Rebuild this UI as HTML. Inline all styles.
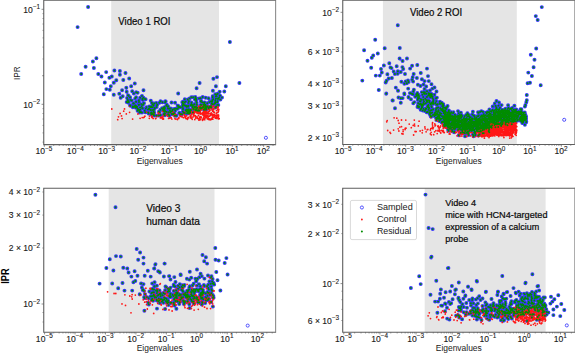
<!DOCTYPE html>
<html lang="en">
<head>
<meta charset="utf-8">
<title>IPR vs Eigenvalues</title>
<style>
html,body{margin:0;padding:0;background:#fff;}
body{width:575px;height:353px;overflow:hidden;font-family:"Liberation Sans", sans-serif;}
svg{display:block;font-family:"Liberation Sans", sans-serif;}
</style>
</head>
<body>
<svg width="575" height="353" viewBox="0 0 575 353">
<defs><filter id="sb" x="-2%" y="-2%" width="104%" height="104%"><feGaussianBlur stdDeviation="0.32"/></filter></defs>
<rect width="575" height="353" fill="#fff"/>
<clipPath id="c1"><rect x="43.75" y="0.25" width="231.9" height="144.4"/></clipPath>
<rect x="111.2" y="0.25" width="107.8" height="144.4" fill="#e5e5e5"/>
<g clip-path="url(#c1)"><g filter="url(#sb)">
<path d="M81.2 74h0M88.1 7h0M77.6 27.1h0M96.4 58.3h0M92.9 61.5h0M85.6 66.7h0M93.9 67.9h0M106.2 72.1h0M98.3 74h0M101.5 76.4h0M114.4 70.5h0M119.9 70.9h0M125.5 72.9h0M119.9 74.8h0M111.8 76.4h0M109.4 77.8h0M116.3 80.2h0M123.3 80h0M129.2 78.4h0M104.8 82.4h0M113.8 82.8h0M110.8 86.2h0M134.8 83.4h0M131.2 86.3h0M126.3 87.7h0M106.4 89.1h0M109.8 89.7h0M122.1 90.3h0M126.7 91.7h0M132.2 91.3h0M137.6 92.7h0M143.5 90.3h0M103.8 94.3h0M113.8 94.7h0M119.3 93.7h0M122.7 96.3h0M120.7 97.7h0M128.6 95.7h0M178.2 93.5h0M199.6 83h0M196.6 88.3h0M213.4 78.7h0M217 77.1h0M215.9 86.2h0M225.8 86.2h0M219.7 91.8h0M224.3 91.4h0M212.9 90.7h0M222 97.5h0M219.7 95.7h0M220.4 99.6h0M229.9 42h0M239.4 83h0M160.6 115.1h0M133.5 106.8h0M188.4 102.9h0M206.1 106.3h0M188.8 113.2h0M191.9 105.6h0M200.9 101.5h0M217.3 104.9h0M133.9 103.4h0M193.1 105.1h0M175.1 102.8h0M166.8 104.6h0M136.2 106.2h0M182 114.3h0M164.5 109.2h0M184.8 99.3h0M215.1 102.2h0M210.2 107.1h0M136 101.6h0M126.7 102h0M186.7 106.9h0M205.8 108.6h0M162.5 102.3h0M180.8 107.3h0M154.9 108h0M202.5 107.4h0M151.8 102.8h0M215.3 103h0M188.1 113.3h0M211.2 107.6h0M162 108.3h0M142 95.9h0M163.4 108.3h0M154 109.8h0M143 104.8h0M171.5 102.5h0M195.3 109.8h0M153.7 109.7h0M186.9 109.4h0M175.6 108.6h0M182.9 111.5h0M137.6 110.8h0M190.2 112.4h0M219.1 97.6h0M148.6 113.6h0M187.8 99.5h0M140.1 97.7h0M170.4 112.3h0M192.5 107h0M137.1 107h0M179.5 112.7h0M159.7 112.1h0M153.6 114.2h0M212.9 104.3h0M192.9 106.3h0M135.2 98.4h0M138.7 104.9h0M145 99h0M153.8 115.3h0M175 115.7h0M138.9 100.3h0M194.9 99.5h0M195.3 97.3h0M196.2 99.5h0M184.9 113.1h0M142.7 99.9h0M201.2 104.9h0M196 98.8h0M196.8 104.7h0M188.9 101.3h0M182.9 101.8h0M178.8 106.4h0M217.7 93.7h0M172.4 110.7h0M143.6 103.3h0M127.9 102.5h0M160.5 101.2h0M212.7 96.3h0M164.3 107.1h0M178.1 105.6h0M188.6 109.5h0M157 105.3h0M190 111.7h0M150.3 109.6h0M148.1 109.4h0M183.7 112.7h0M165.7 101.5h0M177.7 108.8h0M215.3 94.3h0M184.5 105.3h0M216.6 94.5h0M189.7 113.1h0M152.7 114h0M188.9 109.5h0M185.6 101.6h0M208.5 98.2h0M159 111.5h0M191.3 104.2h0M201.1 100.6h0M202.7 102.4h0M151.4 113.5h0M150.8 100.6h0M196.2 100.9h0M190.7 110.2h0M156.7 107h0M134.9 106.1h0M209.4 102.1h0M132.9 106.5h0M215.5 101.9h0M128.1 95.2h0M166.5 105.6h0M201.6 108.3h0M160.4 109.7h0M133.2 103.5h0M139.5 110.6h0M187.6 110.5h0M204.5 104.8h0M153.5 105.2h0M168 108.5h0M218.7 98.9h0M133.8 93.4h0M212.7 97.2h0M185.7 110.3h0M154.5 115.5h0M191.5 102.5h0M136.1 101.9h0M145.8 108.6h0M164 114.4h0M195.3 96.9h0M130.4 105.7h0M165.3 111.3h0M202 102.1h0M212.4 100.3h0M150.9 113h0M195.6 97.8h0M204.1 105.7h0M169.9 110.6h0M131.8 100.5h0M173.2 114.3h0M139.1 104.8h0M196.1 106.9h0M214.5 103.9h0M200.6 98.3h0M209.5 106.7h0M177.7 105.7h0M141.2 104.1h0M184.6 102.5h0M200.8 104.8h0M196.3 109.4h0M132.8 107.2h0M189.6 98.4h0M151.6 112.4h0M139.6 112.4h0M182.7 106.9h0M154.2 103.5h0M136.2 92.3h0M149.2 106.5h0M159.4 102.7h0M128.8 102h0M151.4 106.4h0M182 114.1h0M215.9 98.6h0M196.7 102.7h0M150.4 107.1h0M140.8 112h0M192.9 112.4h0M164.8 115.2h0M211.7 103.7h0M205.5 105.8h0M139.5 112h0M157.2 104.8h0M205.7 97.8h0M206.2 109.5h0M176.8 108.8h0M193.3 108.2h0M193.4 109.3h0M208.8 98.6h0M166.4 105.8h0M163.1 110h0M199.1 98.4h0M148.2 112.6h0M153.6 111.9h0M217.3 102.3h0M218.3 105h0M140.2 109.6h0M168.6 112.1h0M195.4 107.2h0M189.1 111.5h0M199.9 107.7h0M187.5 112.7h0M199.3 110.6h0M145.6 99.2h0M169.3 108.5h0M156.2 102.9h0M151.7 107.1h0M142.7 108.4h0M174.2 108.9h0M205.3 104.6h0M127.8 99.9h0M170.7 108.5h0M136.1 97.2h0M130 105.3h0M152.6 104.5h0M146.4 107.1h0M149.1 108.8h0M152.2 110.1h0M176.5 115.7h0M174.4 113.3h0M215.4 107.5h0M192.4 105.2h0M209.4 106.9h0M179.8 107.3h0M203.3 106.8h0M158.7 115.5h0M208.7 108.4h0M212.1 101.8h0M187.3 109.9h0M190.9 110h0M203.3 107.5h0M160.4 115.3h0M133.5 103.1h0M130.1 97.2h0M168.8 114.5h0M128.3 101.3h0M142.1 108h0M135.3 105.4h0M188.3 106.5h0M130.4 99.9h0M165 113.4h0M164.7 107.2h0M183 103.6h0M217.6 101.1h0M127.1 98h0M134.4 106.9h0M205.8 107.5h0M182.3 102.2h0M186.6 106.1h0M139 102.1h0M175.2 110.8h0M164.6 113.1h0M220.1 95.6h0M185.6 105.9h0M183 108.6h0M203.1 107.6h0M182.7 105.3h0M185.7 105.8h0M189.4 110.4h0M216.6 96.4h0M204 109.8h0M197.9 110.7h0M154.3 112.6h0M191.3 97.3h0M143.4 97.7h0M172.8 114.1h0M194.5 104.3h0M144.7 110.6h0M190.8 109.9h0M165.1 102.4h0M195.2 99h0M183.3 104.1h0M137.7 108.7h0M187.1 113.4h0M195.8 110.2h0M211 101.5h0M165.4 101.3h0M141.9 112.6h0M215.1 103h0M216.1 106.7h0M193.1 97.3h0M207.4 106.5h0M168.2 114.3h0M196.7 110.2h0M204.6 102.5h0M152.9 107.1h0M202.7 97h0M153.8 111.6h0M171.1 111.4h0M188.9 109.6h0M179.1 113h0M215.3 100.2h0M141.7 106.1h0M138.8 109.8h0M173.7 113.4h0M151.3 114.4h0M206.3 108h0M207.3 103.3h0M215.8 96.4h0M196.5 107.7h0M211.1 106.1h0M200.2 107.3h0M194.9 106.7h0M200.4 108.6h0M144 103.3h0M205.2 109.6h0M183 109.2h0M164.1 113.6h0M168.1 106.3h0M171.8 114h0M217.7 98.8h0M203.3 104.6h0M188.3 105.6h0M169.3 115.7h0M204.9 108.1h0M180.5 114.3h0M197.6 107.9h0M198.7 110.2h0M140.1 107.6h0M135.9 107.7h0M213.2 99.2h0M186.5 111.3h0M194.5 107.5h0M163.9 111h0M167.9 106.7h0M148.2 112.5h0M139 101.7h0M163.8 109.2h0M172.6 109.8h0M164.8 108.4h0M178.5 107.3h0M166.7 111.9h0M164.4 110h0M142.4 98.9h0M208.7 107.7h0M190.6 105.3h0M205.1 109.5h0M145.3 112.2h0M188.6 111.6h0M204.3 102.9h0M150.5 110h0M156.6 115.6h0" stroke="#3838fc" stroke-width="3.95" stroke-linecap="round" fill="none"/>
<circle cx="265.9" cy="137.8" r="1.55" fill="none" stroke="#3838fc" stroke-width="0.85"/>
<path d="M111.8 109h0M129.6 106.2h0M123.7 111.2h0M120.1 113.5h0M126.3 113.9h0M117.7 119.7h0M132.6 119.1h0M122.1 118.6h0M129.6 112.3h0M118.5 116.8h0M124.5 108.9h0M121.5 115.9h0M180.5 113.9h0M191 117.9h0M162.4 118.5h0M175.2 119.1h0M163.3 114.9h0M167.5 116.1h0M144.9 116.2h0M166.9 115.2h0M177.6 119.1h0M186.5 111.1h0M153.2 118.4h0M185.8 116.1h0M156.9 116.4h0M152.1 116.6h0M146.6 112.2h0M184.1 114.2h0M162.4 118.2h0M173.4 115.4h0M193 116.9h0M160.4 117.9h0M140.1 118.3h0M164.1 115h0M148.8 112.6h0M169.9 118h0M174.4 115.9h0M173.1 113.6h0M192.2 119.3h0M155.6 118.7h0M162.8 119h0M182.2 116.1h0M149.3 118.3h0M186.6 115.8h0M160.1 113.8h0M191.3 114.7h0M184.4 112.2h0M169 115h0M174.4 113.8h0M164.8 111.3h0M142.2 117.6h0M158.5 115.7h0M188.4 117.5h0M184.9 112.5h0M176.9 119.1h0M162 117.9h0M162.6 111.4h0M173.6 112.8h0M191 111.7h0M163.5 119h0M189.2 114.1h0M175.7 114.7h0M175 118.5h0M154.3 113.6h0M178.9 117.7h0M162.2 116.9h0M190.6 117.7h0M151.8 115.5h0M175.2 115.6h0M183.5 117.7h0M171.9 119.1h0M172.9 111.9h0M152.2 117.6h0M148.7 112.8h0M144.2 117.1h0M158.4 112.5h0M160.8 117.4h0M187.8 118.4h0M170 112.9h0M174.6 115.1h0M187.5 119.3h0M137.9 114h0M181.1 114h0M166.7 112.4h0M149.5 116.1h0M151.7 116.9h0M190.2 115.9h0M158.3 112.7h0M163.2 116.8h0M180 115.9h0M164.7 114.6h0M158.2 113.7h0M177.5 119.5h0M187.3 118.2h0M182 116.9h0M178.8 118.4h0M159 115.7h0M155.9 118.3h0M168.6 118.4h0M185.3 117.6h0M184.9 116.4h0M179.8 114.1h0M171.2 117.7h0M143.6 117.6h0M186 118.5h0M184.5 115.5h0M180.5 116.3h0M216.9 112.8h0M212.8 119.2h0M205.7 113.4h0M207.3 116.2h0M211.1 119.1h0M194.8 119.6h0M211.8 106.8h0M219.2 118.7h0M200.6 110.5h0M193.2 114.3h0M208.6 106.4h0M208.1 112.6h0M214.1 112.5h0M193.6 112.5h0M201.1 117.5h0M200.6 114.1h0M201.1 113.3h0M216.6 116.9h0M203.8 116.1h0M212.2 119.1h0M212.8 111.1h0M194.7 109.7h0M203.1 114.3h0M198.2 113.2h0M209 109.5h0M196.6 109.6h0M198.1 111h0M196 108.9h0M198.5 109.7h0M191.5 112.7h0M199.7 117.7h0M207 112.7h0M211.5 108.2h0M214.2 114.7h0M210.8 115h0M202.7 109.2h0M212.9 115.2h0M202.6 112.9h0M208.8 118.9h0M199.3 112.7h0M211.4 107.9h0M217.8 109.2h0M202.7 120.3h0M191 116.3h0M203.2 119.2h0M211.5 118.6h0M193.1 112.8h0M209.7 116.1h0M205.8 116.2h0M215.6 117.3h0M205.7 109.6h0M207.4 118.5h0M211.2 114.3h0M218.1 107h0M204.2 114.3h0M218.6 116.8h0M211.9 108.9h0M213.7 109.6h0M218.5 109.9h0M195.5 115.9h0M205.7 116.8h0M212.9 114.9h0M207.3 116.3h0M200.3 106.4h0M204.8 106.9h0M210.1 115.3h0M207.5 118.9h0M194 111.5h0M204.3 107.4h0M197.3 113.3h0M210.6 106.6h0M200.5 117h0M199 120.2h0M196.6 107.1h0M193 108.3h0M202.4 113.2h0M214.2 112.6h0M204.4 113.6h0M207.1 109.5h0M205.7 117.3h0M204.1 108.8h0M198.7 108.7h0M218.5 118.9h0M212.2 114.4h0M218.6 115.2h0M206.4 111.8h0M198.7 106.1h0M218.5 110.7h0M196.2 107.3h0M205.4 106.5h0M206.4 115.4h0M196.1 111.1h0M204.9 110.4h0M199.9 119h0M208.7 113h0M214 117h0M199.3 113.6h0M195.9 106.4h0M206.9 113.6h0M203.7 117.7h0M210.1 113.8h0M212.6 109.6h0M212.8 114.7h0M204.5 111.7h0M217.1 115.2h0M198.4 115.7h0M202.7 106.2h0M212.7 111.3h0M213.7 108.6h0M203.3 112.9h0M204.7 119.4h0M201.5 105.9h0M197.9 112.2h0M199.8 107.7h0M218.2 112h0M201.3 117.2h0M218.4 111.6h0M211.2 112.8h0M210.3 119.8h0M196.9 116.8h0M200 116.6h0M201 110.2h0M210.1 115.6h0M205.9 116.3h0M195.7 118.1h0M212.7 118.8h0M215.4 107h0M198.9 109.6h0M191.8 118.2h0M209.4 111.1h0M216.2 115.6h0M209.1 119.7h0M199.6 113.3h0M209.4 111.2h0M202.8 107.7h0M190.1 110.8h0M196.5 108.1h0M215.8 108.1h0M204.7 119.7h0M195.2 111.6h0M215.5 118.2h0M210.6 119.5h0M208.2 118.1h0M207.4 106.5h0M211.1 105.5h0M210 110.2h0M216.3 113.3h0M196.2 110.6h0M194.6 112.4h0M205.9 116.7h0M213.4 111.6h0M198.7 107.3h0M208.6 106.8h0M190.1 116.2h0M218 112.3h0M206 117.3h0M212.1 110h0M211.7 119.3h0M198.5 115.3h0M196.5 112.5h0M200.3 119.7h0M199.1 113.4h0M198.6 118.7h0M213.6 117h0M193.6 114h0M196.1 110.8h0M213.1 106.7h0M210.6 108.1h0M203.4 115.1h0M200.5 107.4h0M194.4 113.1h0M193.2 113.3h0M204.7 110.2h0M216.6 110.6h0M206 115.1h0M202.4 114.6h0M202.4 120h0M209.6 118.9h0M203.4 115.3h0M204.6 107.1h0M212.4 114.1h0M214.4 115.2h0M193.5 115.8h0M213.9 109.1h0M214.4 112.4h0M208.2 113.8h0M204.9 116.6h0M218.1 115.9h0M205.2 111.8h0M213.6 106h0M204.9 118.5h0M202.5 108.9h0M197.3 117.7h0M198.5 113h0M207.9 115.5h0M200.2 112.5h0M190.3 117.9h0M206.9 117.8h0M212.3 117.5h0M216.8 118.4h0M210.5 114.1h0M197.4 118.4h0M194.6 115.4h0M205.6 113.1h0M208.6 116.5h0M204.7 118.9h0M208.1 111.8h0M208.2 119.1h0M215.5 115.3h0M207.8 106.2h0M203.5 111.3h0M203.9 113.1h0M207.5 115.8h0M191.4 111.1h0M193.5 115.6h0M195.4 109.7h0M203.5 111.4h0M195.6 108.1h0M203.5 115.5h0M218.8 109.4h0M193.7 111.9h0M216.1 115.5h0M203.9 112.4h0M204.7 115h0M218.2 114.9h0M216.8 117.3h0M200.5 108.6h0M216.7 107.1h0M208.7 107.7h0M195.3 116.5h0M218 107.6h0M205.9 112h0M212.5 117h0M192.4 108.9h0M212.2 115.1h0M202.2 119.1h0M214.3 116.5h0M207.9 115.6h0M208.2 118.4h0M218.1 117.3h0" stroke="#ff1414" stroke-width="1.76" stroke-linecap="round" fill="none"/>
</g>
<path d="M81.2 74h0M88.1 7h0M77.6 27.1h0M96.4 58.3h0M92.9 61.5h0M85.6 66.7h0M93.9 67.9h0M106.2 72.1h0M98.3 74h0M101.5 76.4h0M114.4 70.5h0M119.9 70.9h0M125.5 72.9h0M119.9 74.8h0M111.8 76.4h0M109.4 77.8h0M116.3 80.2h0M123.3 80h0M129.2 78.4h0M104.8 82.4h0M113.8 82.8h0M110.8 86.2h0M134.8 83.4h0M131.2 86.3h0M126.3 87.7h0M106.4 89.1h0M109.8 89.7h0M122.1 90.3h0M126.7 91.7h0M132.2 91.3h0M137.6 92.7h0M143.5 90.3h0M103.8 94.3h0M113.8 94.7h0M119.3 93.7h0M122.7 96.3h0M120.7 97.7h0M128.6 95.7h0M178.2 93.5h0M199.6 83h0M196.6 88.3h0M213.4 78.7h0M217 77.1h0M215.9 86.2h0M225.8 86.2h0M219.7 91.8h0M224.3 91.4h0M212.9 90.7h0M222 97.5h0M219.7 95.7h0M220.4 99.6h0M229.9 42h0M239.4 83h0M160.6 115.1h0M133.5 106.8h0M188.4 102.9h0M206.1 106.3h0M188.8 113.2h0M191.9 105.6h0M200.9 101.5h0M217.3 104.9h0M133.9 103.4h0M193.1 105.1h0M175.1 102.8h0M166.8 104.6h0M136.2 106.2h0M182 114.3h0M164.5 109.2h0M184.8 99.3h0M215.1 102.2h0M210.2 107.1h0M136 101.6h0M126.7 102h0M186.7 106.9h0M205.8 108.6h0M162.5 102.3h0M180.8 107.3h0M154.9 108h0M202.5 107.4h0M151.8 102.8h0M215.3 103h0M188.1 113.3h0M211.2 107.6h0M162 108.3h0M142 95.9h0M163.4 108.3h0M154 109.8h0M143 104.8h0M171.5 102.5h0M195.3 109.8h0M153.7 109.7h0M186.9 109.4h0M175.6 108.6h0M182.9 111.5h0M137.6 110.8h0M190.2 112.4h0M219.1 97.6h0M148.6 113.6h0M187.8 99.5h0M140.1 97.7h0M170.4 112.3h0M192.5 107h0M137.1 107h0M179.5 112.7h0M159.7 112.1h0M153.6 114.2h0M212.9 104.3h0M192.9 106.3h0M135.2 98.4h0M138.7 104.9h0M145 99h0M153.8 115.3h0M175 115.7h0M138.9 100.3h0M194.9 99.5h0M195.3 97.3h0M196.2 99.5h0M184.9 113.1h0M142.7 99.9h0M201.2 104.9h0M196 98.8h0M196.8 104.7h0M188.9 101.3h0M182.9 101.8h0M178.8 106.4h0M217.7 93.7h0M172.4 110.7h0M143.6 103.3h0M127.9 102.5h0M160.5 101.2h0M212.7 96.3h0M164.3 107.1h0M178.1 105.6h0M188.6 109.5h0M157 105.3h0M190 111.7h0M150.3 109.6h0M148.1 109.4h0M183.7 112.7h0M165.7 101.5h0M177.7 108.8h0M215.3 94.3h0M184.5 105.3h0M216.6 94.5h0M189.7 113.1h0M152.7 114h0M188.9 109.5h0M185.6 101.6h0M208.5 98.2h0M159 111.5h0M191.3 104.2h0M201.1 100.6h0M202.7 102.4h0M151.4 113.5h0M150.8 100.6h0M196.2 100.9h0M190.7 110.2h0M156.7 107h0M134.9 106.1h0M209.4 102.1h0M132.9 106.5h0M215.5 101.9h0M128.1 95.2h0M166.5 105.6h0M201.6 108.3h0M160.4 109.7h0M133.2 103.5h0M139.5 110.6h0M187.6 110.5h0M204.5 104.8h0M153.5 105.2h0M168 108.5h0M218.7 98.9h0M133.8 93.4h0M212.7 97.2h0M185.7 110.3h0M154.5 115.5h0M191.5 102.5h0M136.1 101.9h0M145.8 108.6h0M164 114.4h0M195.3 96.9h0M130.4 105.7h0M165.3 111.3h0M202 102.1h0M212.4 100.3h0M150.9 113h0M195.6 97.8h0M204.1 105.7h0M169.9 110.6h0M131.8 100.5h0M173.2 114.3h0M139.1 104.8h0M196.1 106.9h0M214.5 103.9h0M200.6 98.3h0M209.5 106.7h0M177.7 105.7h0M141.2 104.1h0M184.6 102.5h0M200.8 104.8h0M196.3 109.4h0M132.8 107.2h0M189.6 98.4h0M151.6 112.4h0M139.6 112.4h0M182.7 106.9h0M154.2 103.5h0M136.2 92.3h0M149.2 106.5h0M159.4 102.7h0M128.8 102h0M151.4 106.4h0M182 114.1h0M215.9 98.6h0M196.7 102.7h0M150.4 107.1h0M140.8 112h0M192.9 112.4h0M164.8 115.2h0M211.7 103.7h0M205.5 105.8h0M139.5 112h0M157.2 104.8h0M205.7 97.8h0M206.2 109.5h0M176.8 108.8h0M193.3 108.2h0M193.4 109.3h0M208.8 98.6h0M166.4 105.8h0M163.1 110h0M199.1 98.4h0M148.2 112.6h0M153.6 111.9h0M217.3 102.3h0M218.3 105h0M140.2 109.6h0M168.6 112.1h0M195.4 107.2h0M189.1 111.5h0M199.9 107.7h0M187.5 112.7h0M199.3 110.6h0M145.6 99.2h0M169.3 108.5h0M156.2 102.9h0M151.7 107.1h0M142.7 108.4h0M174.2 108.9h0M205.3 104.6h0M127.8 99.9h0M170.7 108.5h0M136.1 97.2h0M130 105.3h0M152.6 104.5h0M146.4 107.1h0M149.1 108.8h0M152.2 110.1h0M176.5 115.7h0M174.4 113.3h0M215.4 107.5h0M192.4 105.2h0M209.4 106.9h0M179.8 107.3h0M203.3 106.8h0M158.7 115.5h0M208.7 108.4h0M212.1 101.8h0M187.3 109.9h0M190.9 110h0M203.3 107.5h0M160.4 115.3h0M133.5 103.1h0M130.1 97.2h0M168.8 114.5h0M128.3 101.3h0M142.1 108h0M135.3 105.4h0M188.3 106.5h0M130.4 99.9h0M165 113.4h0M164.7 107.2h0M183 103.6h0M217.6 101.1h0M127.1 98h0M134.4 106.9h0M205.8 107.5h0M182.3 102.2h0M186.6 106.1h0M139 102.1h0M175.2 110.8h0M164.6 113.1h0M220.1 95.6h0M185.6 105.9h0M183 108.6h0M203.1 107.6h0M182.7 105.3h0M185.7 105.8h0M189.4 110.4h0M216.6 96.4h0M204 109.8h0M197.9 110.7h0M154.3 112.6h0M191.3 97.3h0M143.4 97.7h0M172.8 114.1h0M194.5 104.3h0M144.7 110.6h0M190.8 109.9h0M165.1 102.4h0M195.2 99h0M183.3 104.1h0M137.7 108.7h0M187.1 113.4h0M195.8 110.2h0M211 101.5h0M165.4 101.3h0M141.9 112.6h0M215.1 103h0M216.1 106.7h0M193.1 97.3h0M207.4 106.5h0M168.2 114.3h0M196.7 110.2h0M204.6 102.5h0M152.9 107.1h0M202.7 97h0M153.8 111.6h0M171.1 111.4h0M188.9 109.6h0M179.1 113h0M215.3 100.2h0M141.7 106.1h0M138.8 109.8h0M173.7 113.4h0M151.3 114.4h0M206.3 108h0M207.3 103.3h0M215.8 96.4h0M196.5 107.7h0M211.1 106.1h0M200.2 107.3h0M194.9 106.7h0M200.4 108.6h0M144 103.3h0M205.2 109.6h0M183 109.2h0M164.1 113.6h0M168.1 106.3h0M171.8 114h0M217.7 98.8h0M203.3 104.6h0M188.3 105.6h0M169.3 115.7h0M204.9 108.1h0M180.5 114.3h0M197.6 107.9h0M198.7 110.2h0M140.1 107.6h0M135.9 107.7h0M213.2 99.2h0M186.5 111.3h0M194.5 107.5h0M163.9 111h0M167.9 106.7h0M148.2 112.5h0M139 101.7h0M163.8 109.2h0M172.6 109.8h0M164.8 108.4h0M178.5 107.3h0M166.7 111.9h0M164.4 110h0M142.4 98.9h0M208.7 107.7h0M190.6 105.3h0M205.1 109.5h0M145.3 112.2h0M188.6 111.6h0M204.3 102.9h0M150.5 110h0M156.6 115.6h0" stroke="#008c00" stroke-width="1.9" stroke-linecap="round" fill="none"/>
</g>
<path d="M44.3 144.65v2.2M53.73 144.65v1.2M59.25 144.65v1.2M63.16 144.65v1.2M66.2 144.65v1.2M68.68 144.65v1.2M70.78 144.65v1.2M72.59 144.65v1.2M74.2 144.65v1.2M75.63 144.65v2.2M85.06 144.65v1.2M90.58 144.65v1.2M94.49 144.65v1.2M97.53 144.65v1.2M100.01 144.65v1.2M102.11 144.65v1.2M103.92 144.65v1.2M105.53 144.65v1.2M106.96 144.65v2.2M116.39 144.65v1.2M121.91 144.65v1.2M125.82 144.65v1.2M128.86 144.65v1.2M131.34 144.65v1.2M133.44 144.65v1.2M135.25 144.65v1.2M136.86 144.65v1.2M138.29 144.65v2.2M147.72 144.65v1.2M153.24 144.65v1.2M157.15 144.65v1.2M160.19 144.65v1.2M162.67 144.65v1.2M164.77 144.65v1.2M166.58 144.65v1.2M168.19 144.65v1.2M169.62 144.65v2.2M179.05 144.65v1.2M184.57 144.65v1.2M188.48 144.65v1.2M191.52 144.65v1.2M194 144.65v1.2M196.1 144.65v1.2M197.91 144.65v1.2M199.52 144.65v1.2M200.95 144.65v2.2M210.38 144.65v1.2M215.9 144.65v1.2M219.81 144.65v1.2M222.85 144.65v1.2M225.33 144.65v1.2M227.43 144.65v1.2M229.24 144.65v1.2M230.85 144.65v1.2M232.28 144.65v2.2M241.71 144.65v1.2M247.23 144.65v1.2M251.14 144.65v1.2M254.18 144.65v1.2M256.66 144.65v1.2M258.76 144.65v1.2M260.57 144.65v1.2M262.18 144.65v1.2M263.61 144.65v2.2M273.04 144.65v1.2M43.75 9.3h-2.2M43.75 104.3h-2.2M43.75 75.7h-1.2M43.75 58.97h-1.2M43.75 47.1h-1.2M43.75 37.9h-1.2M43.75 30.38h-1.2M43.75 24.02h-1.2M43.75 18.51h-1.2M43.75 13.65h-1.2M43.75 75.7h-1.2M43.75 142.1h-1.2M43.75 132.9h-1.2M43.75 125.38h-1.2M43.75 119.02h-1.2M43.75 113.51h-1.2M43.75 108.65h-1.2" stroke="#5e5e5e" stroke-width="0.7" fill="none"/>
<path d="M43.75 -0.25V145.15M43.75 0.25H275.65M43.75 144.65H275.65" fill="none" stroke="#5e5e5e" stroke-width="1.1"/>
<path d="M275.65 -0.25V145.15" fill="none" stroke="#5e5e5e" stroke-width="0.78"/>
<text x="44" y="154.4" text-anchor="middle" font-size="8.6" fill="#1a1a1a" stroke="#1a1a1a" stroke-width="0.12">10<tspan dy="-3.4" font-size="6.4">−5</tspan></text>
<text x="75.3" y="154.4" text-anchor="middle" font-size="8.6" fill="#1a1a1a" stroke="#1a1a1a" stroke-width="0.12">10<tspan dy="-3.4" font-size="6.4">−4</tspan></text>
<text x="106.7" y="154.4" text-anchor="middle" font-size="8.6" fill="#1a1a1a" stroke="#1a1a1a" stroke-width="0.12">10<tspan dy="-3.4" font-size="6.4">−3</tspan></text>
<text x="138" y="154.4" text-anchor="middle" font-size="8.6" fill="#1a1a1a" stroke="#1a1a1a" stroke-width="0.12">10<tspan dy="-3.4" font-size="6.4">−2</tspan></text>
<text x="169.3" y="154.4" text-anchor="middle" font-size="8.6" fill="#1a1a1a" stroke="#1a1a1a" stroke-width="0.12">10<tspan dy="-3.4" font-size="6.4">−1</tspan></text>
<text x="200.6" y="154.4" text-anchor="middle" font-size="8.6" fill="#1a1a1a" stroke="#1a1a1a" stroke-width="0.12">10<tspan dy="-3.4" font-size="6.4">0</tspan></text>
<text x="232" y="154.4" text-anchor="middle" font-size="8.6" fill="#1a1a1a" stroke="#1a1a1a" stroke-width="0.12">10<tspan dy="-3.4" font-size="6.4">1</tspan></text>
<text x="263.3" y="154.4" text-anchor="middle" font-size="8.6" fill="#1a1a1a" stroke="#1a1a1a" stroke-width="0.12">10<tspan dy="-3.4" font-size="6.4">2</tspan></text>
<text x="40.2" y="12.6" text-anchor="end" font-size="8.6" fill="#1a1a1a" stroke="#1a1a1a" stroke-width="0.12">10<tspan dy="-3.4" font-size="6.4">−1</tspan></text>
<text x="40.2" y="107.6" text-anchor="end" font-size="8.6" fill="#1a1a1a" stroke="#1a1a1a" stroke-width="0.12">10<tspan dy="-3.4" font-size="6.4">−2</tspan></text>
<text x="159.7" y="163.6" text-anchor="middle" font-size="8.4" textLength="46" lengthAdjust="spacingAndGlyphs" fill="#1a1a1a">Eigenvalues</text>
<clipPath id="c2"><rect x="342.75" y="0.25" width="232.1" height="144.25"/></clipPath>
<rect x="382.9" y="0.25" width="133.9" height="144.25" fill="#e5e5e5"/>
<g clip-path="url(#c2)"><g filter="url(#sb)">
<path d="M397.8 25.2h0M375.2 39.7h0M364.1 50.2h0M384.7 48.3h0M399.8 47.9h0M377.8 53.4h0M373.2 55.4h0M371.8 57.8h0M367.5 60.8h0M399.6 58.4h0M407 58.4h0M371.2 67.7h0M375.8 75.6h0M379.8 75.6h0M362.3 80.6h0M378.8 89.9h0M402.6 61h0M389.3 63.3h0M383.9 65.4h0M396.7 66.2h0M390.5 67.4h0M391.5 68.1h0M402.4 67.1h0M403.2 68.9h0M412.1 65.7h0M417.3 65h0M410.1 68.6h0M427 68.6h0M381 68.9h0M381.8 72.5h0M393.7 71.5h0M397.9 71.3h0M400.8 71.9h0M387.4 74.3h0M394.9 74h0M397.6 73.7h0M405 74h0M413.7 74h0M420.8 72.9h0M428 76.1h0M412.7 77.3h0M416.9 77.9h0M388.7 78.5h0M391.9 77.9h0M421.9 79.3h0M424.6 81.1h0M428.8 81.1h0M386.5 80.8h0M385.7 82.4h0M401.4 81.7h0M405.6 81.4h0M408 80.5h0M408.6 82h0M406.8 83.2h0M404.4 83.8h0M412.1 79.6h0M413.1 81.4h0M417.9 84.8h0M420.5 86h0M395.8 87.6h0M398.1 90.7h0M408.2 88.6h0M413.9 89.8h0M413.3 91.5h0M410.7 93.1h0M412.1 93.9h0M386.2 93.7h0M404.4 94.2h0M398.5 97.5h0M402.6 98.1h0M392.5 100.5h0M408.6 97.5h0M411 99.3h0M432.4 88.6h0M430 90.4h0M427 91.2h0M436.5 91.5h0M386.3 93.5h0M392.8 100.4h0M395 108.3h0M400.8 98.3h0M400.8 102.8h0M398 90.7h0M404.3 93.5h0M408.5 96.9h0M409.9 93.1h0M413.3 103.2h0M418.9 107.4h0M422.8 110.6h0M423.5 84.5h0M426.2 86.5h0M431.5 84.2h0M434.5 87.5h0M424.5 88.9h0M541.8 7.1h0M535.8 16.1h0M537.7 20h0M536.2 48.5h0M530.8 54.7h0M534.5 59.8h0M533.6 67.2h0M528.3 72.6h0M531.9 76h0M527.6 83.3h0M530 82.8h0M540.7 85.3h0M526.8 95h0M526.8 100.3h0M526.3 102.3h0M525.4 104.9h0M524.9 106.6h0M508.1 105.2h0M514.4 105.7h0M496.5 101h0M499 102.5h0M494.8 103.5h0M437.4 104.7h0M445.2 118.2h0M424 101.6h0M444.3 124.7h0M448.7 117.6h0M424.8 93.9h0M417.7 95.8h0M448.7 118.5h0M428.3 107.4h0M436.2 101.1h0M430 113.1h0M428.9 108.1h0M447.3 119.6h0M430.2 110.5h0M425.9 108.5h0M433.1 114.7h0M421.3 105.3h0M438.5 110.3h0M438.7 110.6h0M439.3 121h0M442.6 109.8h0M427.8 105.8h0M430.4 103.4h0M439.9 112.5h0M449.7 117h0M428.6 109.8h0M433.1 109.3h0M442.1 121.4h0M433.3 99.1h0M432.6 103.6h0M428.2 95.5h0M437.7 104.2h0M442.9 106.7h0M432.5 98.1h0M444.9 118.8h0M430.2 115.1h0M430.8 116.4h0M428.4 104.9h0M436.9 97.6h0M422 104.4h0M436.4 104.6h0M428.5 100.4h0M423.6 92.2h0M424.8 111h0M423 104.6h0M442.6 111.1h0M416.4 94.5h0M439.7 114.2h0M422.4 94.8h0M424.8 92.6h0M427.2 101.9h0M438.6 115.3h0M431.8 116.1h0M448.7 122.9h0M420.7 99.3h0M436.5 108.4h0M432.5 96.4h0M437.1 112.1h0M435.5 103h0M436.4 120h0M431.2 116.7h0M414.4 102.1h0M444.8 123.3h0M425.3 109.7h0M448.2 127.5h0M441.4 113.6h0M438.2 110.7h0M421.8 106.7h0M437.5 113.9h0M436.9 113.7h0M430.9 96.4h0M422.9 105.3h0M421.3 99.7h0M442.1 116.3h0M428.5 93.1h0M417.3 93h0M425.8 103.3h0M439.8 101.7h0M429.1 94.1h0M431 96.3h0M431.7 103.6h0M448.8 126.8h0M440.2 103.9h0M438.5 118.8h0M429.3 102.2h0M448.7 117h0M429.5 113.4h0M445.2 119.8h0M433.6 103.7h0M431.4 106.3h0M433.3 100.4h0M416.6 95.8h0M432.6 103.6h0M424.9 92.2h0M417.8 99.7h0M445.9 112h0M450 128.9h0M420.5 101.4h0M437.9 117.3h0M448.9 125.7h0M443.2 107.9h0M426.9 101.4h0M427.2 100.4h0M423.5 108.9h0M443.4 121.7h0M424.4 93.6h0M437.4 118.5h0M440.2 115.3h0M441.4 103.5h0M418.1 98.4h0M437.2 117.1h0M430.3 97.3h0M423.2 97h0M426.8 97h0M444.2 111.9h0M434.3 116.1h0M443 104h0M441.2 103.6h0M423.8 93.1h0M427 97.1h0M437.1 107.7h0M423 104.2h0M448.5 122.6h0M420.7 109.7h0M433.1 101.7h0M447 123h0M439.7 103.7h0M443.9 125.1h0M443.5 117.3h0M449.3 126.9h0M439.4 117h0M419.1 106.8h0M441.7 102.8h0M443.2 117.7h0M429.8 95.8h0M440.3 119.7h0M425.3 98.8h0M447.5 122.2h0M433.3 101.9h0M446 108.8h0M438.2 111.8h0M447.1 124.9h0M422.5 105.8h0M440.3 108.3h0M448.1 125.8h0M435.8 113.6h0M436.1 111.5h0M431.5 110.1h0M445.8 121.1h0M443.4 105.4h0M430.9 95.6h0M443.2 116.2h0M449.2 127h0M423.3 99.7h0M435.7 115.2h0M434.9 112.9h0M441.8 109.3h0M434.3 114.4h0M440.7 115.4h0M419.1 98h0M447.6 121.8h0M448.5 111.6h0M430.9 94.4h0M420.6 103.8h0M442.2 106.1h0M432 96.8h0M447.6 112.7h0M444 121h0M430.8 113.2h0M417.6 95.4h0M418.2 103.3h0M427.8 112h0M442.3 109.7h0M426.6 112.2h0M429.2 108h0M449.4 122.2h0M424.4 93.9h0M430.3 95.2h0M417.5 106.9h0M432.7 103.8h0M431.7 107h0M449.4 112.9h0M429.8 112.1h0M422 107.4h0M444 107.6h0M438.2 107.5h0M433 109.6h0M430.7 104.2h0M448.6 111.6h0M436 118h0M426.4 93.8h0M431.9 94.8h0M417.8 105.6h0M415.2 96.7h0M435.9 110.1h0M435.3 114.3h0M427.3 106.7h0M437.5 114.7h0M446.4 118h0M419.6 104.2h0M432.1 112.5h0M424.2 103.9h0M419.1 96.1h0M421.8 92.2h0M439.9 118.2h0M443.7 111.5h0M445.8 107.8h0M437.9 116.8h0M413 94.2h0M423.5 102.6h0M445.1 111h0M435 113.8h0M429.5 113.7h0M429.3 101h0M442.6 105.2h0M441.8 122.5h0M417.1 93.4h0M440.1 119.3h0M441.8 118.6h0M431.9 102.7h0M445.6 119.2h0M429.9 93.6h0M443.3 104.1h0M419.8 101.1h0M442.5 111h0M428.5 106h0M434.4 94.8h0M444.3 122.5h0M426.4 100.2h0M426.2 108.7h0M418.3 94.5h0M436.1 108.9h0M431.6 94h0M445.3 122.5h0M417.9 97.9h0M421.1 108.7h0M441.1 109.9h0M423.6 100h0M448.3 127.2h0M447.7 121.9h0M437.8 114.3h0M449.2 120.8h0M440.8 118.9h0M436 98.3h0M457.5 123h0M472.6 118.4h0M478 112.3h0M460.3 116.2h0M496.9 117.6h0M523.6 120.7h0M469 127.5h0M497.5 120.9h0M504.7 120.5h0M480.2 127.3h0M452.5 119.1h0M454.3 118h0M501.9 109.6h0M491.2 120.4h0M458.8 113.1h0M525.3 116.6h0M469.8 119.7h0M463.8 118.2h0M526.3 121.4h0M494.6 115.7h0M460 125.3h0M468.2 124.7h0M501 122.3h0M443.7 113h0M446.9 124.3h0M492.7 119.5h0M510.1 119h0M492.1 117.6h0M465 128.1h0M469.7 125.1h0M483.1 120.2h0M505.7 121h0M503.4 111.6h0M479.2 122.8h0M516.4 115.2h0M454.9 114.7h0M508 113.3h0M465.5 121.3h0M485.4 118.9h0M449.8 123.7h0M514.7 119.2h0M453 121.8h0M506.3 116.2h0M444.7 114.2h0M509.2 112.7h0M509.9 115.2h0M469.4 130h0M503.1 115.6h0M489.7 121.5h0M520.5 109.3h0M501.1 114.4h0M523.7 120h0M478.2 129.4h0M497.7 116.5h0M502.4 110h0M498.1 120.7h0M468.8 124.4h0M476.5 117.8h0M449.8 118.8h0M448.1 121.2h0M499.9 118.4h0M507.5 121.7h0M462.1 120.8h0M456.1 124.9h0M493.2 120.1h0M483.8 125.4h0M468 114.2h0M489.1 121.2h0M489.8 119.6h0M523.2 117.4h0M453.8 123.2h0M454 129h0M482.6 122.1h0M459.9 128.3h0M464.4 122h0M472.4 129.3h0M445.8 117h0M443.8 110.2h0M514.2 117.2h0M513.1 122h0M483.6 125.2h0M492 121.7h0M492.7 117.1h0M445.5 118.6h0M511.2 121.3h0M457.6 126.7h0M460.2 127.5h0M474.6 116.2h0M464.6 122.6h0M474 121.5h0M504.7 118h0M493.6 121.1h0M485.5 121.4h0M485.7 117.9h0M462.9 128.2h0M513 116.9h0M450.7 115.2h0M445.8 113.9h0M488.3 127.9h0M463.1 128.2h0M485.5 126h0M477.6 122.3h0M509 116.1h0M498.9 110.7h0M520.7 116.9h0M488.3 116.8h0M462.6 125.4h0M482.6 129.9h0M498.2 115.4h0M505 113.5h0M518.2 112.6h0M472 119.1h0M468.1 125.9h0M481.9 125.1h0M471.6 129.6h0M485.6 122h0M488.1 121.1h0M466.1 121.1h0M483.2 129.5h0M444 117.8h0M475.6 128.7h0M521.1 109.4h0M493.6 112.3h0M507.5 125.3h0M486 123.9h0M449.5 114.6h0M466.8 129.6h0M473.1 127.4h0M465.4 122.3h0M522.7 118.5h0M449.9 128.5h0M504 116.5h0M513.1 113.5h0M506.4 119.2h0M464.1 120.7h0M482.8 127.4h0M489.1 128.7h0M456 120.2h0M465.2 124.9h0M499.3 109.3h0M519.8 112.3h0M448.4 120.9h0M454.9 125.3h0M489.4 117.2h0M498.9 117h0M468.7 135.1h0M523.2 114.8h0M474.8 124.1h0M514.4 121.4h0M484.3 125.9h0M452.3 117.8h0M485 123.1h0M523.1 119.6h0M491.1 119.2h0M516.4 112h0M511.8 116.9h0M450 120.5h0M521.7 116.8h0M484.6 120.4h0M451.8 116.8h0M508 116.8h0M453.3 125.4h0M493.6 119.4h0M521.8 120.9h0M502.2 121.6h0M525.5 119.9h0M454.4 124.4h0M492.6 119.2h0M521.8 117h0M465.2 131.1h0M513.9 119.5h0M490.8 113.9h0M502.9 112.4h0M452.8 120.4h0M452.3 119.6h0M505 109.3h0M489.1 130.1h0M488.5 116.7h0M489.4 123.8h0M493.1 114.5h0M481.6 120.6h0M445.6 114.5h0M507 120.6h0M492.5 118.3h0M485.6 127.2h0M502.4 114.1h0M508.7 117.9h0M517.8 120.5h0M446.3 120.9h0M496 110.1h0M456.6 125.3h0M504.3 114.2h0M461 122.5h0M446.6 107.4h0M487.7 115.5h0M481.1 121.9h0M517.8 119.9h0M443.9 118.8h0M484.1 128.3h0M517.1 116.6h0M497.7 117.3h0M494.3 123.1h0M508.4 116.6h0M447.3 123.7h0M457.3 119.3h0M516.9 111.9h0M450.9 113.3h0M506 120.7h0M497.5 124.3h0M449.1 126.1h0M511.6 113.9h0M488.7 118.8h0M480.3 125.6h0M494.7 124.6h0M450.3 115.3h0M486.9 118.8h0M497.6 116.7h0M523.4 120.3h0M470 121.8h0M498.3 115.8h0M498.4 121.5h0M456.6 121.6h0M465.9 123h0M465.4 123.7h0M482.7 124.3h0M503 114.3h0M482.2 116h0M484.8 120.7h0M468.8 122.5h0M488.4 118.9h0M474.5 119h0M445.6 121.6h0M515 119.4h0M466.6 132.7h0M494.3 117.6h0M508.2 112.5h0M502.1 116h0M472.4 129.8h0M512 110.6h0M511.9 115.7h0M472.6 119.4h0M464.3 123h0M495.4 127.2h0M521.5 114.3h0M484.2 120.6h0M483.9 123.4h0M502.1 114.5h0M448.5 130.7h0M509.8 120.8h0M474.8 122.3h0M491.2 126.2h0M469.5 117.4h0M503.6 115.1h0M450.4 118.5h0M472.9 127.9h0M492.7 117.9h0M488.1 125.1h0M521.7 121.4h0M504.8 114.8h0M507.6 110.8h0M492.8 120.4h0M470.1 129.1h0M503.5 117.5h0M448.8 119.1h0M450.5 117.1h0M510 118.5h0M492.7 106.4h0M466 127.6h0M481.5 126.3h0M505.1 119.7h0M449.1 126.2h0M447.8 126.7h0M455.4 115.1h0M478.4 127.5h0M476 121.9h0M458.8 135.2h0M486.9 120.6h0M495.9 115.8h0M516.7 113h0M485.7 123h0M495.4 116.3h0M480.2 119.4h0M499 114.7h0M452.6 122.3h0M458.4 120.7h0M514.7 112.4h0M463.2 128.8h0M488.9 126h0M506.3 110.8h0M494.5 120.6h0M451.2 125.1h0M493 116.8h0M503.4 113.1h0M484.2 125.2h0M460.4 121.2h0M520.4 113h0M512.1 115.8h0M454.7 121.2h0M511.8 112.4h0M477.4 120.4h0M486.8 128.1h0M489.1 127h0M467.3 123.2h0M460.7 132.9h0M487.3 125.7h0M485.4 124.1h0M459.9 120.4h0M462.5 132.5h0M446.2 116.1h0M452.9 116.1h0M518.2 112.8h0M483.5 120.3h0M512.6 113.6h0M459.2 126.6h0M508.7 111.6h0M459.5 119.5h0M499.9 115.6h0M445.5 116.8h0M494.5 125h0M484.7 121.2h0M520.2 117.2h0M508.2 114.7h0M461.1 129.6h0M461.5 126.8h0M458 117.2h0M519.2 112.8h0M496.3 124.2h0M502.4 111.1h0M465 136.2h0M471.1 122.9h0M496.4 118.7h0M475.6 119.2h0M494.5 118.6h0M445 116h0M452 129.7h0M461.6 129.3h0M501.7 111.2h0M487.7 124.2h0M484 117h0M496.6 118h0M497.4 117.1h0M471.7 119h0M451.4 127.9h0M458.8 116.4h0M505.8 117.4h0M470.6 122.8h0M499.5 113.4h0M475.1 133.5h0M461.7 122.6h0M495 113h0M445.2 115.5h0M520.1 120.6h0M448.9 124.9h0M484.3 129.6h0M465.5 126.4h0M514.6 118.1h0M462.6 128.6h0M493.6 122h0M486.8 120.6h0M515.2 110.3h0M458.3 120.5h0M448.9 110.4h0M466.4 128.9h0M501 112.1h0M466.1 120.6h0M485.8 125.2h0M457.7 125.2h0M509.9 118.3h0M473.5 136.3h0M459.6 126.2h0M501.9 116.2h0M453.7 121.4h0M450.7 115.7h0M483.3 128.7h0M508.7 122.8h0M488.2 115.1h0M457.4 123.4h0M491.5 122.2h0M502.7 116.9h0M509.3 114.1h0M492.7 116.8h0M499.2 112h0M455 122.3h0M492.9 117.5h0M498.5 111.2h0M500.8 117h0M484 118.7h0M460.2 121.4h0M513.6 119.8h0M465.3 118.9h0M444.9 115.2h0M484.8 119.8h0M495.4 123.2h0M450 116.2h0M512.6 113.5h0M512.1 108h0M508.2 117.5h0M481.2 115.9h0M505.9 120.8h0M500.2 114.8h0M475.8 120.9h0M464.9 124.2h0M509.4 113.8h0M488.9 114.6h0M444.4 120.1h0M480.7 122.5h0M464.4 133h0M505.4 117.3h0M464.7 120.6h0M519.4 119.1h0M496 121h0M452.7 121.5h0M464.1 122.8h0M498.2 113.8h0M485.1 125.8h0M489.4 112.3h0M470.7 121.6h0M487.7 127.8h0M463 125.6h0M479.3 123.7h0M512.8 115.3h0M469 116.3h0M524.8 112.4h0M464.9 133.1h0M468.5 122h0M512.7 120.4h0M458.9 122.2h0M509.2 111h0M490.7 120.6h0M449 111.9h0M465.4 120.1h0M486.3 124.4h0M513.1 114.9h0M453.2 124.8h0M515.8 110.6h0M511.2 121.8h0M524.6 120h0M483.2 123.7h0M464.1 123h0M453.7 119.4h0M450.9 127.5h0M511.9 119.5h0M505.9 113.8h0M506.6 113h0M448.1 120.9h0M501.2 126h0M451.6 125.3h0M495.5 123.1h0M481.4 127.5h0M497.1 111.7h0M449.2 120.6h0M489.9 113.8h0M501.7 115.3h0M460.6 129.5h0M485.3 120.8h0M484.1 118.5h0M489.1 112.4h0M512.4 115h0M504.1 118.3h0M468.7 127.5h0M482.6 130.3h0M473.6 124.5h0M516.3 109.5h0M474.1 115.7h0M505.4 120.3h0M476.9 130.9h0M480.9 131.5h0M502.2 110.1h0M472.9 126.1h0M458.1 127.3h0M454.6 119h0M496.5 118.9h0M446.2 117.9h0M467.1 114.6h0M497.1 123.7h0M486.6 119.4h0M466.4 127.3h0M489.7 119.4h0M522 119h0M458.1 115.4h0M447.2 121.2h0M458.2 124.6h0M504.2 118.3h0M455.1 121.7h0M505.4 117h0M505 110.9h0M447.1 117.2h0M502.1 111h0M465.9 129h0M456.5 116.4h0M447.1 117.8h0M499.1 124.4h0M459.3 118.4h0M444.9 110.6h0M513.8 109.8h0M516.8 115.2h0M484.8 120.3h0M486.8 121h0M470.5 125.9h0M501.3 120h0M480.4 127.3h0M501 120.1h0M474.5 130.9h0M494.2 116.2h0M453 113.2h0M495.2 123.3h0M488.7 131.3h0M489.3 132.3h0M458.8 120.9h0M495.1 109.9h0M482.7 115.6h0M451.3 112.3h0M445.1 115h0M477.4 123.5h0M510.8 108.6h0M453.6 121.4h0M517.9 116.6h0M461.4 126.5h0M498.4 105.6h0M478 119.5h0M443.9 119.2h0M505.7 116.1h0M467.7 123.6h0M452.9 121.4h0M475.8 119.6h0M526.1 119.1h0M458 111.1h0M503.1 112.6h0M486.2 128.8h0M490.7 118.2h0M478.6 119.2h0M451.1 124.9h0M523.7 112.7h0M506.5 115.5h0M474.4 126.6h0M445 123.9h0M457.8 122.8h0M511.6 114.6h0M519.7 111.7h0M518.3 111.8h0M509.7 116.6h0M503 110h0M450.6 114.3h0M458.3 118.4h0M521.3 120.3h0M495.7 105.9h0M477.2 125.3h0M465.9 125.9h0M514 118.7h0M514.3 111.8h0M498.3 116.8h0M468.9 131.2h0M447.6 115.6h0M486.9 125.2h0M524.9 124.8h0M485.4 118.1h0M459.9 115h0M516.4 116.3h0M497.3 120.3h0M448.7 123.3h0M522.8 119.4h0M448.9 123.3h0M461.9 116.4h0M445.2 108h0M489.3 119.2h0M471.9 125.3h0M471 120.2h0M506.4 122.2h0M482.8 123.7h0M461.4 121.7h0M482.8 133.2h0M476.2 121.1h0M452.5 118.4h0M511.6 115.1h0M459.3 126h0M465.3 124.4h0M471 128.7h0M468.8 125.3h0M452.2 131.2h0M505.4 108.7h0M481.9 125.2h0M500.2 118.7h0M454.2 132.2h0M501.5 120.3h0M521 117.4h0M459.3 126.9h0M490.3 120.4h0M469.1 119.1h0M518.8 114.4h0M501 116.5h0M508.7 120.6h0M490.7 117.7h0M505.4 123h0M449.4 126.5h0M517.6 120.5h0M501 114.3h0M461.3 123.5h0M454 116.7h0M464.8 129.2h0M501.4 111.9h0M478.6 119.6h0M503.8 117.6h0M467.8 124.9h0M496.8 117.4h0M470.5 124.3h0M502.3 112.4h0M455.5 118.8h0M474 126.1h0M485.3 127.9h0M499 118.9h0M475.8 126.7h0M445.5 117.5h0M484.9 121.1h0M447.3 118.2h0M512.5 112.8h0M486.5 116.1h0M493.9 113.4h0M453.5 112.1h0M469.7 128.3h0M501.6 105.1h0M485.4 127.1h0M488.5 122.4h0M471.2 124.7h0M496.6 112h0M473.4 115.6h0M465.2 125.3h0M475.3 131.9h0M483.8 133.1h0M476.4 119.4h0M451.6 125h0M489.7 123.4h0M470.9 125.8h0M457.8 122.1h0M496.8 123.1h0M501.4 121.9h0M482.4 126h0M517.8 117.5h0M493.7 115.2h0M507.3 111.2h0M473.4 126.3h0M497.1 120.3h0M517.1 116.8h0M467.3 116.4h0M522.9 122.6h0M461.6 120h0M496.1 118.4h0M449.3 122.8h0M454.6 124.9h0M473 122h0M477.5 128.4h0M512.9 119.2h0M454.9 128.4h0M501.9 112.2h0M491.5 118.2h0M469.1 116.4h0M500.4 113.2h0M470.3 122h0M521.4 118.8h0M477.9 120.9h0M523.2 121.9h0M509.9 109.3h0M521.9 119.7h0M498.2 126.9h0M485.7 115.3h0M444.5 116.5h0M524.7 118.2h0M517 111.9h0M495.9 123.8h0M482.2 126.6h0M481.8 115.5h0M505.6 111.2h0M500.4 117.1h0M470.8 120.1h0M474.3 129.6h0M518.4 113.9h0M478.5 126.7h0M446.8 119.7h0M513.4 114.7h0M526.1 118h0M477.1 116.1h0M510.3 115h0M483.4 118.7h0M472.9 111.8h0M492.9 122.1h0M514.7 115.8h0M490.5 114.6h0M500.3 114.4h0M503.8 112.3h0M494.1 117.8h0M513.8 115.6h0M494.1 121.7h0M523.8 115.8h0M499.8 113.3h0M473 128.6h0M477 129.4h0M504.5 113.7h0M502.7 113.2h0M474.3 125.2h0M509.9 118.4h0M479.5 123.7h0M472.4 125.3h0M458.7 121.4h0M500.4 119.5h0M500.9 115.5h0M509 116.3h0M489.4 109.5h0M445 113.5h0M491.7 127.7h0M490 113.8h0M492.2 110.3h0M454.8 118.1h0M468.4 127.1h0M465.2 124.9h0M517.9 115.3h0M493.3 122.9h0M495.2 123.7h0M499 118.2h0M448 129.4h0M496.7 121.3h0M476.2 128h0M512.4 117.2h0M501.6 111.6h0M494.5 114.7h0M475.8 122.7h0M496.5 121.6h0M471.3 122.4h0M472.4 126.8h0M458.9 121.8h0M502.7 121.6h0M482.2 118.1h0M461.3 117.8h0M467.9 132.5h0M504.4 110.6h0M480 111.9h0M451.2 123.6h0M459.8 121.6h0M448.3 124.5h0M484.7 120.2h0M464.6 116.3h0M490.1 126.9h0M482.8 119.3h0M450.2 120.4h0M452 118.6h0M481.4 111.1h0M511.5 121.1h0M486.2 112.4h0M498.2 119.3h0M464 117.9h0M445.5 115.4h0M479.2 127.3h0M500.7 111.7h0M492.5 122.7h0M457.1 124.3h0M461 125.7h0M486.3 123.4h0M480.4 119.6h0M450.9 119.8h0M455.9 125.2h0M457.2 127.5h0M511.8 124.3h0M450.8 126h0M501.7 118.1h0M499.4 114.8h0M514.2 111.1h0M509.4 117.3h0M463.8 125h0M516.9 117.7h0M472.4 123h0M452.3 116.3h0M467.4 113.2h0M465 130.7h0M513.8 116.5h0M466.7 118.2h0M478.4 112.9h0M517.1 112.9h0M497.2 116.1h0M497 115.8h0M459.1 128.9h0M452.7 124h0M477.4 123.4h0M458.5 117.9h0M491.4 122.4h0M446 114.6h0M496.8 119.7h0M492.7 109.9h0M454.3 121h0M457.5 121h0M468.6 123.9h0M484.1 127.4h0M468.4 123.8h0M519.2 112.1h0M501.2 119.3h0M493.9 118.9h0M493.5 111.1h0M509 120.3h0M479.4 134.4h0M490.8 118.2h0M514 119.3h0M459.8 128.3h0M496.4 107.4h0M495 119.3h0M507.7 111.4h0M497 111.4h0M472.8 130.2h0M479.8 121.2h0M499.3 116.8h0M517.4 112.5h0M459.9 118.2h0M487.1 123h0M508.4 119.7h0M463.2 125.3h0M481.8 121.6h0M477.7 131.1h0M479.9 129.1h0M479.4 131.4h0M501.7 120.2h0M468.8 122.5h0M501.5 121.1h0M509.8 114.5h0M454.8 121.6h0M454.7 123.7h0M525.4 118.7h0M487.5 123.9h0M473.5 127.6h0M503.9 117.9h0M515.4 119.2h0M471.8 126.1h0M496.9 116.7h0M485.8 126.7h0M469.3 128.7h0M498.5 121.2h0M497.7 123.3h0M501.3 116.5h0M505.6 121.9h0M514.3 120h0M522.3 116h0M503.6 110.6h0M505.6 117.1h0M513.8 113.2h0M457.4 122.5h0M447.9 114.9h0M505.1 113h0M496.1 116.6h0M457 123.6h0M454.9 117h0M511.8 119.4h0M521.4 109.2h0M502 123.9h0M470 126.3h0M513.5 113.9h0M490.1 115.9h0M498.7 119.8h0M498.9 117.3h0M518.1 116.5h0M506.4 115.8h0M478.1 124.5h0M448 116.3h0M501 125.3h0M476 123.2h0M472.2 121.1h0M462.7 124h0M448.4 112.9h0M488.3 115.5h0M472.7 128.8h0M511.5 116.8h0M487.4 119.4h0M476.6 127.2h0M448.6 116.1h0M512.2 115.5h0M469.8 120.3h0M488.7 122.6h0M497.3 120.5h0M481.2 128.3h0M470.3 129.5h0M467.3 123.8h0M498.8 124h0M476.5 125.4h0M498.9 113.1h0M478.8 124.8h0M480.7 131h0M505.9 116h0M475.9 124.2h0M448.6 123.1h0M465.4 129.7h0M480.7 126.5h0M492.1 125.2h0M521.7 117.4h0M472.9 128.6h0M514.1 110.6h0M464.3 121.1h0M479.6 124.4h0M449.4 113.9h0M506.6 111.3h0M447.4 123h0M496.3 108.6h0M464.8 129.2h0M471.5 121.7h0M516.7 117.9h0M526.1 116.4h0M511 116.2h0M495.9 113.4h0M515.4 114.7h0M519.7 114.2h0M517.4 119.7h0M507.4 114.1h0M508.1 114.1h0M493.9 118.5h0M469.8 119.2h0M503.1 119.6h0M474.9 118.1h0M514.9 111.4h0M448 121.1h0M508 108.7h0M445.6 119.3h0M463.9 120.1h0M513.9 119.3h0M452.7 124.3h0M478.6 119h0M451.8 122.1h0M469.5 124.1h0M488.5 115.9h0M523.2 113.9h0M467.1 123.8h0M446.7 121.4h0M466 127.9h0M446.1 109h0M509.8 112.3h0M507.2 113.1h0M471.9 121.9h0M496 117.7h0M494 111h0M454.4 126.8h0M496.5 116.5h0M497.6 117.4h0M490.7 118.9h0M522.3 115.6h0M511.4 114.7h0M497.8 112h0M476.8 119h0M498.4 118.6h0M513.6 116.9h0M453.9 120.2h0M463 126.5h0M500.4 123.3h0M454.3 120.3h0M498.8 115.5h0M517.6 112.3h0M483.8 114.3h0M449.1 115.8h0M484.3 115.8h0M515.9 121.3h0M502.4 124.3h0M523.6 119.5h0M482.6 127.1h0M503.9 118.8h0M466.7 124h0M462.7 123.3h0M481 127.9h0M507.6 117.7h0M446 116.2h0M500.5 113h0M496.2 115.5h0M475.5 125.3h0M468.8 114.9h0M493.5 115.6h0M478 125.7h0M479.5 118.9h0M467.5 128.9h0M486.5 120.5h0M470.7 117.2h0M487.7 125h0M488.9 117.9h0M472.7 126.6h0M445.3 111.2h0M497.6 115.8h0M454.2 131.5h0M484.4 124.2h0M510.3 113.2h0M502.7 119.9h0M499.4 116.4h0M500.6 110.9h0M489.2 114.1h0M488.4 125.4h0M516.9 118.6h0M503 115.3h0M490.5 115.5h0M446.9 114.2h0M468.4 124.3h0M500.3 119.3h0M493 119.9h0M502.4 112.2h0M455.7 127.2h0M493.7 116.7h0M521.9 115.5h0M516.5 117h0M491.5 126.8h0M497.3 115.2h0M521.4 114.9h0M478.8 128.1h0M459 123h0M482.4 123.1h0M445.5 125.8h0M476.5 123.8h0M460.5 129.3h0M510.8 112.9h0M473.4 135.5h0M455.1 128.7h0M507.1 110.5h0M461.9 128.9h0M486.7 126.2h0M498.2 112.7h0M455.3 119.1h0M458.9 123.6h0M479.7 118.3h0M455.3 118h0M473 129.3h0M457.2 120.2h0M511.4 116.3h0M461.9 115.8h0M446.8 114.8h0M498 112.1h0M451.3 123.1h0M511.3 121.3h0M515.9 111.6h0M477.8 122.5h0M445.6 121h0M486.9 120.5h0M458 129.9h0M511.5 118.8h0M467.1 129.3h0M498.3 116.1h0M499.6 119.9h0M472 126h0M489.1 125.5h0M491 121.6h0M476.6 124.7h0M486.9 113.5h0M491.4 111.7h0M453.5 127.7h0M507.6 113.4h0M478.2 116.2h0M505.1 116.6h0M485.1 120.8h0M477.8 124.5h0M502.8 122.9h0M459.5 124.6h0M487.9 112h0M462.1 122.8h0M448.3 112.5h0M491.1 115h0M459.6 118.9h0M475.4 123.3h0M512.3 113.6h0M466.8 118.7h0M464.1 127h0M497 123.8h0M453.4 118.7h0M494.1 123.2h0M447.9 120.2h0M461.6 122.3h0M507.9 117.3h0M514.3 114.8h0M491.1 117.2h0M472.3 114.4h0M514.3 116.4h0M460.9 112.6h0M502.9 120h0M479.2 121h0M466 123.8h0M505.5 124.3h0M467.5 131.5h0M520.6 120.8h0M466.5 120.2h0M515.3 116.7h0M495.9 119.6h0M464.6 126.3h0M488.4 122.5h0M472.9 134.4h0M444.7 123.4h0M446 118.8h0M492 120.8h0M522.2 122.9h0M517.7 113.1h0M477.1 128.4h0M457.2 116.9h0M524.3 119h0M444.1 118.1h0M484.9 120h0M508.5 108h0M522 112.2h0M471 124.3h0M495.8 109.8h0M498.6 116.8h0M487.1 123.1h0M466.2 121h0M522.2 119.4h0M486.9 112.1h0M485.1 118.8h0M471.6 125.5h0M466.1 126.6h0M477 130.1h0M479.9 128.7h0M478.4 122.7h0M486.8 118.6h0M500.9 116.5h0M523.4 118.2h0M464.2 129.1h0M478.5 125.3h0M504.2 115.2h0M460.7 125.5h0M465.4 126.2h0M465.5 123h0M489.6 121.3h0M461.3 124.5h0M448.7 119.3h0M466.7 124.3h0M491.5 116.7h0M470.9 120.6h0M480.7 116.7h0M495.2 116.2h0M483 111.9h0M468.2 133.7h0M487.2 119.3h0M458.1 118.3h0M464.2 126.6h0M488.4 116h0M459.3 116.7h0M447.1 115.8h0M489.9 115.1h0M447.2 106.6h0M498 116.1h0M464.3 119.1h0M474.9 117.9h0M466.1 125.2h0M512.9 111.5h0M445.6 123.7h0M450.7 115.4h0M475.3 135h0M485.5 123.1h0M446.6 125.5h0M510.7 112.9h0M494.8 115.2h0M476.8 129.9h0M449.7 117.6h0M481.5 119.2h0M455.6 123.5h0M505.6 124.4h0M474.4 122.6h0M520.1 119.3h0M525.4 114.6h0M514.9 115.7h0M516.2 115h0M496.7 121.4h0M464 132.7h0M526.2 122.3h0M483.9 119.9h0M484.6 116.8h0M463 119.5h0M462.9 129.8h0M512 121.4h0M459.5 119.8h0M508.4 116.2h0M489.5 125.5h0M463.5 121.4h0M488.6 115.5h0M471.1 124.7h0M478.7 115.4h0M507.7 119.3h0M447.6 106h0M480.1 123.1h0M489.3 117.6h0M499.7 113.8h0M506.2 118h0M467.8 128.2h0M491.1 127.3h0M492.2 116.8h0M490 114.4h0M466.4 127.3h0M521.2 111.2h0M483.7 120h0M518.7 111.5h0M474.3 132.6h0M477.8 126.2h0M448.3 122.2h0M500.9 114.1h0M494.9 117.6h0M489.9 127.1h0M484.4 127.4h0M471.2 121.4h0M455.9 126.5h0M505.2 112.8h0M481 125.1h0M475.1 118.2h0M460.5 122h0M452.2 117.2h0M480.3 119.5h0M522 119.1h0M480.2 123.7h0M481.5 125.6h0M452.4 124.4h0M471.5 130.9h0M503.7 114.7h0M460.9 125h0M505.5 124.6h0M473.1 123.2h0M495.6 112h0M482.2 128.3h0M487.7 116.5h0M457.3 123.6h0M497.8 109.4h0M477.8 123.9h0M460.6 116.6h0M474.3 121.4h0M471 127.7h0M466.1 115h0M480.1 122.7h0M524.8 114.7h0M514.3 120.5h0M452.7 127.1h0M458.1 125h0M511.2 116h0M480.1 124h0M497.9 113.2h0M480.6 123.7h0M465.3 128.6h0M511.6 108.9h0M495.8 113.8h0M520 118.1h0M508 112.6h0M446.4 115.7h0M519.3 112.4h0M508.7 110.9h0M444.3 126.2h0M451 118.7h0M493.4 118.9h0M461.5 124.6h0M445.3 110.7h0M518.4 115.3h0M513.1 119.3h0M474.7 126.2h0M473.6 125h0M454.8 124.1h0M448.1 116.2h0M450.1 113.5h0M466.6 121.2h0M470.4 130.4h0M444.3 121.3h0M460.7 125.6h0M465 129.3h0M503.8 120.5h0M486.9 119.9h0M466.8 126.3h0M500.9 116h0M490.3 118.4h0M468.5 119.3h0M443.9 118.2h0M475.7 123.2h0M447.3 121.9h0M478.5 135.6h0M490.6 111.1h0M504.6 115.6h0M495.9 112.2h0M447.5 121.8h0M452.2 120.8h0M519.7 118.5h0M500 107.8h0M449 115.3h0M461.4 114.9h0M462.3 130.9h0M516 112.5h0M499.8 118.3h0M498.9 117.1h0M515.8 114.3h0M445.7 125.7h0M467.3 120.1h0M489 118.1h0M455.6 117.7h0M498.6 110.1h0M473.3 127.9h0M485.7 124.4h0M482.6 124.5h0M524.4 117h0M460.1 121.4h0M483.8 126.5h0M514.2 114.5h0M450.2 118h0M454.8 116.4h0M458.5 122.6h0M502 121.5h0M514.3 114.7h0M500.3 119.4h0M480.9 120.1h0M464.1 128.3h0M482.3 116.7h0M502.2 116.5h0M455.2 127.1h0M505.4 114.7h0M477.9 121.3h0M443.9 118.3h0M465.9 126.9h0" stroke="#3838fc" stroke-width="3.95" stroke-linecap="round" fill="none"/>
<circle cx="564.2" cy="119.8" r="1.55" fill="none" stroke="#3838fc" stroke-width="0.85"/>
<path d="M390 132.3h0M405.8 120.1h0M414.7 125.9h0M393.6 130.1h0M437.9 130.4h0M405.1 129.5h0M413.6 135h0M439.4 127.3h0M442.2 124h0M430.4 130h0M401.5 126.7h0M438.2 125.8h0M387.7 130.5h0M411.3 127.7h0M394.1 117.8h0M398.9 131h0M427.1 129.8h0M419.1 121.2h0M403.1 129.8h0M422.2 132.8h0M399.8 127.1h0M442.9 126.4h0M442 122.2h0M438 131h0M401.5 120h0M420.1 131h0M390.6 133.3h0M430.7 117.5h0M398.2 120.5h0M387.2 120.6h0M431.1 132.3h0M405.2 128.4h0M401.9 133.7h0M398.2 128.8h0M406 128.2h0M424.9 127h0M425.1 128.8h0M399 123.2h0M433.7 134.7h0M396.8 118.2h0M435.8 120h0M426.1 131.8h0M438.5 127.7h0M414.3 120.1h0M418.3 125.9h0M437.8 126.2h0M443.5 131.2h0M437.8 121h0M413.2 125.4h0M430.3 133.8h0M430.8 128.7h0M431.3 134.8h0M386.7 121.8h0M440.2 127.1h0M442.5 130.9h0M416.2 131.6h0M415.1 131.5h0M427.8 129.4h0M439.4 129h0M409.2 124.1h0M403.1 131.6h0M422.4 130.3h0M434.6 131.8h0M403 134h0M414.5 124.1h0M435.9 130.7h0M469.6 133.1h0M467.5 130.9h0M450.5 130.3h0M432.5 127.8h0M440.8 133h0M478.2 131.1h0M443.2 128.3h0M445.3 128.1h0M434.8 124h0M476.4 132.9h0M435 125.9h0M462.3 132.5h0M470.7 135.8h0M442.6 131.6h0M445.2 126.2h0M466.8 136.5h0M446.7 128.2h0M472.2 132.8h0M462.7 129.2h0M454.8 132.6h0M476.3 132.6h0M445.3 127.1h0M449.9 131.8h0M450.1 134.1h0M465.5 133.6h0M467.9 134.6h0M447.3 132h0M463.3 130.5h0M463.1 129.9h0M464.4 132h0M475.6 136.5h0M479 133.4h0M435.5 125.2h0M455.1 132.5h0M455.5 132.2h0M437.2 133.6h0M471.1 132.3h0M441.7 130.4h0M459.3 129.8h0M461.9 136h0M450 134.2h0M457 135.8h0M443.1 130.5h0M466.9 130.6h0M440.7 126h0M478.7 134.8h0M432 128.2h0M453 128.3h0M458.8 130.9h0M476.2 133.5h0M455.4 132.7h0M438.2 126.2h0M476.7 131h0M477.8 135.9h0M432.5 127.5h0M461.5 134.1h0M432.9 128.8h0M463 132.9h0M481.9 135.7h0M463.7 131.5h0M439.7 131.6h0M449 128.6h0M440 130.8h0M439.2 130.3h0M468.7 130.7h0M444 127.4h0M481.5 134.4h0M457.5 130.8h0M443.9 132.6h0M454.8 128.5h0M449.2 133.9h0M462.5 134h0M459.6 131.6h0M444.8 127.4h0M481.7 135.9h0M453.4 127h0M440.6 126.2h0M463.1 134h0M462.2 134.1h0M462.1 130.8h0M480.2 132.7h0M462.3 131.2h0M449.1 128.5h0M472.9 137h0M433.4 127.6h0M442.7 124.9h0M458 129.4h0M432.6 125.8h0M456.4 132.3h0M432.4 124h0M444.3 132.6h0M461.2 133.2h0M432.6 122.6h0M438.8 130.5h0M453.9 127h0M460.6 132.7h0M451.6 131.9h0M450.6 131.2h0M463.4 130.3h0M464.8 129h0M478.4 134.8h0M459.6 134.5h0M458.4 132.8h0M481 135.8h0M459.9 136.3h0M490.9 128.1h0M507.3 132.6h0M484.9 136.3h0M499.7 128.3h0M507.9 124.9h0M488.6 134.9h0M494 135.1h0M503.7 123.2h0M479.7 129.4h0M492.1 135.5h0M485.9 128h0M504.5 129.6h0M512.1 134h0M508.9 128.3h0M507.4 125.2h0M493.3 134h0M516.1 131.4h0M492 133.8h0M482.8 136h0M482.3 127.4h0M498.3 132.4h0M515.8 132.5h0M505.8 127.2h0M515 125.2h0M498.7 122.8h0M498.6 129.5h0M503.3 125.1h0M491.4 134.6h0M502.1 123.1h0M506.2 128.5h0M511.3 129.1h0M500.4 129.2h0M492.8 135.9h0M512.3 126.2h0M479.8 129.4h0M489.8 132.4h0M515.2 127.7h0M510.5 130h0M501.2 134.4h0M512.3 123.7h0M495.4 124.6h0M508.2 124.5h0M504.4 126.4h0M486.1 130.9h0M502.5 129.4h0M501 135.2h0M506.6 127.9h0M483.4 131.2h0M497.6 125.3h0M503.2 123.1h0M483.5 136.4h0M493.4 129.2h0M489.4 125.7h0M501 130.2h0M510.2 132.5h0M502.8 123.7h0M486.8 127.6h0M492.4 125.4h0M502.6 130.4h0M488.4 131h0M498.8 125.6h0M487.8 134.2h0M509.4 134.2h0M509.4 123.9h0M504.8 131.1h0M502.1 131h0M510.9 127.9h0M509.9 124h0M499.2 126.5h0M511.3 124.5h0M488.5 135.4h0M499.4 125.9h0M508.7 129.1h0M495.5 129h0M515.1 129.7h0M489.1 131.6h0M492.5 131.8h0M515.5 125.2h0M509.8 127.7h0M499.8 123.1h0M513.1 127.6h0M481.7 129.7h0M509.4 135.1h0M498.2 134.1h0M506.9 128.9h0M491.3 133.7h0M496.8 134.7h0M494.9 132.2h0M505.7 124.8h0M487.5 125.7h0M508.4 125.4h0M490.2 124.5h0M481.7 136.7h0M486.2 125h0M498.4 128.2h0M490.7 136h0M509.4 135.2h0M506.7 123.7h0M512.3 123.3h0M515.2 127.3h0M485.7 125.7h0M507.4 125.6h0M506 130.8h0M492.6 127h0M513.4 130.8h0M495.2 125.7h0M479.8 135.3h0M512.1 124.6h0M493.1 123.3h0M489.4 125.5h0M485.5 126.1h0M505.9 126.1h0M489.8 132.7h0M489.5 129.8h0M500.5 130.9h0M487 135.6h0M516.4 126.6h0M510.5 127.1h0M486.6 135.4h0M485.6 126.1h0M489.9 128h0M492.6 129.8h0M508.6 133.1h0M493.3 126.7h0M489.2 127.5h0M497.8 123.9h0M502.9 134h0M490.1 131.7h0M481.3 126.6h0M486.9 134.9h0M514.9 124.7h0M491.2 124h0M514.7 125.9h0M502.8 129.6h0M497.1 127.7h0M505.6 131.3h0M511.5 126.8h0M495 123.8h0M489.8 127.4h0M516.8 130.7h0M495 123.7h0M493.3 128.4h0M516 127.2h0M503.8 126.6h0M507.6 134.8h0M506.5 123.9h0M483.8 127.7h0M502.6 126.6h0M501 126.4h0M496.3 133.1h0M494.4 122.8h0M496.7 127h0M480.8 132.2h0M496.6 133.9h0M497 126.1h0M516.8 126.6h0M486.3 125.9h0M509.5 129.4h0M498.3 123.6h0M490.1 135.2h0M512.5 132.4h0M484.2 130.4h0M515.3 131.5h0M507.9 124.2h0M489.4 130.3h0M486.3 125.7h0M514.1 128.6h0M515.7 127.3h0M499.5 123.3h0M498.8 132.4h0M511.9 124.7h0M484.9 135.7h0M491.7 124.4h0M499.9 133.6h0M477.9 128.8h0M490.9 136.1h0M506.6 129.8h0M480.4 127.2h0M512.3 125.7h0M514.3 129h0M505.1 123.8h0M498.3 131.9h0M483.8 134.2h0M484.2 130.1h0M506.1 133.1h0M491.3 132.7h0M515.2 134.2h0M515.1 124.7h0M489.9 125.6h0M512.5 130.3h0M501.3 122.9h0M490.1 130.3h0M508.7 130.4h0M488.5 131.3h0M493.8 133.3h0M508.7 133.7h0M483.7 131.1h0M513.6 132.8h0M497.3 132.5h0M485.1 128.4h0M499.1 130.6h0M506.2 129h0M487.1 128.5h0M492.1 133.1h0M481.9 134.4h0M515.2 125.2h0M496.7 123.6h0M506.1 127.5h0M514.7 126.3h0M515.9 125.7h0M486 131.8h0M506.1 132.4h0M488.3 132.2h0M485 125.1h0M493.6 133.7h0M489.8 126.7h0M496.8 128h0M499 134.6h0M512.6 127.9h0M498.5 122.6h0M514.8 127.1h0M486.3 130.2h0M509.6 128.5h0M506.9 127.4h0M508.3 132h0M488.4 129.1h0M510 130.5h0M511.1 129h0M498.3 124.5h0M502.8 126.5h0M500.8 126.3h0M494.1 134.5h0M508.5 135.3h0M481.4 134.5h0M486.5 132.2h0M496.8 126.5h0M516.4 126.1h0M499.8 130.1h0M501.2 124.7h0M491.4 135.2h0M492.3 126.3h0M506.1 125.1h0M511.7 135.1h0M501 134h0M491.9 129.6h0M497.5 134.2h0M503.7 133.5h0M495.5 134h0M516.6 129.7h0M499 134.9h0M491.2 128.9h0M494.8 131.8h0M492.2 123.6h0M515.5 123.6h0M483 133.1h0M488.1 130.4h0M494.5 129.2h0M489.4 135.6h0M479.8 135.8h0M485.7 133h0M484.3 130.1h0M514.2 128.2h0M485.4 132.3h0M502.2 131.4h0M509.7 124h0M499.1 127.8h0M486.6 124.9h0M498.8 123.5h0M483.5 132.2h0M488.2 126.7h0M491.2 134.2h0M493.2 133.7h0M516.6 123.5h0M501.8 128.3h0M512.9 128.3h0M489.1 132.6h0M509.9 125.8h0M497.6 125.5h0M507.8 128.3h0M488.4 133.9h0M488 128.2h0M503.7 134h0M502.2 135.6h0M507.9 134.4h0M495.4 131.3h0M490 135.6h0M509.7 129.9h0M500.2 125.5h0M497.2 124.6h0M493 131.6h0M511 133.2h0M482.9 127.5h0M482.3 136.7h0M502.9 125.9h0M498.1 134.2h0M491.8 126.5h0M494.7 125.7h0M494.3 129.7h0M501.9 127.8h0M505.9 132.2h0M479.5 129.4h0M503.3 135.6h0M506.8 129.8h0M497.6 131.5h0M484.9 126.5h0M511.4 128.3h0M512 127.1h0M515.7 122.8h0M498.1 123.7h0M494.7 133.8h0M488.6 124.6h0M513.5 132.1h0M510.9 123.4h0M503.4 122.5h0M512 127.5h0M514.3 127.6h0M481.6 129.5h0M499.4 126.9h0M513.4 132.4h0M500.7 125.2h0M507.1 131.2h0M493.1 127.9h0M515.8 130.5h0M493.1 129h0M516.4 130.7h0M490.9 124.5h0M493.5 128.4h0M501.6 131.3h0M506.9 123.8h0M488 127h0M508.5 128.4h0M504.1 128.7h0M505.9 133.4h0M510.8 131.8h0M482.1 132.2h0M489.6 133.9h0M505.8 125.7h0M491 133.1h0M510 122.7h0M489.4 131.6h0M509.7 126.8h0M490.3 134.7h0M504.3 126.3h0M496.6 127.3h0M484.5 130.4h0M506.8 135.5h0M479.4 135h0M491.7 133.4h0M497.6 126.2h0M496.5 132.7h0M488.5 124.5h0M504 131.5h0M505 122.5h0M489.1 125.1h0M504.9 131.6h0M508.9 130.7h0M500.2 132h0M503.9 135.2h0M490.2 135.7h0M494.2 126.8h0M485.8 133.5h0M501.1 132.7h0M503.7 124.8h0M498.6 134h0M485.7 131.9h0M490.6 131.4h0M502.7 123.6h0M489.1 135.6h0M513.8 132.6h0M507.8 129.9h0M500.1 127.4h0M494.9 133.7h0M495.7 130.6h0M498.6 127.6h0M501.7 126.1h0M500.5 128.9h0M498 129.1h0M510.5 124.1h0M495.9 134h0M492.6 133.6h0M488.5 131.4h0M512 135.1h0M514.5 125.2h0M513.8 125.1h0M499.1 133.3h0M497.2 130.2h0M496.8 133.3h0M486.8 135.7h0M508.6 124.6h0M487 133.6h0M512.8 124.1h0M510.7 127.2h0M510.1 123.8h0M480.2 132h0M508.8 133h0M490.2 133.1h0M497.8 128.1h0M502.7 129.5h0M499.1 127.6h0M508.3 129.4h0M493.1 126.4h0M497.6 131.2h0M481.8 128.7h0M494.1 126.7h0M510.4 131h0M498.4 128.1h0M488.1 123.7h0M492.8 125.4h0M509.7 133.3h0M512 131.2h0M514.5 128.4h0M497.2 126h0M514.3 130.1h0M509.8 133h0M484.9 125.3h0M487.7 129.6h0M504.8 130.9h0M511.2 124.5h0M497.1 124.8h0M506.4 127.6h0M489.2 130.8h0M485.9 129.1h0M510.5 123.6h0M497 127.7h0M482.9 127.6h0M478.1 132.5h0M490 135.1h0M494.7 135.7h0M516 127h0M507.3 133.7h0M504.2 123.5h0M494.7 130.9h0M500.1 134.3h0M493.3 124.1h0M488 131.4h0M496.7 128.9h0M487.2 136h0M515.7 125.7h0M484.7 127.8h0M504 131.2h0M491.6 134.7h0M503.5 132.6h0M489 132.7h0M506.3 125.7h0M509.7 130.3h0M504.4 133.6h0M498.1 126.8h0M493.9 124h0M494.1 133.7h0M497.5 130h0M514.2 123.5h0M496.4 128.9h0M494.9 135.8h0M486.4 133.2h0M491.8 132.2h0M497 133.5h0M478.3 136.6h0M483.9 131.7h0M491.5 123.4h0M506.1 128.6h0M500 134.7h0M488.7 124.6h0M499.2 131.7h0M493.7 129.4h0M502.5 127.1h0M499.2 133h0M492.4 127.4h0M499 133.1h0M508 122.8h0M503.3 123.5h0M479.6 131.6h0M489.3 133.4h0M479.2 127.5h0M484.2 134.8h0M496.7 135.1h0M486.7 126.7h0M507.6 123.1h0M489.2 124.7h0M480.6 128.1h0M512.6 132.2h0M516.4 132.4h0M500.2 129.6h0M505.4 124.6h0M492 134.1h0M483.5 129.2h0M493.5 124.2h0M514 129.6h0M486.3 131h0M488 129.5h0M512.3 123.5h0M498.5 135.5h0M511.4 124.3h0M514.1 129.6h0M487.4 136.3h0M505.4 129.5h0M492.1 129.4h0M487.4 129.9h0M512.6 132.9h0M506 134.1h0M498.3 127.4h0M493.7 133h0M509.2 129.2h0M494.5 128.3h0M493.5 124.4h0M510 134.1h0M495.4 125.8h0M481.3 136.1h0M489.2 135.6h0M505.8 133.3h0M490.2 133.9h0M500.1 128h0M496.5 132.5h0M483.3 134.1h0M494.6 126.6h0M506.6 125.6h0M504.6 125.2h0M501 133.8h0M503.4 133.2h0M500.3 128.7h0M515.6 125.2h0M485.9 130.7h0M509 126.1h0M507.6 126.6h0M501.2 130.8h0M491.5 128.8h0M482.5 126.5h0M497.2 127.5h0M503.7 126.9h0M505.6 127.6h0M504.3 134.1h0M514.6 124.2h0M493.1 126.8h0M505.9 127.5h0M511.8 133.5h0M494.9 125h0M494.6 134.9h0M480.5 132.7h0M499 135.6h0M497.9 125.5h0M497.4 123.4h0M513 125.8h0M503 126.9h0M510.6 133.9h0M499.7 134.3h0M515.5 133.5h0M498.1 130h0M497.4 129.8h0M498.8 128.9h0M489.3 129.6h0M491 134.4h0M513.4 130.2h0M482.2 130.4h0M493.1 129.5h0M512.3 130.3h0M482.4 129.9h0M510.4 135h0M509.8 132.4h0M499.5 135.1h0M497.6 128.8h0M509.6 125.1h0M487.9 133.3h0M514 126h0M487.9 128.6h0M509.6 124h0M496.1 130.9h0M485.5 129.4h0M506.1 127.8h0M479.4 128.5h0M498.1 126.6h0M512.6 123.8h0M492 128h0M505.3 134.4h0M509.3 127.2h0M501.2 131.3h0M509.5 129h0M498.5 129h0M489.9 127.7h0M507.6 128.3h0M503.9 126.4h0M493.4 129.5h0M505.7 125.1h0M492.4 126.2h0M502.2 132.4h0M501 132.9h0M485.3 128.7h0M511.9 128.4h0M494.7 125.5h0M490.1 126.2h0M489.9 130.6h0M486.7 124.5h0M491.7 133.1h0M487.7 132h0M496.7 124.6h0M515.5 126.4h0M498 129.9h0M492.7 128.4h0M483 134.5h0M495.7 125.1h0M514 123.4h0M501.5 131.8h0M499.4 134.6h0M488.1 126.5h0M491.5 130.7h0M480.6 132.2h0M512.2 134.3h0M508.8 130.1h0M488.6 132.7h0M511 122.7h0M507 130.3h0M485.5 133.7h0M503.9 131.8h0M511.5 126h0M489.4 125.3h0M494.2 130.9h0M479.5 129.8h0M488.1 135.5h0M506.1 134.8h0M501 132.6h0M488.9 132.4h0M480.4 132.7h0M513.7 126.4h0M511.6 128.8h0M489.9 134.7h0M493.5 132.5h0M514.6 124.2h0M490.6 133h0M513.1 131.1h0M508.4 133.4h0M515.5 131.9h0M515.7 131.9h0M507.7 128.3h0M506.5 128.9h0M513.4 130h0M491.2 133.4h0M499.7 128.6h0M495.2 132.7h0M497.7 122.5h0M516.1 133.3h0M501.8 131.2h0M477.9 128.8h0M487.1 134.8h0M503.1 122.9h0M490.4 126.5h0M485.3 132.3h0M515.3 122.9h0M481.6 131.5h0M515.1 134.2h0M515.6 130.6h0M500.8 128.7h0M487.6 124.2h0M512.6 123.3h0M510.4 130.5h0M508.6 133.2h0M499.1 125.1h0M484.4 129.6h0M511 126h0M503.7 124.8h0M511.5 129.3h0M491.8 131.7h0M503.6 127.3h0M482.7 135.5h0M499.5 123.8h0M501.1 135.6h0M478.2 131.3h0M487.1 128.5h0M495.3 129.2h0M516.2 135.3h0M506.6 130.7h0M509.1 123.4h0M514 128.2h0M478.3 134.1h0M509.7 128.3h0M496.8 131.9h0M507.7 124.3h0M479.7 132.6h0M493.1 128.2h0M512.1 129.1h0M508.6 129.9h0M492.4 135.5h0M505.7 123.4h0M497.8 135.3h0M505.4 133.1h0M506.8 125.8h0M484.1 134.4h0M480.2 129.6h0M506 134.1h0M489.9 125.9h0M493.1 127.1h0M487.8 125.4h0M483.4 131.1h0M502.3 125.6h0M495.5 131.8h0M504.1 132.2h0M507.2 130.6h0M502.1 129.5h0M483.5 131.4h0M506.2 130h0M510.4 132.4h0M495 125.4h0M514.9 127.1h0M502.5 131.8h0M496.6 131.2h0M499.3 126.7h0M501.6 128.7h0M503.8 126.5h0M484.2 133.4h0M485.8 135.5h0M486.9 125h0M515.4 129h0M503.4 133.4h0M503.4 126.8h0M488.5 132.3h0M493.9 129.3h0M496.6 130.8h0M490.6 123.5h0M487.1 126.6h0M502.4 123.1h0M513.2 130.4h0M495.7 128.7h0M514.3 130.4h0M492.2 133.3h0M514.6 126.4h0M512.1 131.3h0M485.3 124.9h0M506.6 133.8h0M501.1 131h0M508 127h0M488.4 127.7h0M504.7 127.2h0M492.2 125.3h0M514.1 126.5h0M492.6 130.4h0M493.9 130.4h0M500.4 129.3h0M485.2 135.6h0M510.7 126.2h0M483.7 132.9h0M506.1 129.5h0M506.6 128.5h0M492.9 127.4h0M501.1 126.5h0M508.8 125.4h0M498.1 127.8h0M487 131.8h0M495.2 129.2h0M493 123.9h0M508.6 127.3h0M514.6 129.7h0M500 131.5h0M479.7 129.9h0M484.2 127.4h0M511.9 128.6h0M505.1 135.5h0M506.4 135h0M508.4 126.3h0M486.8 132.2h0M491.2 131.8h0M494.4 135h0M486 130.6h0M505.9 126.5h0M483.8 133h0M504.8 127.8h0M499.2 126.6h0M487.9 124.9h0M494.9 133h0M509.7 128h0M505.3 123.3h0M505.4 134.6h0M510.8 129.6h0M479.2 134.2h0M507.9 123.3h0M491.8 123.1h0M493.7 131.7h0M507.8 126.6h0M503.1 135.4h0M491.7 130.4h0M514.4 123.6h0M487.5 126.7h0M503.3 125.4h0M510.5 127h0M499.5 126.2h0M503.4 125h0M490.9 132.6h0M512.2 135.4h0M491.4 126.5h0M508.1 135h0M515.4 127.4h0M505.9 133.6h0M505.6 132.6h0M480.4 132.7h0M486.1 131.7h0M489.5 136h0M486.6 133.1h0M492.7 135.4h0M509 122.9h0M515.7 128.6h0M495 127.7h0M512.3 124.9h0M507.2 130.4h0M489.2 134.6h0M515.7 131.4h0M508.5 131.3h0M502.5 135.1h0M493.5 124.6h0M496.3 127.1h0M503.9 133.2h0M495.8 129.9h0M498 134.4h0M505.5 131.5h0M498.9 127.9h0M504.4 132.7h0M515.6 134.5h0M508.6 129.1h0M504.4 123.8h0M489.6 126.2h0M497.6 128.6h0M506.3 131h0M497.3 130.9h0M506.2 130.3h0M515.8 131.3h0M509.9 136h0M509.7 138.1h0M500 135.3h0M489 137.5h0M511.3 137.8h0M511.9 136.7h0M483.9 135.1h0M489.1 136.5h0M513 136.3h0M498.8 136.4h0M503.9 137.5h0M484.4 138.2h0" stroke="#ff1414" stroke-width="1.76" stroke-linecap="round" fill="none"/>
</g>
<path d="M397.8 25.2h0M375.2 39.7h0M364.1 50.2h0M384.7 48.3h0M399.8 47.9h0M377.8 53.4h0M373.2 55.4h0M371.8 57.8h0M367.5 60.8h0M399.6 58.4h0M407 58.4h0M371.2 67.7h0M375.8 75.6h0M379.8 75.6h0M362.3 80.6h0M378.8 89.9h0M402.6 61h0M389.3 63.3h0M383.9 65.4h0M396.7 66.2h0M390.5 67.4h0M391.5 68.1h0M402.4 67.1h0M403.2 68.9h0M412.1 65.7h0M417.3 65h0M410.1 68.6h0M427 68.6h0M381 68.9h0M381.8 72.5h0M393.7 71.5h0M397.9 71.3h0M400.8 71.9h0M387.4 74.3h0M394.9 74h0M397.6 73.7h0M405 74h0M413.7 74h0M420.8 72.9h0M428 76.1h0M412.7 77.3h0M416.9 77.9h0M388.7 78.5h0M391.9 77.9h0M421.9 79.3h0M424.6 81.1h0M428.8 81.1h0M386.5 80.8h0M385.7 82.4h0M401.4 81.7h0M405.6 81.4h0M408 80.5h0M408.6 82h0M406.8 83.2h0M404.4 83.8h0M412.1 79.6h0M413.1 81.4h0M417.9 84.8h0M420.5 86h0M395.8 87.6h0M398.1 90.7h0M408.2 88.6h0M413.9 89.8h0M413.3 91.5h0M410.7 93.1h0M412.1 93.9h0M386.2 93.7h0M404.4 94.2h0M398.5 97.5h0M402.6 98.1h0M392.5 100.5h0M408.6 97.5h0M411 99.3h0M432.4 88.6h0M430 90.4h0M427 91.2h0M436.5 91.5h0M386.3 93.5h0M392.8 100.4h0M395 108.3h0M400.8 98.3h0M400.8 102.8h0M398 90.7h0M404.3 93.5h0M408.5 96.9h0M409.9 93.1h0M413.3 103.2h0M418.9 107.4h0M422.8 110.6h0M423.5 84.5h0M426.2 86.5h0M431.5 84.2h0M434.5 87.5h0M424.5 88.9h0M541.8 7.1h0M535.8 16.1h0M537.7 20h0M536.2 48.5h0M530.8 54.7h0M534.5 59.8h0M533.6 67.2h0M528.3 72.6h0M531.9 76h0M527.6 83.3h0M530 82.8h0M540.7 85.3h0M526.8 95h0M526.8 100.3h0M526.3 102.3h0M525.4 104.9h0M524.9 106.6h0M508.1 105.2h0M514.4 105.7h0M496.5 101h0M499 102.5h0M494.8 103.5h0M437.4 104.7h0M445.2 118.2h0M424 101.6h0M444.3 124.7h0M448.7 117.6h0M424.8 93.9h0M417.7 95.8h0M448.7 118.5h0M428.3 107.4h0M436.2 101.1h0M430 113.1h0M428.9 108.1h0M447.3 119.6h0M430.2 110.5h0M425.9 108.5h0M433.1 114.7h0M421.3 105.3h0M438.5 110.3h0M438.7 110.6h0M439.3 121h0M442.6 109.8h0M427.8 105.8h0M430.4 103.4h0M439.9 112.5h0M449.7 117h0M428.6 109.8h0M433.1 109.3h0M442.1 121.4h0M433.3 99.1h0M432.6 103.6h0M428.2 95.5h0M437.7 104.2h0M442.9 106.7h0M432.5 98.1h0M444.9 118.8h0M430.2 115.1h0M430.8 116.4h0M428.4 104.9h0M436.9 97.6h0M422 104.4h0M436.4 104.6h0M428.5 100.4h0M423.6 92.2h0M424.8 111h0M423 104.6h0M442.6 111.1h0M416.4 94.5h0M439.7 114.2h0M422.4 94.8h0M424.8 92.6h0M427.2 101.9h0M438.6 115.3h0M431.8 116.1h0M448.7 122.9h0M420.7 99.3h0M436.5 108.4h0M432.5 96.4h0M437.1 112.1h0M435.5 103h0M436.4 120h0M431.2 116.7h0M414.4 102.1h0M444.8 123.3h0M425.3 109.7h0M448.2 127.5h0M441.4 113.6h0M438.2 110.7h0M421.8 106.7h0M437.5 113.9h0M436.9 113.7h0M430.9 96.4h0M422.9 105.3h0M421.3 99.7h0M442.1 116.3h0M428.5 93.1h0M417.3 93h0M425.8 103.3h0M439.8 101.7h0M429.1 94.1h0M431 96.3h0M431.7 103.6h0M448.8 126.8h0M440.2 103.9h0M438.5 118.8h0M429.3 102.2h0M448.7 117h0M429.5 113.4h0M445.2 119.8h0M433.6 103.7h0M431.4 106.3h0M433.3 100.4h0M416.6 95.8h0M432.6 103.6h0M424.9 92.2h0M417.8 99.7h0M445.9 112h0M450 128.9h0M420.5 101.4h0M437.9 117.3h0M448.9 125.7h0M443.2 107.9h0M426.9 101.4h0M427.2 100.4h0M423.5 108.9h0M443.4 121.7h0M424.4 93.6h0M437.4 118.5h0M440.2 115.3h0M441.4 103.5h0M418.1 98.4h0M437.2 117.1h0M430.3 97.3h0M423.2 97h0M426.8 97h0M444.2 111.9h0M434.3 116.1h0M443 104h0M441.2 103.6h0M423.8 93.1h0M427 97.1h0M437.1 107.7h0M423 104.2h0M448.5 122.6h0M420.7 109.7h0M433.1 101.7h0M447 123h0M439.7 103.7h0M443.9 125.1h0M443.5 117.3h0M449.3 126.9h0M439.4 117h0M419.1 106.8h0M441.7 102.8h0M443.2 117.7h0M429.8 95.8h0M440.3 119.7h0M425.3 98.8h0M447.5 122.2h0M433.3 101.9h0M446 108.8h0M438.2 111.8h0M447.1 124.9h0M422.5 105.8h0M440.3 108.3h0M448.1 125.8h0M435.8 113.6h0M436.1 111.5h0M431.5 110.1h0M445.8 121.1h0M443.4 105.4h0M430.9 95.6h0M443.2 116.2h0M449.2 127h0M423.3 99.7h0M435.7 115.2h0M434.9 112.9h0M441.8 109.3h0M434.3 114.4h0M440.7 115.4h0M419.1 98h0M447.6 121.8h0M448.5 111.6h0M430.9 94.4h0M420.6 103.8h0M442.2 106.1h0M432 96.8h0M447.6 112.7h0M444 121h0M430.8 113.2h0M417.6 95.4h0M418.2 103.3h0M427.8 112h0M442.3 109.7h0M426.6 112.2h0M429.2 108h0M449.4 122.2h0M424.4 93.9h0M430.3 95.2h0M417.5 106.9h0M432.7 103.8h0M431.7 107h0M449.4 112.9h0M429.8 112.1h0M422 107.4h0M444 107.6h0M438.2 107.5h0M433 109.6h0M430.7 104.2h0M448.6 111.6h0M436 118h0M426.4 93.8h0M431.9 94.8h0M417.8 105.6h0M415.2 96.7h0M435.9 110.1h0M435.3 114.3h0M427.3 106.7h0M437.5 114.7h0M446.4 118h0M419.6 104.2h0M432.1 112.5h0M424.2 103.9h0M419.1 96.1h0M421.8 92.2h0M439.9 118.2h0M443.7 111.5h0M445.8 107.8h0M437.9 116.8h0M413 94.2h0M423.5 102.6h0M445.1 111h0M435 113.8h0M429.5 113.7h0M429.3 101h0M442.6 105.2h0M441.8 122.5h0M417.1 93.4h0M440.1 119.3h0M441.8 118.6h0M431.9 102.7h0M445.6 119.2h0M429.9 93.6h0M443.3 104.1h0M419.8 101.1h0M442.5 111h0M428.5 106h0M434.4 94.8h0M444.3 122.5h0M426.4 100.2h0M426.2 108.7h0M418.3 94.5h0M436.1 108.9h0M431.6 94h0M445.3 122.5h0M417.9 97.9h0M421.1 108.7h0M441.1 109.9h0M423.6 100h0M448.3 127.2h0M447.7 121.9h0M437.8 114.3h0M449.2 120.8h0M440.8 118.9h0M436 98.3h0M457.5 123h0M472.6 118.4h0M478 112.3h0M460.3 116.2h0M496.9 117.6h0M523.6 120.7h0M469 127.5h0M497.5 120.9h0M504.7 120.5h0M480.2 127.3h0M452.5 119.1h0M454.3 118h0M501.9 109.6h0M491.2 120.4h0M458.8 113.1h0M525.3 116.6h0M469.8 119.7h0M463.8 118.2h0M526.3 121.4h0M494.6 115.7h0M460 125.3h0M468.2 124.7h0M501 122.3h0M443.7 113h0M446.9 124.3h0M492.7 119.5h0M510.1 119h0M492.1 117.6h0M465 128.1h0M469.7 125.1h0M483.1 120.2h0M505.7 121h0M503.4 111.6h0M479.2 122.8h0M516.4 115.2h0M454.9 114.7h0M508 113.3h0M465.5 121.3h0M485.4 118.9h0M449.8 123.7h0M514.7 119.2h0M453 121.8h0M506.3 116.2h0M444.7 114.2h0M509.2 112.7h0M509.9 115.2h0M469.4 130h0M503.1 115.6h0M489.7 121.5h0M520.5 109.3h0M501.1 114.4h0M523.7 120h0M478.2 129.4h0M497.7 116.5h0M502.4 110h0M498.1 120.7h0M468.8 124.4h0M476.5 117.8h0M449.8 118.8h0M448.1 121.2h0M499.9 118.4h0M507.5 121.7h0M462.1 120.8h0M456.1 124.9h0M493.2 120.1h0M483.8 125.4h0M468 114.2h0M489.1 121.2h0M489.8 119.6h0M523.2 117.4h0M453.8 123.2h0M454 129h0M482.6 122.1h0M459.9 128.3h0M464.4 122h0M472.4 129.3h0M445.8 117h0M443.8 110.2h0M514.2 117.2h0M513.1 122h0M483.6 125.2h0M492 121.7h0M492.7 117.1h0M445.5 118.6h0M511.2 121.3h0M457.6 126.7h0M460.2 127.5h0M474.6 116.2h0M464.6 122.6h0M474 121.5h0M504.7 118h0M493.6 121.1h0M485.5 121.4h0M485.7 117.9h0M462.9 128.2h0M513 116.9h0M450.7 115.2h0M445.8 113.9h0M488.3 127.9h0M463.1 128.2h0M485.5 126h0M477.6 122.3h0M509 116.1h0M498.9 110.7h0M520.7 116.9h0M488.3 116.8h0M462.6 125.4h0M482.6 129.9h0M498.2 115.4h0M505 113.5h0M518.2 112.6h0M472 119.1h0M468.1 125.9h0M481.9 125.1h0M471.6 129.6h0M485.6 122h0M488.1 121.1h0M466.1 121.1h0M483.2 129.5h0M444 117.8h0M475.6 128.7h0M521.1 109.4h0M493.6 112.3h0M507.5 125.3h0M486 123.9h0M449.5 114.6h0M466.8 129.6h0M473.1 127.4h0M465.4 122.3h0M522.7 118.5h0M449.9 128.5h0M504 116.5h0M513.1 113.5h0M506.4 119.2h0M464.1 120.7h0M482.8 127.4h0M489.1 128.7h0M456 120.2h0M465.2 124.9h0M499.3 109.3h0M519.8 112.3h0M448.4 120.9h0M454.9 125.3h0M489.4 117.2h0M498.9 117h0M468.7 135.1h0M523.2 114.8h0M474.8 124.1h0M514.4 121.4h0M484.3 125.9h0M452.3 117.8h0M485 123.1h0M523.1 119.6h0M491.1 119.2h0M516.4 112h0M511.8 116.9h0M450 120.5h0M521.7 116.8h0M484.6 120.4h0M451.8 116.8h0M508 116.8h0M453.3 125.4h0M493.6 119.4h0M521.8 120.9h0M502.2 121.6h0M525.5 119.9h0M454.4 124.4h0M492.6 119.2h0M521.8 117h0M465.2 131.1h0M513.9 119.5h0M490.8 113.9h0M502.9 112.4h0M452.8 120.4h0M452.3 119.6h0M505 109.3h0M489.1 130.1h0M488.5 116.7h0M489.4 123.8h0M493.1 114.5h0M481.6 120.6h0M445.6 114.5h0M507 120.6h0M492.5 118.3h0M485.6 127.2h0M502.4 114.1h0M508.7 117.9h0M517.8 120.5h0M446.3 120.9h0M496 110.1h0M456.6 125.3h0M504.3 114.2h0M461 122.5h0M446.6 107.4h0M487.7 115.5h0M481.1 121.9h0M517.8 119.9h0M443.9 118.8h0M484.1 128.3h0M517.1 116.6h0M497.7 117.3h0M494.3 123.1h0M508.4 116.6h0M447.3 123.7h0M457.3 119.3h0M516.9 111.9h0M450.9 113.3h0M506 120.7h0M497.5 124.3h0M449.1 126.1h0M511.6 113.9h0M488.7 118.8h0M480.3 125.6h0M494.7 124.6h0M450.3 115.3h0M486.9 118.8h0M497.6 116.7h0M523.4 120.3h0M470 121.8h0M498.3 115.8h0M498.4 121.5h0M456.6 121.6h0M465.9 123h0M465.4 123.7h0M482.7 124.3h0M503 114.3h0M482.2 116h0M484.8 120.7h0M468.8 122.5h0M488.4 118.9h0M474.5 119h0M445.6 121.6h0M515 119.4h0M466.6 132.7h0M494.3 117.6h0M508.2 112.5h0M502.1 116h0M472.4 129.8h0M512 110.6h0M511.9 115.7h0M472.6 119.4h0M464.3 123h0M495.4 127.2h0M521.5 114.3h0M484.2 120.6h0M483.9 123.4h0M502.1 114.5h0M448.5 130.7h0M509.8 120.8h0M474.8 122.3h0M491.2 126.2h0M469.5 117.4h0M503.6 115.1h0M450.4 118.5h0M472.9 127.9h0M492.7 117.9h0M488.1 125.1h0M521.7 121.4h0M504.8 114.8h0M507.6 110.8h0M492.8 120.4h0M470.1 129.1h0M503.5 117.5h0M448.8 119.1h0M450.5 117.1h0M510 118.5h0M492.7 106.4h0M466 127.6h0M481.5 126.3h0M505.1 119.7h0M449.1 126.2h0M447.8 126.7h0M455.4 115.1h0M478.4 127.5h0M476 121.9h0M458.8 135.2h0M486.9 120.6h0M495.9 115.8h0M516.7 113h0M485.7 123h0M495.4 116.3h0M480.2 119.4h0M499 114.7h0M452.6 122.3h0M458.4 120.7h0M514.7 112.4h0M463.2 128.8h0M488.9 126h0M506.3 110.8h0M494.5 120.6h0M451.2 125.1h0M493 116.8h0M503.4 113.1h0M484.2 125.2h0M460.4 121.2h0M520.4 113h0M512.1 115.8h0M454.7 121.2h0M511.8 112.4h0M477.4 120.4h0M486.8 128.1h0M489.1 127h0M467.3 123.2h0M460.7 132.9h0M487.3 125.7h0M485.4 124.1h0M459.9 120.4h0M462.5 132.5h0M446.2 116.1h0M452.9 116.1h0M518.2 112.8h0M483.5 120.3h0M512.6 113.6h0M459.2 126.6h0M508.7 111.6h0M459.5 119.5h0M499.9 115.6h0M445.5 116.8h0M494.5 125h0M484.7 121.2h0M520.2 117.2h0M508.2 114.7h0M461.1 129.6h0M461.5 126.8h0M458 117.2h0M519.2 112.8h0M496.3 124.2h0M502.4 111.1h0M465 136.2h0M471.1 122.9h0M496.4 118.7h0M475.6 119.2h0M494.5 118.6h0M445 116h0M452 129.7h0M461.6 129.3h0M501.7 111.2h0M487.7 124.2h0M484 117h0M496.6 118h0M497.4 117.1h0M471.7 119h0M451.4 127.9h0M458.8 116.4h0M505.8 117.4h0M470.6 122.8h0M499.5 113.4h0M475.1 133.5h0M461.7 122.6h0M495 113h0M445.2 115.5h0M520.1 120.6h0M448.9 124.9h0M484.3 129.6h0M465.5 126.4h0M514.6 118.1h0M462.6 128.6h0M493.6 122h0M486.8 120.6h0M515.2 110.3h0M458.3 120.5h0M448.9 110.4h0M466.4 128.9h0M501 112.1h0M466.1 120.6h0M485.8 125.2h0M457.7 125.2h0M509.9 118.3h0M473.5 136.3h0M459.6 126.2h0M501.9 116.2h0M453.7 121.4h0M450.7 115.7h0M483.3 128.7h0M508.7 122.8h0M488.2 115.1h0M457.4 123.4h0M491.5 122.2h0M502.7 116.9h0M509.3 114.1h0M492.7 116.8h0M499.2 112h0M455 122.3h0M492.9 117.5h0M498.5 111.2h0M500.8 117h0M484 118.7h0M460.2 121.4h0M513.6 119.8h0M465.3 118.9h0M444.9 115.2h0M484.8 119.8h0M495.4 123.2h0M450 116.2h0M512.6 113.5h0M512.1 108h0M508.2 117.5h0M481.2 115.9h0M505.9 120.8h0M500.2 114.8h0M475.8 120.9h0M464.9 124.2h0M509.4 113.8h0M488.9 114.6h0M444.4 120.1h0M480.7 122.5h0M464.4 133h0M505.4 117.3h0M464.7 120.6h0M519.4 119.1h0M496 121h0M452.7 121.5h0M464.1 122.8h0M498.2 113.8h0M485.1 125.8h0M489.4 112.3h0M470.7 121.6h0M487.7 127.8h0M463 125.6h0M479.3 123.7h0M512.8 115.3h0M469 116.3h0M524.8 112.4h0M464.9 133.1h0M468.5 122h0M512.7 120.4h0M458.9 122.2h0M509.2 111h0M490.7 120.6h0M449 111.9h0M465.4 120.1h0M486.3 124.4h0M513.1 114.9h0M453.2 124.8h0M515.8 110.6h0M511.2 121.8h0M524.6 120h0M483.2 123.7h0M464.1 123h0M453.7 119.4h0M450.9 127.5h0M511.9 119.5h0M505.9 113.8h0M506.6 113h0M448.1 120.9h0M501.2 126h0M451.6 125.3h0M495.5 123.1h0M481.4 127.5h0M497.1 111.7h0M449.2 120.6h0M489.9 113.8h0M501.7 115.3h0M460.6 129.5h0M485.3 120.8h0M484.1 118.5h0M489.1 112.4h0M512.4 115h0M504.1 118.3h0M468.7 127.5h0M482.6 130.3h0M473.6 124.5h0M516.3 109.5h0M474.1 115.7h0M505.4 120.3h0M476.9 130.9h0M480.9 131.5h0M502.2 110.1h0M472.9 126.1h0M458.1 127.3h0M454.6 119h0M496.5 118.9h0M446.2 117.9h0M467.1 114.6h0M497.1 123.7h0M486.6 119.4h0M466.4 127.3h0M489.7 119.4h0M522 119h0M458.1 115.4h0M447.2 121.2h0M458.2 124.6h0M504.2 118.3h0M455.1 121.7h0M505.4 117h0M505 110.9h0M447.1 117.2h0M502.1 111h0M465.9 129h0M456.5 116.4h0M447.1 117.8h0M499.1 124.4h0M459.3 118.4h0M444.9 110.6h0M513.8 109.8h0M516.8 115.2h0M484.8 120.3h0M486.8 121h0M470.5 125.9h0M501.3 120h0M480.4 127.3h0M501 120.1h0M474.5 130.9h0M494.2 116.2h0M453 113.2h0M495.2 123.3h0M488.7 131.3h0M489.3 132.3h0M458.8 120.9h0M495.1 109.9h0M482.7 115.6h0M451.3 112.3h0M445.1 115h0M477.4 123.5h0M510.8 108.6h0M453.6 121.4h0M517.9 116.6h0M461.4 126.5h0M498.4 105.6h0M478 119.5h0M443.9 119.2h0M505.7 116.1h0M467.7 123.6h0M452.9 121.4h0M475.8 119.6h0M526.1 119.1h0M458 111.1h0M503.1 112.6h0M486.2 128.8h0M490.7 118.2h0M478.6 119.2h0M451.1 124.9h0M523.7 112.7h0M506.5 115.5h0M474.4 126.6h0M445 123.9h0M457.8 122.8h0M511.6 114.6h0M519.7 111.7h0M518.3 111.8h0M509.7 116.6h0M503 110h0M450.6 114.3h0M458.3 118.4h0M521.3 120.3h0M495.7 105.9h0M477.2 125.3h0M465.9 125.9h0M514 118.7h0M514.3 111.8h0M498.3 116.8h0M468.9 131.2h0M447.6 115.6h0M486.9 125.2h0M524.9 124.8h0M485.4 118.1h0M459.9 115h0M516.4 116.3h0M497.3 120.3h0M448.7 123.3h0M522.8 119.4h0M448.9 123.3h0M461.9 116.4h0M445.2 108h0M489.3 119.2h0M471.9 125.3h0M471 120.2h0M506.4 122.2h0M482.8 123.7h0M461.4 121.7h0M482.8 133.2h0M476.2 121.1h0M452.5 118.4h0M511.6 115.1h0M459.3 126h0M465.3 124.4h0M471 128.7h0M468.8 125.3h0M452.2 131.2h0M505.4 108.7h0M481.9 125.2h0M500.2 118.7h0M454.2 132.2h0M501.5 120.3h0M521 117.4h0M459.3 126.9h0M490.3 120.4h0M469.1 119.1h0M518.8 114.4h0M501 116.5h0M508.7 120.6h0M490.7 117.7h0M505.4 123h0M449.4 126.5h0M517.6 120.5h0M501 114.3h0M461.3 123.5h0M454 116.7h0M464.8 129.2h0M501.4 111.9h0M478.6 119.6h0M503.8 117.6h0M467.8 124.9h0M496.8 117.4h0M470.5 124.3h0M502.3 112.4h0M455.5 118.8h0M474 126.1h0M485.3 127.9h0M499 118.9h0M475.8 126.7h0M445.5 117.5h0M484.9 121.1h0M447.3 118.2h0M512.5 112.8h0M486.5 116.1h0M493.9 113.4h0M453.5 112.1h0M469.7 128.3h0M501.6 105.1h0M485.4 127.1h0M488.5 122.4h0M471.2 124.7h0M496.6 112h0M473.4 115.6h0M465.2 125.3h0M475.3 131.9h0M483.8 133.1h0M476.4 119.4h0M451.6 125h0M489.7 123.4h0M470.9 125.8h0M457.8 122.1h0M496.8 123.1h0M501.4 121.9h0M482.4 126h0M517.8 117.5h0M493.7 115.2h0M507.3 111.2h0M473.4 126.3h0M497.1 120.3h0M517.1 116.8h0M467.3 116.4h0M522.9 122.6h0M461.6 120h0M496.1 118.4h0M449.3 122.8h0M454.6 124.9h0M473 122h0M477.5 128.4h0M512.9 119.2h0M454.9 128.4h0M501.9 112.2h0M491.5 118.2h0M469.1 116.4h0M500.4 113.2h0M470.3 122h0M521.4 118.8h0M477.9 120.9h0M523.2 121.9h0M509.9 109.3h0M521.9 119.7h0M498.2 126.9h0M485.7 115.3h0M444.5 116.5h0M524.7 118.2h0M517 111.9h0M495.9 123.8h0M482.2 126.6h0M481.8 115.5h0M505.6 111.2h0M500.4 117.1h0M470.8 120.1h0M474.3 129.6h0M518.4 113.9h0M478.5 126.7h0M446.8 119.7h0M513.4 114.7h0M526.1 118h0M477.1 116.1h0M510.3 115h0M483.4 118.7h0M472.9 111.8h0M492.9 122.1h0M514.7 115.8h0M490.5 114.6h0M500.3 114.4h0M503.8 112.3h0M494.1 117.8h0M513.8 115.6h0M494.1 121.7h0M523.8 115.8h0M499.8 113.3h0M473 128.6h0M477 129.4h0M504.5 113.7h0M502.7 113.2h0M474.3 125.2h0M509.9 118.4h0M479.5 123.7h0M472.4 125.3h0M458.7 121.4h0M500.4 119.5h0M500.9 115.5h0M509 116.3h0M489.4 109.5h0M445 113.5h0M491.7 127.7h0M490 113.8h0M492.2 110.3h0M454.8 118.1h0M468.4 127.1h0M465.2 124.9h0M517.9 115.3h0M493.3 122.9h0M495.2 123.7h0M499 118.2h0M448 129.4h0M496.7 121.3h0M476.2 128h0M512.4 117.2h0M501.6 111.6h0M494.5 114.7h0M475.8 122.7h0M496.5 121.6h0M471.3 122.4h0M472.4 126.8h0M458.9 121.8h0M502.7 121.6h0M482.2 118.1h0M461.3 117.8h0M467.9 132.5h0M504.4 110.6h0M480 111.9h0M451.2 123.6h0M459.8 121.6h0M448.3 124.5h0M484.7 120.2h0M464.6 116.3h0M490.1 126.9h0M482.8 119.3h0M450.2 120.4h0M452 118.6h0M481.4 111.1h0M511.5 121.1h0M486.2 112.4h0M498.2 119.3h0M464 117.9h0M445.5 115.4h0M479.2 127.3h0M500.7 111.7h0M492.5 122.7h0M457.1 124.3h0M461 125.7h0M486.3 123.4h0M480.4 119.6h0M450.9 119.8h0M455.9 125.2h0M457.2 127.5h0M511.8 124.3h0M450.8 126h0M501.7 118.1h0M499.4 114.8h0M514.2 111.1h0M509.4 117.3h0M463.8 125h0M516.9 117.7h0M472.4 123h0M452.3 116.3h0M467.4 113.2h0M465 130.7h0M513.8 116.5h0M466.7 118.2h0M478.4 112.9h0M517.1 112.9h0M497.2 116.1h0M497 115.8h0M459.1 128.9h0M452.7 124h0M477.4 123.4h0M458.5 117.9h0M491.4 122.4h0M446 114.6h0M496.8 119.7h0M492.7 109.9h0M454.3 121h0M457.5 121h0M468.6 123.9h0M484.1 127.4h0M468.4 123.8h0M519.2 112.1h0M501.2 119.3h0M493.9 118.9h0M493.5 111.1h0M509 120.3h0M479.4 134.4h0M490.8 118.2h0M514 119.3h0M459.8 128.3h0M496.4 107.4h0M495 119.3h0M507.7 111.4h0M497 111.4h0M472.8 130.2h0M479.8 121.2h0M499.3 116.8h0M517.4 112.5h0M459.9 118.2h0M487.1 123h0M508.4 119.7h0M463.2 125.3h0M481.8 121.6h0M477.7 131.1h0M479.9 129.1h0M479.4 131.4h0M501.7 120.2h0M468.8 122.5h0M501.5 121.1h0M509.8 114.5h0M454.8 121.6h0M454.7 123.7h0M525.4 118.7h0M487.5 123.9h0M473.5 127.6h0M503.9 117.9h0M515.4 119.2h0M471.8 126.1h0M496.9 116.7h0M485.8 126.7h0M469.3 128.7h0M498.5 121.2h0M497.7 123.3h0M501.3 116.5h0M505.6 121.9h0M514.3 120h0M522.3 116h0M503.6 110.6h0M505.6 117.1h0M513.8 113.2h0M457.4 122.5h0M447.9 114.9h0M505.1 113h0M496.1 116.6h0M457 123.6h0M454.9 117h0M511.8 119.4h0M521.4 109.2h0M502 123.9h0M470 126.3h0M513.5 113.9h0M490.1 115.9h0M498.7 119.8h0M498.9 117.3h0M518.1 116.5h0M506.4 115.8h0M478.1 124.5h0M448 116.3h0M501 125.3h0M476 123.2h0M472.2 121.1h0M462.7 124h0M448.4 112.9h0M488.3 115.5h0M472.7 128.8h0M511.5 116.8h0M487.4 119.4h0M476.6 127.2h0M448.6 116.1h0M512.2 115.5h0M469.8 120.3h0M488.7 122.6h0M497.3 120.5h0M481.2 128.3h0M470.3 129.5h0M467.3 123.8h0M498.8 124h0M476.5 125.4h0M498.9 113.1h0M478.8 124.8h0M480.7 131h0M505.9 116h0M475.9 124.2h0M448.6 123.1h0M465.4 129.7h0M480.7 126.5h0M492.1 125.2h0M521.7 117.4h0M472.9 128.6h0M514.1 110.6h0M464.3 121.1h0M479.6 124.4h0M449.4 113.9h0M506.6 111.3h0M447.4 123h0M496.3 108.6h0M464.8 129.2h0M471.5 121.7h0M516.7 117.9h0M526.1 116.4h0M511 116.2h0M495.9 113.4h0M515.4 114.7h0M519.7 114.2h0M517.4 119.7h0M507.4 114.1h0M508.1 114.1h0M493.9 118.5h0M469.8 119.2h0M503.1 119.6h0M474.9 118.1h0M514.9 111.4h0M448 121.1h0M508 108.7h0M445.6 119.3h0M463.9 120.1h0M513.9 119.3h0M452.7 124.3h0M478.6 119h0M451.8 122.1h0M469.5 124.1h0M488.5 115.9h0M523.2 113.9h0M467.1 123.8h0M446.7 121.4h0M466 127.9h0M446.1 109h0M509.8 112.3h0M507.2 113.1h0M471.9 121.9h0M496 117.7h0M494 111h0M454.4 126.8h0M496.5 116.5h0M497.6 117.4h0M490.7 118.9h0M522.3 115.6h0M511.4 114.7h0M497.8 112h0M476.8 119h0M498.4 118.6h0M513.6 116.9h0M453.9 120.2h0M463 126.5h0M500.4 123.3h0M454.3 120.3h0M498.8 115.5h0M517.6 112.3h0M483.8 114.3h0M449.1 115.8h0M484.3 115.8h0M515.9 121.3h0M502.4 124.3h0M523.6 119.5h0M482.6 127.1h0M503.9 118.8h0M466.7 124h0M462.7 123.3h0M481 127.9h0M507.6 117.7h0M446 116.2h0M500.5 113h0M496.2 115.5h0M475.5 125.3h0M468.8 114.9h0M493.5 115.6h0M478 125.7h0M479.5 118.9h0M467.5 128.9h0M486.5 120.5h0M470.7 117.2h0M487.7 125h0M488.9 117.9h0M472.7 126.6h0M445.3 111.2h0M497.6 115.8h0M454.2 131.5h0M484.4 124.2h0M510.3 113.2h0M502.7 119.9h0M499.4 116.4h0M500.6 110.9h0M489.2 114.1h0M488.4 125.4h0M516.9 118.6h0M503 115.3h0M490.5 115.5h0M446.9 114.2h0M468.4 124.3h0M500.3 119.3h0M493 119.9h0M502.4 112.2h0M455.7 127.2h0M493.7 116.7h0M521.9 115.5h0M516.5 117h0M491.5 126.8h0M497.3 115.2h0M521.4 114.9h0M478.8 128.1h0M459 123h0M482.4 123.1h0M445.5 125.8h0M476.5 123.8h0M460.5 129.3h0M510.8 112.9h0M473.4 135.5h0M455.1 128.7h0M507.1 110.5h0M461.9 128.9h0M486.7 126.2h0M498.2 112.7h0M455.3 119.1h0M458.9 123.6h0M479.7 118.3h0M455.3 118h0M473 129.3h0M457.2 120.2h0M511.4 116.3h0M461.9 115.8h0M446.8 114.8h0M498 112.1h0M451.3 123.1h0M511.3 121.3h0M515.9 111.6h0M477.8 122.5h0M445.6 121h0M486.9 120.5h0M458 129.9h0M511.5 118.8h0M467.1 129.3h0M498.3 116.1h0M499.6 119.9h0M472 126h0M489.1 125.5h0M491 121.6h0M476.6 124.7h0M486.9 113.5h0M491.4 111.7h0M453.5 127.7h0M507.6 113.4h0M478.2 116.2h0M505.1 116.6h0M485.1 120.8h0M477.8 124.5h0M502.8 122.9h0M459.5 124.6h0M487.9 112h0M462.1 122.8h0M448.3 112.5h0M491.1 115h0M459.6 118.9h0M475.4 123.3h0M512.3 113.6h0M466.8 118.7h0M464.1 127h0M497 123.8h0M453.4 118.7h0M494.1 123.2h0M447.9 120.2h0M461.6 122.3h0M507.9 117.3h0M514.3 114.8h0M491.1 117.2h0M472.3 114.4h0M514.3 116.4h0M460.9 112.6h0M502.9 120h0M479.2 121h0M466 123.8h0M505.5 124.3h0M467.5 131.5h0M520.6 120.8h0M466.5 120.2h0M515.3 116.7h0M495.9 119.6h0M464.6 126.3h0M488.4 122.5h0M472.9 134.4h0M444.7 123.4h0M446 118.8h0M492 120.8h0M522.2 122.9h0M517.7 113.1h0M477.1 128.4h0M457.2 116.9h0M524.3 119h0M444.1 118.1h0M484.9 120h0M508.5 108h0M522 112.2h0M471 124.3h0M495.8 109.8h0M498.6 116.8h0M487.1 123.1h0M466.2 121h0M522.2 119.4h0M486.9 112.1h0M485.1 118.8h0M471.6 125.5h0M466.1 126.6h0M477 130.1h0M479.9 128.7h0M478.4 122.7h0M486.8 118.6h0M500.9 116.5h0M523.4 118.2h0M464.2 129.1h0M478.5 125.3h0M504.2 115.2h0M460.7 125.5h0M465.4 126.2h0M465.5 123h0M489.6 121.3h0M461.3 124.5h0M448.7 119.3h0M466.7 124.3h0M491.5 116.7h0M470.9 120.6h0M480.7 116.7h0M495.2 116.2h0M483 111.9h0M468.2 133.7h0M487.2 119.3h0M458.1 118.3h0M464.2 126.6h0M488.4 116h0M459.3 116.7h0M447.1 115.8h0M489.9 115.1h0M447.2 106.6h0M498 116.1h0M464.3 119.1h0M474.9 117.9h0M466.1 125.2h0M512.9 111.5h0M445.6 123.7h0M450.7 115.4h0M475.3 135h0M485.5 123.1h0M446.6 125.5h0M510.7 112.9h0M494.8 115.2h0M476.8 129.9h0M449.7 117.6h0M481.5 119.2h0M455.6 123.5h0M505.6 124.4h0M474.4 122.6h0M520.1 119.3h0M525.4 114.6h0M514.9 115.7h0M516.2 115h0M496.7 121.4h0M464 132.7h0M526.2 122.3h0M483.9 119.9h0M484.6 116.8h0M463 119.5h0M462.9 129.8h0M512 121.4h0M459.5 119.8h0M508.4 116.2h0M489.5 125.5h0M463.5 121.4h0M488.6 115.5h0M471.1 124.7h0M478.7 115.4h0M507.7 119.3h0M447.6 106h0M480.1 123.1h0M489.3 117.6h0M499.7 113.8h0M506.2 118h0M467.8 128.2h0M491.1 127.3h0M492.2 116.8h0M490 114.4h0M466.4 127.3h0M521.2 111.2h0M483.7 120h0M518.7 111.5h0M474.3 132.6h0M477.8 126.2h0M448.3 122.2h0M500.9 114.1h0M494.9 117.6h0M489.9 127.1h0M484.4 127.4h0M471.2 121.4h0M455.9 126.5h0M505.2 112.8h0M481 125.1h0M475.1 118.2h0M460.5 122h0M452.2 117.2h0M480.3 119.5h0M522 119.1h0M480.2 123.7h0M481.5 125.6h0M452.4 124.4h0M471.5 130.9h0M503.7 114.7h0M460.9 125h0M505.5 124.6h0M473.1 123.2h0M495.6 112h0M482.2 128.3h0M487.7 116.5h0M457.3 123.6h0M497.8 109.4h0M477.8 123.9h0M460.6 116.6h0M474.3 121.4h0M471 127.7h0M466.1 115h0M480.1 122.7h0M524.8 114.7h0M514.3 120.5h0M452.7 127.1h0M458.1 125h0M511.2 116h0M480.1 124h0M497.9 113.2h0M480.6 123.7h0M465.3 128.6h0M511.6 108.9h0M495.8 113.8h0M520 118.1h0M508 112.6h0M446.4 115.7h0M519.3 112.4h0M508.7 110.9h0M444.3 126.2h0M451 118.7h0M493.4 118.9h0M461.5 124.6h0M445.3 110.7h0M518.4 115.3h0M513.1 119.3h0M474.7 126.2h0M473.6 125h0M454.8 124.1h0M448.1 116.2h0M450.1 113.5h0M466.6 121.2h0M470.4 130.4h0M444.3 121.3h0M460.7 125.6h0M465 129.3h0M503.8 120.5h0M486.9 119.9h0M466.8 126.3h0M500.9 116h0M490.3 118.4h0M468.5 119.3h0M443.9 118.2h0M475.7 123.2h0M447.3 121.9h0M478.5 135.6h0M490.6 111.1h0M504.6 115.6h0M495.9 112.2h0M447.5 121.8h0M452.2 120.8h0M519.7 118.5h0M500 107.8h0M449 115.3h0M461.4 114.9h0M462.3 130.9h0M516 112.5h0M499.8 118.3h0M498.9 117.1h0M515.8 114.3h0M445.7 125.7h0M467.3 120.1h0M489 118.1h0M455.6 117.7h0M498.6 110.1h0M473.3 127.9h0M485.7 124.4h0M482.6 124.5h0M524.4 117h0M460.1 121.4h0M483.8 126.5h0M514.2 114.5h0M450.2 118h0M454.8 116.4h0M458.5 122.6h0M502 121.5h0M514.3 114.7h0M500.3 119.4h0M480.9 120.1h0M464.1 128.3h0M482.3 116.7h0M502.2 116.5h0M455.2 127.1h0M505.4 114.7h0M477.9 121.3h0M443.9 118.3h0M465.9 126.9h0" stroke="#008c00" stroke-width="1.9" stroke-linecap="round" fill="none"/>
</g>
<path d="M343.4 144.5v2.2M352.77 144.5v1.2M358.26 144.5v1.2M362.15 144.5v1.2M365.17 144.5v1.2M367.63 144.5v1.2M369.72 144.5v1.2M371.52 144.5v1.2M373.12 144.5v1.2M374.54 144.5v2.2M383.91 144.5v1.2M389.4 144.5v1.2M393.29 144.5v1.2M396.31 144.5v1.2M398.77 144.5v1.2M400.86 144.5v1.2M402.66 144.5v1.2M404.26 144.5v1.2M405.68 144.5v2.2M415.05 144.5v1.2M420.54 144.5v1.2M424.43 144.5v1.2M427.45 144.5v1.2M429.91 144.5v1.2M432 144.5v1.2M433.8 144.5v1.2M435.4 144.5v1.2M436.82 144.5v2.2M446.19 144.5v1.2M451.68 144.5v1.2M455.57 144.5v1.2M458.59 144.5v1.2M461.05 144.5v1.2M463.14 144.5v1.2M464.94 144.5v1.2M466.54 144.5v1.2M467.96 144.5v2.2M477.33 144.5v1.2M482.82 144.5v1.2M486.71 144.5v1.2M489.73 144.5v1.2M492.19 144.5v1.2M494.28 144.5v1.2M496.08 144.5v1.2M497.68 144.5v1.2M499.1 144.5v2.2M508.47 144.5v1.2M513.96 144.5v1.2M517.85 144.5v1.2M520.87 144.5v1.2M523.33 144.5v1.2M525.42 144.5v1.2M527.22 144.5v1.2M528.82 144.5v1.2M530.24 144.5v2.2M539.61 144.5v1.2M545.1 144.5v1.2M548.99 144.5v1.2M552.01 144.5v1.2M554.47 144.5v1.2M556.56 144.5v1.2M558.36 144.5v1.2M559.96 144.5v1.2M561.38 144.5v2.2M570.75 144.5v1.2M342.75 12.3h-2.2M342.75 52h-1.3M342.75 83.5h-1.3M342.75 105.9h-1.3M342.75 137.4h-1.3M342.75 20.49h-1.2M342.75 29.65h-1.2M342.75 40.03h-1.2M342.75 66.18h-1.2" stroke="#5e5e5e" stroke-width="0.7" fill="none"/>
<path d="M342.75 -0.25V145M342.75 0.25H574.85M342.75 144.5H574.85" fill="none" stroke="#5e5e5e" stroke-width="1.1"/>
<path d="M574.85 -0.25V145" fill="none" stroke="#5e5e5e" stroke-width="0.78"/>
<text x="343.1" y="154.4" text-anchor="middle" font-size="8.6" fill="#1a1a1a" stroke="#1a1a1a" stroke-width="0.12">10<tspan dy="-3.4" font-size="6.4">−5</tspan></text>
<text x="374.2" y="154.4" text-anchor="middle" font-size="8.6" fill="#1a1a1a" stroke="#1a1a1a" stroke-width="0.12">10<tspan dy="-3.4" font-size="6.4">−4</tspan></text>
<text x="405.4" y="154.4" text-anchor="middle" font-size="8.6" fill="#1a1a1a" stroke="#1a1a1a" stroke-width="0.12">10<tspan dy="-3.4" font-size="6.4">−3</tspan></text>
<text x="436.5" y="154.4" text-anchor="middle" font-size="8.6" fill="#1a1a1a" stroke="#1a1a1a" stroke-width="0.12">10<tspan dy="-3.4" font-size="6.4">−2</tspan></text>
<text x="467.7" y="154.4" text-anchor="middle" font-size="8.6" fill="#1a1a1a" stroke="#1a1a1a" stroke-width="0.12">10<tspan dy="-3.4" font-size="6.4">−1</tspan></text>
<text x="498.8" y="154.4" text-anchor="middle" font-size="8.6" fill="#1a1a1a" stroke="#1a1a1a" stroke-width="0.12">10<tspan dy="-3.4" font-size="6.4">0</tspan></text>
<text x="529.9" y="154.4" text-anchor="middle" font-size="8.6" fill="#1a1a1a" stroke="#1a1a1a" stroke-width="0.12">10<tspan dy="-3.4" font-size="6.4">1</tspan></text>
<text x="561.1" y="154.4" text-anchor="middle" font-size="8.6" fill="#1a1a1a" stroke="#1a1a1a" stroke-width="0.12">10<tspan dy="-3.4" font-size="6.4">2</tspan></text>
<text x="339.2" y="15.6" text-anchor="end" font-size="8.6" fill="#1a1a1a" stroke="#1a1a1a" stroke-width="0.12">10<tspan dy="-3.4" font-size="6.4">−2</tspan></text>
<text x="339.2" y="55.3" text-anchor="end" font-size="8.6" fill="#1a1a1a" stroke="#1a1a1a" stroke-width="0.12">6 × 10<tspan dy="-3.4" font-size="6.4">−3</tspan></text>
<text x="339.2" y="86.8" text-anchor="end" font-size="8.6" fill="#1a1a1a" stroke="#1a1a1a" stroke-width="0.12">4 × 10<tspan dy="-3.4" font-size="6.4">−3</tspan></text>
<text x="339.2" y="109.2" text-anchor="end" font-size="8.6" fill="#1a1a1a" stroke="#1a1a1a" stroke-width="0.12">3 × 10<tspan dy="-3.4" font-size="6.4">−3</tspan></text>
<text x="339.2" y="140.7" text-anchor="end" font-size="8.6" fill="#1a1a1a" stroke="#1a1a1a" stroke-width="0.12">2 × 10<tspan dy="-3.4" font-size="6.4">−3</tspan></text>
<text x="458.8" y="163.6" text-anchor="middle" font-size="8.4" textLength="46" lengthAdjust="spacingAndGlyphs" fill="#1a1a1a">Eigenvalues</text>
<clipPath id="c3"><rect x="43.75" y="188.2" width="231.9" height="144.05"/></clipPath>
<rect x="108.7" y="188.2" width="105.8" height="144.05" fill="#e5e5e5"/>
<g clip-path="url(#c3)"><g filter="url(#sb)">
<path d="M95.4 194.8h0M115.5 207.3h0M136.7 248.9h0M140.1 252.5h0M116 256.1h0M120.8 256.4h0M109.8 259.3h0M143.5 257.6h0M138.2 259.8h0M143.5 263.6h0M155.5 264.1h0M164.7 263.6h0M106.4 268h0M113.4 270.4h0M123.3 267.7h0M127.3 268.4h0M128.6 272.5h0M134.6 271.3h0M147.8 270.8h0M154.3 268.4h0M158.2 271.3h0M159.9 272.5h0M131.4 276.6h0M137.5 275.7h0M144.7 275.7h0M150.7 276.6h0M169 276.1h0M180.8 274.9h0M99.6 283.6h0M112.2 283.4h0M122.5 282.9h0M133.4 282.2h0M135.3 281h0M141.1 283.4h0M143.5 284.1h0M152.2 283.4h0M154.6 282.2h0M118.2 288.2h0M124.5 290.6h0M132.2 290.6h0M215.3 248h0M202.5 254.9h0M205.9 257.3h0M204.2 261.2h0M207.1 263.6h0M215.5 259.8h0M218.7 260.5h0M226.4 258.1h0M224.7 262.9h0M155.3 264.6h0M164.5 263.6h0M154.1 268.4h0M159.6 272h0M197 269.4h0M189.8 271.8h0M216.3 272h0M227.6 274.5h0M180.6 274.9h0M169.3 276.1h0M200.6 273.7h0M201.8 276.1h0M199.4 277.3h0M217.5 280.2h0M212.2 281.4h0M213.9 284.6h0M220.4 290.4h0M154.8 286.1h0M144.1 297.2h0M153.8 294.9h0M153.1 295.7h0M141.9 287.5h0M157.4 295.7h0M144.4 298h0M139.7 294.2h0M145 294.1h0M156.9 285.7h0M151.6 296.3h0M195.2 290h0M183.9 304h0M197.2 297.7h0M158.2 295.4h0M160.7 299.2h0M207.1 286.3h0M176.7 292.6h0M162.9 300.3h0M211.5 289.4h0M159.7 302.9h0M193.6 283.7h0M183.3 301.5h0M160.7 293.5h0M179.2 304h0M185.3 292.9h0M166.6 299h0M200.6 293.2h0M160.8 294.9h0M168.8 290.4h0M201.2 298.6h0M189.8 297.1h0M202.2 294.8h0M163.4 302.8h0M212.7 294.9h0M170.6 302.9h0M187.2 292.6h0M169.8 289h0M190.1 296.8h0M169.3 291.2h0M188.1 299.1h0M148.7 298.3h0M210.5 283.9h0M176.2 292.7h0M143 289.6h0M193.7 296.1h0M180.4 299.5h0M144.4 310.8h0M212.9 306.6h0M187.6 295.7h0M166.8 301.5h0M202.3 302.7h0M202.4 297.7h0M195.4 278.6h0M170.2 294.3h0M189.8 286.3h0M148.2 302.7h0M163.9 276.5h0M173.7 285.7h0M191.5 300.7h0M156.1 297.4h0M194.3 293.9h0M195.2 291.5h0M173.7 284.6h0M175.2 297.6h0M184.9 301.4h0M196.1 281.3h0M170.5 293.6h0M206.4 297.9h0M170.8 297.1h0M165.5 286.4h0M186.7 296.8h0M197.1 299.6h0M161.9 301.6h0M176.3 297.8h0M179.6 295.2h0M192.7 296.3h0M197.1 285.6h0M191 292h0M175.5 282h0M198.8 290.1h0M213.6 297.7h0M174.1 299.4h0M194 292.2h0M191.2 277.7h0M192.6 285.5h0M157 308.6h0M169.8 297h0M167.4 303h0M209.9 294.9h0M168.5 302.4h0M205.6 297.1h0M171.4 302.6h0M165.6 298.3h0M156.9 293.1h0M150.9 296.1h0M213.7 282.9h0M191.7 295.7h0M212 290.7h0M196.9 298.3h0M211 277.5h0M179.6 287.2h0M201.1 297.4h0M191.3 299.8h0M176.9 295.9h0M165.1 290.2h0M181.8 286.7h0M180.9 294.7h0M172.6 294.7h0M187.7 294.7h0M163.3 293h0M158.8 298.4h0M207.9 292.6h0M175.5 295.4h0M199 284.1h0M179.7 302.3h0M188.9 296.3h0M199.7 289.1h0M181.1 297.1h0M183 291.5h0M201 294.2h0M205.7 293.4h0M190.3 299.1h0M187.9 297h0M200.9 288.6h0M188.3 290.3h0M177 301h0M196.5 289.1h0M196.5 297.1h0M203.1 299.2h0M149.4 291.5h0M208.3 288h0M186.6 297.5h0M174 304.1h0M208.2 284.7h0M174.2 299h0M204.4 278.6h0M192.3 301.5h0M193.9 289.6h0M202.8 293.2h0M184.5 301.1h0M198.2 289.9h0M211.1 286.6h0M159.5 290.4h0M180.6 274.5h0M202.1 289.4h0M184.1 303.3h0M181.7 298.3h0M175 286.5h0M184.4 284.9h0M150.5 296.4h0M202.5 291.9h0M158.6 301.2h0M162.7 295.3h0M156.1 290.5h0M157.2 290.1h0M142.7 290h0M185.9 296.9h0M154 289.6h0M153 289.4h0M179.4 294.1h0M168 288.8h0M207.9 300h0M183.4 294.5h0M156.8 300.4h0M203.9 285h0M174.5 305.5h0M147 297.1h0M152.2 288.9h0M191.6 292.7h0M176.4 308.7h0M212.6 278.9h0M189.6 307.9h0M178.1 288.7h0M154.7 296.4h0M177.7 301.4h0M181.4 289.8h0M157.3 291.4h0M186.9 278.8h0M182.6 290.5h0M175.9 296.1h0M207.5 295.7h0M151.4 293.2h0M192.2 295.8h0M202.2 302.1h0M176.2 294.2h0M148.8 304.4h0M213 297.8h0M203 291.4h0M185.9 297.1h0M159.1 300.4h0M187.6 291.8h0M194.3 297.1h0M170.5 296.3h0M186 294.6h0M166.3 287.1h0M187.4 301.5h0M176.1 296.5h0M187.9 291.3h0M186.3 295.5h0M154.3 286.5h0M197.3 290.5h0M158.4 294.7h0M208.2 299.5h0M202.5 293.2h0M208.9 298.6h0M208.8 289.5h0M165.1 308.9h0M167.9 291.7h0M197.9 302.3h0M178.1 285.8h0M214.2 284.6h0M154.7 297.6h0M204.4 285.9h0M177 298h0M189.3 287.4h0M157 300.5h0M184.8 302.3h0M192.5 290.7h0M170.5 287.6h0M177.5 292.8h0M211.3 293.2h0M199.1 302.5h0M201.4 294.9h0M175.3 301h0M164.8 293.8h0M161.6 299.1h0M156.7 299.8h0M162.5 300.9h0M211.5 276.2h0M201.6 292.8h0M175 294.7h0M189.3 279.6h0M152.2 298.6h0M198.5 290.1h0M143.9 290.7h0M160.6 296.3h0M164.2 297.7h0M170.8 296.4h0M185.9 296.6h0M176.1 290.4h0M189.3 304.2h0M200.3 286.2h0M190.2 298.9h0M160 294.2h0M186.8 295h0M182.6 287.6h0M168.6 305.1h0M168.1 300.4h0M198.4 300h0M193.3 298.8h0M177.5 293.9h0M193.6 291.6h0M151.5 300h0M170.5 279.4h0M201.8 304.5h0M153.9 292.2h0M200 295h0M208.8 292.9h0M184.2 285.9h0M174.3 277.1h0M193.8 303.6h0M189 289.6h0M213.4 296.1h0M185 295.3h0M182.6 285.1h0M188.1 296.8h0M205.2 303.1h0M203.8 292.7h0M183.1 300.6h0M194.9 298.2h0M179.8 284.1h0M209.4 281.4h0M200.4 295.8h0M178.9 295.6h0M193.6 301.6h0M164.1 299.8h0M208 275.4h0M192.6 295.6h0M160 293.6h0M191.7 289.9h0M187.7 301.2h0M184 294.3h0M152.3 292.4h0M198.6 291.3h0M211.1 302h0M173.7 302.7h0M196.4 280.8h0M207.4 291.9h0M173.8 290.9h0M173.4 296h0M212.4 283.5h0M191.2 294.5h0M166.5 301.8h0M211.2 286.6h0M167.5 301.9h0M165.9 300.9h0M186.1 295.2h0M169.2 296h0M203 289.9h0M152.1 299.8h0M206 300.4h0M197.4 278.7h0M183 297.1h0M153.1 300.7h0M187.1 290.7h0" stroke="#3838fc" stroke-width="3.95" stroke-linecap="round" fill="none"/>
<circle cx="247.7" cy="325.6" r="1.55" fill="none" stroke="#3838fc" stroke-width="0.85"/>
<path d="M107.6 291.8h0M114.1 293.5h0M115.8 293.5h0M122 303.9h0M131 312.8h0M129.8 296h0M132.2 299h0M132.1 294.7h0M135.3 295.1h0M146.6 304.7h0M146.4 301.7h0M146.1 299.2h0M124.9 294.8h0M125.5 305.4h0M141 294.8h0M147.3 309h0M131.7 296.8h0M138.9 304h0M144.8 311.1h0M160.3 283.6h0M213 295.8h0M181 299.3h0M169 309.9h0M211.6 278.4h0M209.8 303.8h0M188.6 297.4h0M171 303h0M198.3 309.3h0M204.9 299h0M213.3 299.5h0M160.7 300.1h0M195.3 303.2h0M192 288h0M179.3 297.4h0M182.5 297.8h0M199.1 300.3h0M187.5 308.3h0M214.1 290.9h0M165.6 308.7h0M151.5 301h0M194.1 310.1h0M199 297h0M182.8 284.9h0M173.9 296.4h0M177.9 299.3h0M207.8 293.6h0M188.1 301.6h0M203.4 302.2h0M189.1 302.2h0M198.9 298.6h0M166.6 287.7h0M159.2 294.9h0M143.2 299.8h0M148.7 302.2h0M169.5 289.6h0M180.9 295.8h0M194.3 295.7h0M207.9 298h0M150.8 288.5h0M196.9 296.4h0M157.8 301.3h0M184.5 305h0M174.6 294h0M186.9 298.9h0M202.5 295.6h0M210.6 308.6h0M172.1 311h0M210.8 294.8h0M191.6 306.3h0M192.9 289.8h0M183.2 294h0M206.8 286.4h0M213.6 298h0M212.2 301.8h0M160.3 301h0M197.5 304.7h0M207.3 299.1h0M175.8 302.3h0M166.5 295.3h0M192 302.3h0M184.8 300.3h0M150 288.5h0M196.1 295.1h0M193.4 298.3h0M150.6 289.4h0M152.4 304.8h0M201.3 301h0M145.5 293.8h0M205.8 299.8h0M212.2 297.5h0M192.4 305.4h0M209.6 293h0M206.4 288.7h0M160.1 299.3h0M174.2 304h0M189.1 296.6h0M140.1 295.3h0M179.1 299.7h0M205.6 300.8h0M189.1 292.5h0M170.8 306.6h0M153.7 313.4h0M198.2 291.3h0M195.2 304.1h0M174.8 293.5h0M172.2 306.6h0M150.3 303.2h0M166.6 305.8h0M158.1 289.1h0M179.3 300.5h0M185 307.7h0M195.9 300.4h0M168.9 288.5h0M196.9 302h0M210.6 302.3h0M172.4 304.8h0M210.1 299h0M159.6 299.7h0M188.1 301.2h0M145.9 288.2h0M168.1 296.1h0M177.4 300.4h0M181 295.9h0M166.6 291.7h0M185 294.1h0M194.6 305.2h0M199.7 304.1h0M203.1 286.6h0M210.9 295.4h0M162.9 309.4h0M151.1 300.9h0M189.7 286.9h0M165.6 293.4h0M211.2 294.6h0M190.9 293.9h0M189 308.3h0M191.4 308.6h0M187.1 284.3h0M205.9 300h0M183.4 298.2h0M209 302.2h0M199.5 300h0M163.7 292.1h0M168.1 303.9h0M210 298.3h0M186.9 303.4h0M186.4 295.7h0M158.3 299.7h0M155.7 297.6h0M213 290.8h0M176.7 293h0M205.2 298.5h0M186.4 302.1h0M157.8 292h0M181.9 288.7h0M176.2 304.9h0M156.8 288.7h0M174.8 304h0M153.2 299.3h0M157.7 303.4h0M213.3 306.2h0M183.5 288.1h0M202.2 288.3h0M153.8 293.9h0M194.4 299.7h0M194.5 289.7h0M167.5 293.9h0M167 295.7h0M209.1 302.7h0M182.2 298.7h0M210.3 301.5h0M195.1 289.6h0M189.3 303.6h0M195.8 295.1h0M205.4 302.2h0M198.4 300.3h0M171.9 303.3h0M157 299.5h0M164.4 297.5h0M203.5 295.1h0M202.5 305.9h0M212.7 300.1h0M144.7 302.2h0M180.2 302h0M175.9 299.2h0M177.9 292.1h0M171.2 306.7h0M172 300.2h0M168.3 288.8h0M159.9 284.3h0M194.5 301.7h0M180.5 302.7h0M166 303.8h0M209.2 277.3h0M155.7 295.1h0M187.9 299h0M185.7 293.9h0M212.7 303.9h0M176.2 288.9h0M180 297h0M202.6 303.1h0M166.4 301.8h0M145.8 295.8h0M201.3 296h0M193.4 302.2h0M193.5 303.4h0M197.6 298.3h0M178.3 286.1h0M208.1 299.7h0M199.4 302.7h0M180.8 301.2h0M195.8 285.8h0M148.4 300.1h0M179 290.5h0M204.6 307.2h0M170.4 301.8h0M206 299.1h0M191.5 289.6h0M197.4 299.6h0M164.3 296.5h0M189.2 292.7h0M161 304.3h0M144.9 291.1h0M144.6 293.3h0M209.8 295.2h0M207 308.5h0M184.5 305.8h0M161.2 305.1h0M160 292.5h0M173.6 290.3h0M209.6 294.8h0M154.3 299.7h0M146.8 297.3h0" stroke="#ff1414" stroke-width="1.76" stroke-linecap="round" fill="none"/>
</g>
<path d="M95.4 194.8h0M115.5 207.3h0M136.7 248.9h0M140.1 252.5h0M116 256.1h0M120.8 256.4h0M109.8 259.3h0M143.5 257.6h0M138.2 259.8h0M143.5 263.6h0M155.5 264.1h0M164.7 263.6h0M106.4 268h0M113.4 270.4h0M123.3 267.7h0M127.3 268.4h0M128.6 272.5h0M134.6 271.3h0M147.8 270.8h0M154.3 268.4h0M158.2 271.3h0M159.9 272.5h0M131.4 276.6h0M137.5 275.7h0M144.7 275.7h0M150.7 276.6h0M169 276.1h0M180.8 274.9h0M99.6 283.6h0M112.2 283.4h0M122.5 282.9h0M133.4 282.2h0M135.3 281h0M141.1 283.4h0M143.5 284.1h0M152.2 283.4h0M154.6 282.2h0M118.2 288.2h0M124.5 290.6h0M132.2 290.6h0M215.3 248h0M202.5 254.9h0M205.9 257.3h0M204.2 261.2h0M207.1 263.6h0M215.5 259.8h0M218.7 260.5h0M226.4 258.1h0M224.7 262.9h0M155.3 264.6h0M164.5 263.6h0M154.1 268.4h0M159.6 272h0M197 269.4h0M189.8 271.8h0M216.3 272h0M227.6 274.5h0M180.6 274.9h0M169.3 276.1h0M200.6 273.7h0M201.8 276.1h0M199.4 277.3h0M217.5 280.2h0M212.2 281.4h0M213.9 284.6h0M220.4 290.4h0M154.8 286.1h0M144.1 297.2h0M153.8 294.9h0M153.1 295.7h0M141.9 287.5h0M157.4 295.7h0M144.4 298h0M139.7 294.2h0M145 294.1h0M156.9 285.7h0M151.6 296.3h0M195.2 290h0M183.9 304h0M197.2 297.7h0M158.2 295.4h0M160.7 299.2h0M207.1 286.3h0M176.7 292.6h0M162.9 300.3h0M211.5 289.4h0M159.7 302.9h0M193.6 283.7h0M183.3 301.5h0M160.7 293.5h0M179.2 304h0M185.3 292.9h0M166.6 299h0M200.6 293.2h0M160.8 294.9h0M168.8 290.4h0M201.2 298.6h0M189.8 297.1h0M202.2 294.8h0M163.4 302.8h0M212.7 294.9h0M170.6 302.9h0M187.2 292.6h0M169.8 289h0M190.1 296.8h0M169.3 291.2h0M188.1 299.1h0M148.7 298.3h0M210.5 283.9h0M176.2 292.7h0M143 289.6h0M193.7 296.1h0M180.4 299.5h0M144.4 310.8h0M212.9 306.6h0M187.6 295.7h0M166.8 301.5h0M202.3 302.7h0M202.4 297.7h0M195.4 278.6h0M170.2 294.3h0M189.8 286.3h0M148.2 302.7h0M163.9 276.5h0M173.7 285.7h0M191.5 300.7h0M156.1 297.4h0M194.3 293.9h0M195.2 291.5h0M173.7 284.6h0M175.2 297.6h0M184.9 301.4h0M196.1 281.3h0M170.5 293.6h0M206.4 297.9h0M170.8 297.1h0M165.5 286.4h0M186.7 296.8h0M197.1 299.6h0M161.9 301.6h0M176.3 297.8h0M179.6 295.2h0M192.7 296.3h0M197.1 285.6h0M191 292h0M175.5 282h0M198.8 290.1h0M213.6 297.7h0M174.1 299.4h0M194 292.2h0M191.2 277.7h0M192.6 285.5h0M157 308.6h0M169.8 297h0M167.4 303h0M209.9 294.9h0M168.5 302.4h0M205.6 297.1h0M171.4 302.6h0M165.6 298.3h0M156.9 293.1h0M150.9 296.1h0M213.7 282.9h0M191.7 295.7h0M212 290.7h0M196.9 298.3h0M211 277.5h0M179.6 287.2h0M201.1 297.4h0M191.3 299.8h0M176.9 295.9h0M165.1 290.2h0M181.8 286.7h0M180.9 294.7h0M172.6 294.7h0M187.7 294.7h0M163.3 293h0M158.8 298.4h0M207.9 292.6h0M175.5 295.4h0M199 284.1h0M179.7 302.3h0M188.9 296.3h0M199.7 289.1h0M181.1 297.1h0M183 291.5h0M201 294.2h0M205.7 293.4h0M190.3 299.1h0M187.9 297h0M200.9 288.6h0M188.3 290.3h0M177 301h0M196.5 289.1h0M196.5 297.1h0M203.1 299.2h0M149.4 291.5h0M208.3 288h0M186.6 297.5h0M174 304.1h0M208.2 284.7h0M174.2 299h0M204.4 278.6h0M192.3 301.5h0M193.9 289.6h0M202.8 293.2h0M184.5 301.1h0M198.2 289.9h0M211.1 286.6h0M159.5 290.4h0M180.6 274.5h0M202.1 289.4h0M184.1 303.3h0M181.7 298.3h0M175 286.5h0M184.4 284.9h0M150.5 296.4h0M202.5 291.9h0M158.6 301.2h0M162.7 295.3h0M156.1 290.5h0M157.2 290.1h0M142.7 290h0M185.9 296.9h0M154 289.6h0M153 289.4h0M179.4 294.1h0M168 288.8h0M207.9 300h0M183.4 294.5h0M156.8 300.4h0M203.9 285h0M174.5 305.5h0M147 297.1h0M152.2 288.9h0M191.6 292.7h0M176.4 308.7h0M212.6 278.9h0M189.6 307.9h0M178.1 288.7h0M154.7 296.4h0M177.7 301.4h0M181.4 289.8h0M157.3 291.4h0M186.9 278.8h0M182.6 290.5h0M175.9 296.1h0M207.5 295.7h0M151.4 293.2h0M192.2 295.8h0M202.2 302.1h0M176.2 294.2h0M148.8 304.4h0M213 297.8h0M203 291.4h0M185.9 297.1h0M159.1 300.4h0M187.6 291.8h0M194.3 297.1h0M170.5 296.3h0M186 294.6h0M166.3 287.1h0M187.4 301.5h0M176.1 296.5h0M187.9 291.3h0M186.3 295.5h0M154.3 286.5h0M197.3 290.5h0M158.4 294.7h0M208.2 299.5h0M202.5 293.2h0M208.9 298.6h0M208.8 289.5h0M165.1 308.9h0M167.9 291.7h0M197.9 302.3h0M178.1 285.8h0M214.2 284.6h0M154.7 297.6h0M204.4 285.9h0M177 298h0M189.3 287.4h0M157 300.5h0M184.8 302.3h0M192.5 290.7h0M170.5 287.6h0M177.5 292.8h0M211.3 293.2h0M199.1 302.5h0M201.4 294.9h0M175.3 301h0M164.8 293.8h0M161.6 299.1h0M156.7 299.8h0M162.5 300.9h0M211.5 276.2h0M201.6 292.8h0M175 294.7h0M189.3 279.6h0M152.2 298.6h0M198.5 290.1h0M143.9 290.7h0M160.6 296.3h0M164.2 297.7h0M170.8 296.4h0M185.9 296.6h0M176.1 290.4h0M189.3 304.2h0M200.3 286.2h0M190.2 298.9h0M160 294.2h0M186.8 295h0M182.6 287.6h0M168.6 305.1h0M168.1 300.4h0M198.4 300h0M193.3 298.8h0M177.5 293.9h0M193.6 291.6h0M151.5 300h0M170.5 279.4h0M201.8 304.5h0M153.9 292.2h0M200 295h0M208.8 292.9h0M184.2 285.9h0M174.3 277.1h0M193.8 303.6h0M189 289.6h0M213.4 296.1h0M185 295.3h0M182.6 285.1h0M188.1 296.8h0M205.2 303.1h0M203.8 292.7h0M183.1 300.6h0M194.9 298.2h0M179.8 284.1h0M209.4 281.4h0M200.4 295.8h0M178.9 295.6h0M193.6 301.6h0M164.1 299.8h0M208 275.4h0M192.6 295.6h0M160 293.6h0M191.7 289.9h0M187.7 301.2h0M184 294.3h0M152.3 292.4h0M198.6 291.3h0M211.1 302h0M173.7 302.7h0M196.4 280.8h0M207.4 291.9h0M173.8 290.9h0M173.4 296h0M212.4 283.5h0M191.2 294.5h0M166.5 301.8h0M211.2 286.6h0M167.5 301.9h0M165.9 300.9h0M186.1 295.2h0M169.2 296h0M203 289.9h0M152.1 299.8h0M206 300.4h0M197.4 278.7h0M183 297.1h0M153.1 300.7h0M187.1 290.7h0" stroke="#008c00" stroke-width="1.9" stroke-linecap="round" fill="none"/>
</g>
<path d="M44.6 332.25v2.2M53.76 332.25v1.2M59.12 332.25v1.2M62.93 332.25v1.2M65.88 332.25v1.2M68.29 332.25v1.2M70.32 332.25v1.2M72.09 332.25v1.2M73.65 332.25v1.2M75.04 332.25v2.2M84.2 332.25v1.2M89.56 332.25v1.2M93.37 332.25v1.2M96.32 332.25v1.2M98.73 332.25v1.2M100.76 332.25v1.2M102.53 332.25v1.2M104.09 332.25v1.2M105.48 332.25v2.2M114.64 332.25v1.2M120 332.25v1.2M123.81 332.25v1.2M126.76 332.25v1.2M129.17 332.25v1.2M131.2 332.25v1.2M132.97 332.25v1.2M134.53 332.25v1.2M135.92 332.25v2.2M145.08 332.25v1.2M150.44 332.25v1.2M154.25 332.25v1.2M157.2 332.25v1.2M159.61 332.25v1.2M161.64 332.25v1.2M163.41 332.25v1.2M164.97 332.25v1.2M166.36 332.25v2.2M175.52 332.25v1.2M180.88 332.25v1.2M184.69 332.25v1.2M187.64 332.25v1.2M190.05 332.25v1.2M192.08 332.25v1.2M193.85 332.25v1.2M195.41 332.25v1.2M196.8 332.25v2.2M205.96 332.25v1.2M211.32 332.25v1.2M215.13 332.25v1.2M218.08 332.25v1.2M220.49 332.25v1.2M222.52 332.25v1.2M224.29 332.25v1.2M225.85 332.25v1.2M227.24 332.25v2.2M236.4 332.25v1.2M241.76 332.25v1.2M245.57 332.25v1.2M248.52 332.25v1.2M250.93 332.25v1.2M252.96 332.25v1.2M254.73 332.25v1.2M256.29 332.25v1.2M257.68 332.25v2.2M266.84 332.25v1.2M272.2 332.25v1.2M43.75 192h-1.3M43.75 215.1h-1.3M43.75 248h-1.3M43.75 304h-2.2M43.75 312.51h-1.2M43.75 322.03h-1.2" stroke="#5e5e5e" stroke-width="0.7" fill="none"/>
<path d="M43.75 187.7V332.75M43.75 188.2H275.65M43.75 332.25H275.65" fill="none" stroke="#5e5e5e" stroke-width="1.1"/>
<path d="M275.65 187.7V332.75" fill="none" stroke="#5e5e5e" stroke-width="0.78"/>
<text x="44.3" y="341.8" text-anchor="middle" font-size="8.6" fill="#1a1a1a" stroke="#1a1a1a" stroke-width="0.12">10<tspan dy="-3.4" font-size="6.4">−5</tspan></text>
<text x="74.7" y="341.8" text-anchor="middle" font-size="8.6" fill="#1a1a1a" stroke="#1a1a1a" stroke-width="0.12">10<tspan dy="-3.4" font-size="6.4">−4</tspan></text>
<text x="105.2" y="341.8" text-anchor="middle" font-size="8.6" fill="#1a1a1a" stroke="#1a1a1a" stroke-width="0.12">10<tspan dy="-3.4" font-size="6.4">−3</tspan></text>
<text x="135.6" y="341.8" text-anchor="middle" font-size="8.6" fill="#1a1a1a" stroke="#1a1a1a" stroke-width="0.12">10<tspan dy="-3.4" font-size="6.4">−2</tspan></text>
<text x="166.1" y="341.8" text-anchor="middle" font-size="8.6" fill="#1a1a1a" stroke="#1a1a1a" stroke-width="0.12">10<tspan dy="-3.4" font-size="6.4">−1</tspan></text>
<text x="196.5" y="341.8" text-anchor="middle" font-size="8.6" fill="#1a1a1a" stroke="#1a1a1a" stroke-width="0.12">10<tspan dy="-3.4" font-size="6.4">0</tspan></text>
<text x="226.9" y="341.8" text-anchor="middle" font-size="8.6" fill="#1a1a1a" stroke="#1a1a1a" stroke-width="0.12">10<tspan dy="-3.4" font-size="6.4">1</tspan></text>
<text x="257.4" y="341.8" text-anchor="middle" font-size="8.6" fill="#1a1a1a" stroke="#1a1a1a" stroke-width="0.12">10<tspan dy="-3.4" font-size="6.4">2</tspan></text>
<text x="40.2" y="195.3" text-anchor="end" font-size="8.6" fill="#1a1a1a" stroke="#1a1a1a" stroke-width="0.12">4 × 10<tspan dy="-3.4" font-size="6.4">−2</tspan></text>
<text x="40.2" y="218.4" text-anchor="end" font-size="8.6" fill="#1a1a1a" stroke="#1a1a1a" stroke-width="0.12">3 × 10<tspan dy="-3.4" font-size="6.4">−2</tspan></text>
<text x="40.2" y="251.3" text-anchor="end" font-size="8.6" fill="#1a1a1a" stroke="#1a1a1a" stroke-width="0.12">2 × 10<tspan dy="-3.4" font-size="6.4">−2</tspan></text>
<text x="40.2" y="307.3" text-anchor="end" font-size="8.6" fill="#1a1a1a" stroke="#1a1a1a" stroke-width="0.12">10<tspan dy="-3.4" font-size="6.4">−2</tspan></text>
<text x="159.7" y="351" text-anchor="middle" font-size="8.4" textLength="46" lengthAdjust="spacingAndGlyphs" fill="#1a1a1a">Eigenvalues</text>
<clipPath id="c4"><rect x="342.7" y="188.2" width="232.15" height="144.05"/></clipPath>
<rect x="424.7" y="188.2" width="120.9" height="144.05" fill="#e5e5e5"/>
<g clip-path="url(#c4)"><g filter="url(#sb)">
<path d="M425.5 194.6h0M428.6 227.9h0M432.7 229.1h0M431.5 256.8h0M447.9 268.1h0M431.2 257.4h0M448.4 267.9h0M419.2 276.2h0M420.7 284.1h0M410.9 287.9h0M436.3 280.7h0M458.8 282.6h0M477 281.4h0M451.9 286h0M468.1 286.7h0M440.9 289.5h0M455.3 290h0M471.6 290h0M430.5 294.7h0M440.2 293.7h0M445.6 292.3h0M450.2 291.4h0M485.8 291.9h0M497.9 291.9h0M454.9 294.2h0M465.3 296h0M444 297.7h0M452.6 299.3h0M458.4 298.4h0M435.1 301.6h0M438.1 301.6h0M442.1 305.8h0M437.4 312.8h0M447.2 318.6h0M450.2 304h0M445.6 304h0M502.3 275.9h0M532.4 274.3h0M525.6 282.8h0M537.5 286.2h0M497.9 291.7h0M506.8 292.1h0M503.5 293.7h0M515.7 292.7h0M551 296.7h0M558.3 295.3h0M554.4 299.2h0M550.4 303.6h0M552.4 301.6h0M561.3 304h0M556.9 306.6h0M553.4 309.5h0M564.3 309.9h0M548.4 312.5h0M553.4 315.1h0M560.3 316.1h0M476.7 281h0M458.8 282.4h0M468 286.8h0M471.5 289.4h0M486 291.7h0M498.1 291.7h0M525.4 283.3h0M538.1 285.9h0M507.2 292h0M503.7 294.3h0M515.9 293.2h0M455.9 289.4h0M465.4 295.5h0M458.5 297.7h0M472.4 298.4h0M477.6 298.1h0M482.5 298.4h0M491.5 299h0M461.2 306.5h0M459.3 300.3h0M460.3 301.9h0M445 311.2h0M448.9 301.9h0M459.3 317.4h0M456.1 315.6h0M459.8 307.9h0M460.6 308.1h0M449.4 319.6h0M447 307.8h0M458.9 306.9h0M439.9 298.8h0M445.1 303.4h0M451.2 303.3h0M441.2 305.6h0M506.3 310.2h0M499.6 301h0M490.9 307.4h0M504.8 307.3h0M513.2 311.2h0M508.3 310.5h0M521.6 300.6h0M497.3 317.5h0M474.6 315.8h0M473.6 312.4h0M544.8 297.5h0M528 313.1h0M525.8 305.9h0M499.1 314.7h0M470.7 311.2h0M501.7 310.6h0M540.7 301.6h0M512.8 308.9h0M482.9 310.7h0M505.6 303.4h0M535.8 297.7h0M509.6 313.8h0M479.2 313h0M523.1 309.4h0M491.7 308.9h0M532.1 314.7h0M532.4 303.8h0M530.1 314.5h0M516.9 305.6h0M515.1 302.6h0M524.8 294.3h0M508.2 316h0M499.6 311h0M466.3 302.9h0M468.9 313.8h0M534.9 293.8h0M479.5 313.7h0M494.7 310.8h0M505.4 299.1h0M478.8 314.7h0M532.6 307.1h0M501 320.3h0M534.3 300.5h0M526.7 306.7h0M545.2 307.2h0M542.3 309.2h0M526.1 311.7h0M543.2 311.2h0M520.6 293.6h0M514.2 311.7h0M511.9 318.6h0M512 309.6h0M510.4 309h0M509.7 311.9h0M533.5 303.7h0M522.4 297.3h0M537.4 304.3h0M520.7 309.4h0M500.8 305.9h0M499 314.7h0M516.7 311.2h0M463.7 307h0M532.6 306.8h0M477.9 303.4h0M528 299.2h0M540.8 301.2h0M505.4 302h0M467 307.7h0M484.9 311h0M479.2 296.3h0M517.2 317h0M486.8 304.2h0M526 298.5h0M489.8 314.9h0M509.3 306.8h0M498.5 317.1h0M538.4 296.9h0M537.6 310.9h0M534.9 307.9h0M538.5 302.5h0M505.2 313.4h0M485.4 302.4h0M521.2 299h0M502.1 305.1h0M523.1 304.9h0M502.6 318.4h0M541.6 307.8h0M494.6 316.7h0M493 304.9h0M521.4 308.9h0M521.5 305.7h0M524.4 309.5h0M472.4 315.6h0M534.8 309.5h0M534.5 295.1h0M541.7 303.6h0M544.9 315.7h0M520.7 304.2h0M501.7 306.5h0M458.7 310.6h0M493 306.4h0M508.7 311.3h0M519.2 312.4h0M510.8 310.8h0M493.9 305.8h0M508.5 313.2h0M503 311.9h0M510.6 295.9h0M485.6 313.9h0M474.7 307.9h0M496.7 305.1h0M545.4 305.3h0M537.3 304.9h0M459.3 316.3h0M502.8 298.4h0M492.2 310.3h0M544.9 306.2h0M519.7 307.7h0M532.1 298.3h0M463.3 291.5h0M523.1 301.5h0M533.8 314.3h0M527.8 298.2h0M472.2 299.9h0M471 305.5h0M535.2 310.4h0M516.4 299.9h0M523.2 304.8h0M476.1 311.4h0M531.7 302.3h0M489.3 307.3h0M530.5 293.7h0M546.3 309.2h0M524.7 307.3h0M504.3 311.7h0M544 312h0M521.8 309.4h0M542.8 300h0M508.2 319h0M522.1 300.8h0M486.5 310.3h0M505.5 305.2h0M462.4 304.3h0M539.6 319.6h0M522.2 314.5h0M527.8 308.7h0M502.8 304.2h0M500.7 307.7h0M522.6 313.9h0M514 313.5h0M473.4 310.6h0M532.2 302.7h0M506.6 313.3h0M493.5 303.1h0M462.1 319.2h0M500.2 304.6h0M545.5 305.7h0M524.9 302.4h0M542.4 312.8h0M511.4 309h0M498.7 308.6h0M537.3 307.7h0M535.1 296h0M503.4 320.7h0M517.3 311.6h0M478.2 312.9h0M518.7 304.1h0M531.7 297.8h0M511.3 312.6h0M539.2 310.8h0M473.4 303.4h0M486.3 312.3h0M463.4 298.8h0M466.5 312.2h0M523 305.1h0M470.9 303.3h0M532.3 314.2h0M522.5 314h0M522.6 311.5h0M514.5 301.8h0M498.5 316.1h0M465.8 314.8h0M513.5 288.1h0M506.5 309h0M513.2 308.6h0M502.4 314.2h0M542.2 305.3h0M516.6 307.1h0M525.3 312.7h0M477.8 308.3h0M507.7 312.1h0M528.5 303.8h0M470.9 313.2h0M538.1 304h0M459.3 308h0M531.2 303.6h0M534.2 307.8h0M497.6 310h0M543.9 305.2h0M524 293.6h0M482.9 312h0M510.8 303h0M534.4 293h0M518.4 305.8h0M489.3 319.7h0M531.4 294.8h0M513.1 311.5h0M475.9 299.5h0M476.9 316.8h0M542.5 304.9h0M486.6 315.8h0M528.1 303.5h0M531.8 299h0M537.7 310.4h0M482.5 306h0M528.4 307.1h0M509.7 313.4h0M521.7 298.2h0M527.7 306.4h0M540.3 302.7h0M487.2 313.1h0M513.7 315.3h0M537.7 309.3h0M536.8 296.5h0M475.2 311.8h0M510.5 316.8h0M525.4 297.1h0M473.9 312.3h0M527.9 312.8h0M534.7 306.1h0M515 309.2h0M504.9 315.7h0M546.7 311.9h0M475.7 313.8h0M538.6 311.3h0M527.9 296h0M518.1 312.6h0M504.1 320.3h0M522.5 307.8h0M529.5 295.8h0M478.1 311.9h0M533.9 303.5h0M531.7 297h0M473.1 307.9h0M460.4 310.5h0M477.4 311.5h0M523.2 305.3h0M476.1 312.7h0M481.5 320h0M528.6 301.6h0M481.9 310.4h0M517 313.3h0M529.1 294.6h0M504.3 313.5h0M529.7 305.8h0M499.9 312.7h0M502.2 311.5h0M490.8 308.1h0M480.5 300h0M499.8 302.5h0M515.5 300.6h0M543 310.4h0M475.8 309.8h0M546.6 314.6h0M484.6 315.7h0M499.2 308.8h0M497.9 313.1h0M539 315.2h0M542.1 302h0M474.6 315.4h0M486.5 313.4h0M491.5 314.9h0M516.5 300.3h0M537.6 300.9h0M518.7 315.2h0M531.9 317.5h0M533.1 306.5h0M542.1 309.7h0M529.1 311.8h0M486 305.3h0M497.1 312.2h0M519.4 301.6h0M540.3 309.1h0M476.9 319.5h0M512.3 309.7h0M540.4 298.9h0M522.3 311.2h0M529.9 307.9h0M501.3 300.7h0M540.1 306.9h0M510.8 317.4h0M482.4 310.9h0M508.2 313.5h0M536.8 319.7h0M515 313.3h0M534.5 298.3h0M522.6 311.8h0M543.5 297.5h0M524.5 298.5h0M526.9 293.1h0M477.8 309.5h0M493.5 304h0M531.4 300h0M511 310.1h0M527.6 312.4h0M538.9 307.1h0M518.6 291.8h0M539.4 300.7h0M495.7 314.7h0M523.3 313.1h0M507 317.8h0M475.7 310.5h0M472.2 310.1h0M523.7 299.1h0M499.2 306.8h0M490.6 310.1h0M516.9 305.4h0M528.8 310.2h0M522.3 304.2h0M505.2 304.3h0M518.1 315.8h0M516.2 309.2h0M496.8 306.1h0M527.5 294.4h0M491.3 311.1h0M524.3 306.2h0M493.3 316h0M527 320.9h0M498.5 305.8h0M536.2 291.4h0M487.2 318.6h0M543 305.8h0M488.2 311.2h0M532 292h0M541.3 301.8h0M476 316.2h0M505.7 312.3h0M510 308.4h0M504.1 299h0M531.5 297h0M539.2 300.6h0M494.7 308.8h0M524 314.7h0M460.9 309.7h0M524.1 299.2h0M542.7 301.1h0M463.8 312.2h0M510.3 304.7h0M544.6 311.4h0M511.6 304.1h0M478 317h0M509.3 311.6h0M519.7 295.4h0M539 296.7h0M520.9 312.5h0M498.5 311h0M543.1 307.5h0M537.8 317h0M520.8 314.8h0M539.1 290.5h0M469.2 300h0M517 305.2h0M506.3 298.6h0M520.6 309.5h0M507.2 309.9h0M539.2 305.4h0M529.4 302.6h0M486.1 308.6h0M495.7 309.3h0M511.4 301.3h0M505.2 315.4h0M476.3 304.9h0M473.4 303.1h0M531.3 307.8h0M542.6 308.3h0M542.6 315.2h0M485.9 312.2h0M538.5 311.5h0M544.4 303.8h0M510.6 308.1h0M525.6 308.1h0M501.7 296.5h0M483.1 309.2h0M490.6 305.3h0M497.4 295h0M518 301.8h0M531.5 300.2h0M518.5 307.8h0M458.1 315.3h0M514.2 312.2h0M539.8 300.3h0M479.5 317.6h0M518.9 310.7h0M536.5 307.2h0M537 297.8h0M503.3 308.2h0M488.2 306.9h0M536.5 305.6h0M490.2 316.9h0M503.4 306.4h0" stroke="#3838fc" stroke-width="3.95" stroke-linecap="round" fill="none"/>
<circle cx="566.8" cy="325.4" r="1.55" fill="none" stroke="#3838fc" stroke-width="0.85"/>
<path d="M429.3 312.8h0M428.1 315.8h0M430.5 318.6h0M436.7 317.4h0M442.6 310.9h0M449.1 309.3h0M454 320h0M461.2 311.9h0M459.9 315.4h0M438.6 319.6h0M456.7 315.5h0M450.4 317.4h0M441.3 312.5h0M455.2 312.2h0M457.2 310.3h0M445.7 312.4h0M464.7 316.4h0M458.7 318.2h0M445.2 314.1h0M443 316.9h0M443.3 317.5h0M438 307h0M455.7 317h0M444.1 311.6h0M456.4 310.1h0M437 316.6h0M451.8 315.2h0M457.7 313.8h0M441.9 317.8h0M457.2 320.6h0M461.2 316.5h0M438.8 319.9h0M479.7 317.3h0M516.7 307.6h0M515.7 318.9h0M497.2 309.1h0M515.4 316.5h0M488.3 320h0M483 323.8h0M473.7 314.5h0M469.6 311.9h0M500.8 316.7h0M501 312.4h0M515.3 311.5h0M511 316.5h0M502.3 311.1h0M471 313.4h0M509.6 314.2h0M477.5 312.8h0M494 307.5h0M481.5 317.7h0M511.3 312.4h0M484.5 314.1h0M518.6 312.4h0M511 318.2h0M483.5 309.7h0M513.3 321.1h0M483.8 313.5h0M505.6 314h0M483.9 313.9h0M516.4 312h0M493.1 314.4h0M519.2 311.7h0M497.1 316.4h0M491.5 318.8h0M490.9 314.1h0M481.1 322.4h0M507.4 321.9h0M514.2 311.6h0M514.7 308h0M470.8 310.4h0M507.4 316.8h0M492.3 319.3h0M481.5 311.5h0M503.1 308.1h0M502.5 316.9h0M512.1 312.4h0M465.3 312.8h0M500.7 311.7h0M518.9 314.7h0M502.2 322.4h0M519.7 312.9h0M501 317.2h0M485.6 318.5h0M502.5 307.7h0M487 312.7h0M501.8 313.6h0M485.6 308.2h0M510.8 309.4h0M501.8 316.6h0M501.9 318.5h0M491.6 310h0M493.1 306.4h0M515.1 313.2h0M503.1 315.5h0M514 314.3h0M492.6 316h0M516 306.6h0M519.8 309.3h0M473 312.9h0M482.2 320.8h0M466 315.9h0M502.5 311.2h0M515 322.8h0M479.9 311.1h0M483.4 314.9h0M493.1 315.8h0M469.7 319.9h0M491.8 312.7h0M461.1 322.8h0M465.9 312.8h0M507.4 318h0M469.5 319.8h0M473.6 312.9h0M467.5 314.4h0M494.8 307.8h0M466.6 312.2h0M506.2 316h0M479.7 309.7h0M507.3 313.1h0M482.8 315.3h0M508.6 312.5h0M481.8 306.1h0M473.8 319.2h0M498.9 313.5h0M500.7 316.6h0M514.7 315.7h0M530.1 315.6h0M539 319.3h0M519.5 314.5h0M541.6 318.8h0M539.5 321.6h0M522 313.5h0M523.5 322.2h0M516.9 307.3h0M531 325.2h0M519.5 316.2h0M528.9 323.4h0M539 312h0M532.7 306h0M534.1 312.7h0M526.6 310.6h0M536.1 319.6h0M531.3 315.2h0M537.5 319.2h0M522.3 315.7h0M518 316.5h0M540 319.7h0M542.3 311.1h0M528.7 319.9h0M528.1 321.6h0M527.5 311.8h0M527.6 317.3h0M526.2 311.5h0M515.8 316.9h0M528.8 320.6h0M522.6 313.9h0M542.6 314.8h0M525.8 313.4h0M518 314.7h0M531.8 310.1h0M535.9 312.3h0M521.3 314.5h0M536.4 315.3h0M526.7 317.9h0M539.4 309.8h0M541.5 316.9h0M525.9 312.3h0M540.7 313.1h0M531.1 312h0M535.1 311.9h0M537.4 323.8h0M527.8 310.7h0M532.4 315.1h0M538.6 310.6h0M526.4 310.9h0M538.9 313.3h0M535.5 319.2h0M514.1 321.9h0M526.7 314.6h0M516.6 311.6h0M533.9 312.6h0M542.9 317.6h0M529.1 317.6h0M521.2 316.5h0M540.7 320.1h0M535.6 312h0M523 311.8h0M525.1 320.6h0M536.3 318.7h0M517.8 309.5h0M513.9 312.8h0M531.8 308.9h0M517.5 314.8h0M527.6 324.2h0M538.9 314.3h0M540.7 314.5h0M539.6 319.7h0M537.4 314.2h0M518.5 309.2h0M532.8 315.8h0M518 320.3h0M537.1 308.6h0M540.9 310.3h0M518.7 316.1h0M527.1 319.3h0M538.9 312h0M526.6 306.1h0M534.9 323.2h0M532 311.8h0M520.7 314.5h0M534.7 318.4h0M527.3 322.4h0M517.8 311.6h0M538.7 315.7h0M513.7 312.8h0M539.8 323.1h0M544.5 311h0M541.9 310.1h0M520.7 313h0M545.3 318.9h0M523.9 315.9h0M515 322h0M540.5 318.5h0M538.3 312.2h0M515.6 316.2h0M528.6 317.7h0M530.1 313.8h0M517.2 319.3h0M544.2 316.6h0M536 314.1h0M523.3 311.7h0M529 313.3h0M531.5 312.2h0M519.1 311.2h0M523 309.2h0M523.4 320.6h0M517.3 307.1h0M518.4 317h0M538.2 315.8h0M533.6 308.9h0M540.8 315.2h0M521.8 315.4h0M542.9 316.3h0M533.6 312.7h0M538.7 319h0M534.4 317.2h0M537.2 307.7h0M528.1 317.5h0M520.6 317.9h0M542.8 320.9h0M543.6 313.9h0M515.9 320h0M518.3 313.5h0M526.9 313.6h0M535 309.6h0M523 313.4h0M545.1 312.7h0M516.4 309.6h0M537.6 316.1h0M532.6 314.2h0M523.9 320.5h0M540.7 311.3h0M533.4 324.3h0M529 318.9h0M532.3 311h0M536.3 309.7h0M539.6 317.3h0M519.2 317.8h0M521.2 321.4h0M541.9 320.5h0M525.2 312.8h0M520.9 319h0M529.6 314.9h0M532.1 318.5h0M545.6 320.2h0M539.6 322.2h0M536.6 313.5h0M542.7 314.6h0M531.8 314.5h0M524.2 321.4h0M538.9 314.7h0M538.4 310.3h0M544.1 313.9h0M535.6 325.3h0M526.1 316.7h0M543.4 315.7h0M520.3 317.1h0M524.8 313.2h0M529.7 311.2h0M519.1 320.1h0M541.9 323h0M544.3 315.8h0M525.6 311.1h0M536.6 315.4h0M514.1 307.6h0M518 315.4h0M526.4 314.3h0M526.4 316.6h0M526.4 310.1h0M533.6 307.5h0M522.8 319.2h0M530.1 308.3h0M517.3 315.2h0M518.8 320.6h0M540.9 313h0M530.3 313.5h0M544.3 319.1h0M533 318.7h0M543.6 312.4h0M528.5 313.6h0M543.4 318.5h0M524.3 307.2h0M541.9 319.6h0M520.3 312.6h0M527.7 309.2h0M519.5 313.6h0M541 319.3h0M525.5 317.3h0M544.1 313.8h0M530.9 310.7h0M541.3 314.5h0M526.9 317.1h0M545.1 321h0M518.3 317.5h0M525.1 312.5h0M536.7 317.4h0M528.4 321.8h0M530.4 320.8h0M522.8 316.9h0M522.1 318.4h0M539.6 305.6h0M533.1 317h0M538.2 312.2h0M528.5 323.8h0M532.9 315.9h0M530.5 317.8h0M531.4 315.7h0M542.6 315h0M528.6 314.7h0M532.4 319.9h0M524.2 320.3h0M542.6 311.3h0M541.5 309.2h0M543.1 319.4h0M534.8 314.9h0M531.7 320.8h0M537.2 313.9h0M515.5 313.1h0M545.5 316.4h0M515.6 322.5h0M518.7 321h0M536.3 312.8h0M518.2 314.4h0M517.7 318.5h0M538 318.2h0M529.2 311.8h0M545.1 313.7h0M525 323.4h0M539.6 317h0M525.7 318.6h0M541.1 323.8h0M521.6 316.4h0M524.5 311.5h0M525.3 310.7h0M518.3 311.4h0M528.5 313.8h0M531.4 313.4h0M533.8 317.7h0M522.8 316h0M537.2 316.4h0M536.4 318h0M537.5 317.4h0M533 320.2h0M539.6 314h0M543.6 311.7h0M534.9 306.7h0M542 312.8h0M516.8 310.2h0M526.5 316.3h0M524.3 313.3h0M522 316.8h0M538.8 315.8h0M525.2 313.8h0M529.7 314.1h0M514 316.8h0M539.2 316.4h0M522.4 320.1h0M537.2 316.9h0M544.6 318.1h0M528.8 313.2h0M529.6 320.8h0M542.8 308h0M528 313.3h0M524.4 317.9h0M533.3 316.8h0M524.1 318.8h0M517.1 309.7h0M533.1 311.2h0M521.8 316.5h0M534.1 319.5h0M540.5 314.7h0M521.8 311.6h0M523.5 316h0M539.2 321.3h0M538.2 313.9h0M532.5 319.2h0M541.3 315.9h0M543.6 310h0M522.1 316.4h0M520.8 308.7h0M537.6 316.4h0M542.7 318.5h0M537.1 319.4h0M514.1 316.8h0M521.4 316.2h0M523.2 315.4h0M528.7 309.4h0M530.3 318.9h0M538.4 312.5h0M530 316.5h0M535.9 310.5h0M536.1 313.3h0M525.8 314.6h0M535.2 318.5h0M515.8 313.3h0" stroke="#ff1414" stroke-width="1.76" stroke-linecap="round" fill="none"/>
</g>
<path d="M425.5 194.6h0M428.6 227.9h0M432.7 229.1h0M431.5 256.8h0M447.9 268.1h0M431.2 257.4h0M448.4 267.9h0M419.2 276.2h0M420.7 284.1h0M410.9 287.9h0M436.3 280.7h0M458.8 282.6h0M477 281.4h0M451.9 286h0M468.1 286.7h0M440.9 289.5h0M455.3 290h0M471.6 290h0M430.5 294.7h0M440.2 293.7h0M445.6 292.3h0M450.2 291.4h0M485.8 291.9h0M497.9 291.9h0M454.9 294.2h0M465.3 296h0M444 297.7h0M452.6 299.3h0M458.4 298.4h0M435.1 301.6h0M438.1 301.6h0M442.1 305.8h0M437.4 312.8h0M447.2 318.6h0M450.2 304h0M445.6 304h0M502.3 275.9h0M532.4 274.3h0M525.6 282.8h0M537.5 286.2h0M497.9 291.7h0M506.8 292.1h0M503.5 293.7h0M515.7 292.7h0M551 296.7h0M558.3 295.3h0M554.4 299.2h0M550.4 303.6h0M552.4 301.6h0M561.3 304h0M556.9 306.6h0M553.4 309.5h0M564.3 309.9h0M548.4 312.5h0M553.4 315.1h0M560.3 316.1h0M476.7 281h0M458.8 282.4h0M468 286.8h0M471.5 289.4h0M486 291.7h0M498.1 291.7h0M525.4 283.3h0M538.1 285.9h0M507.2 292h0M503.7 294.3h0M515.9 293.2h0M455.9 289.4h0M465.4 295.5h0M458.5 297.7h0M472.4 298.4h0M477.6 298.1h0M482.5 298.4h0M491.5 299h0M461.2 306.5h0M459.3 300.3h0M460.3 301.9h0M445 311.2h0M448.9 301.9h0M459.3 317.4h0M456.1 315.6h0M459.8 307.9h0M460.6 308.1h0M449.4 319.6h0M447 307.8h0M458.9 306.9h0M439.9 298.8h0M445.1 303.4h0M451.2 303.3h0M441.2 305.6h0M506.3 310.2h0M499.6 301h0M490.9 307.4h0M504.8 307.3h0M513.2 311.2h0M508.3 310.5h0M521.6 300.6h0M497.3 317.5h0M474.6 315.8h0M473.6 312.4h0M544.8 297.5h0M528 313.1h0M525.8 305.9h0M499.1 314.7h0M470.7 311.2h0M501.7 310.6h0M540.7 301.6h0M512.8 308.9h0M482.9 310.7h0M505.6 303.4h0M535.8 297.7h0M509.6 313.8h0M479.2 313h0M523.1 309.4h0M491.7 308.9h0M532.1 314.7h0M532.4 303.8h0M530.1 314.5h0M516.9 305.6h0M515.1 302.6h0M524.8 294.3h0M508.2 316h0M499.6 311h0M466.3 302.9h0M468.9 313.8h0M534.9 293.8h0M479.5 313.7h0M494.7 310.8h0M505.4 299.1h0M478.8 314.7h0M532.6 307.1h0M501 320.3h0M534.3 300.5h0M526.7 306.7h0M545.2 307.2h0M542.3 309.2h0M526.1 311.7h0M543.2 311.2h0M520.6 293.6h0M514.2 311.7h0M511.9 318.6h0M512 309.6h0M510.4 309h0M509.7 311.9h0M533.5 303.7h0M522.4 297.3h0M537.4 304.3h0M520.7 309.4h0M500.8 305.9h0M499 314.7h0M516.7 311.2h0M463.7 307h0M532.6 306.8h0M477.9 303.4h0M528 299.2h0M540.8 301.2h0M505.4 302h0M467 307.7h0M484.9 311h0M479.2 296.3h0M517.2 317h0M486.8 304.2h0M526 298.5h0M489.8 314.9h0M509.3 306.8h0M498.5 317.1h0M538.4 296.9h0M537.6 310.9h0M534.9 307.9h0M538.5 302.5h0M505.2 313.4h0M485.4 302.4h0M521.2 299h0M502.1 305.1h0M523.1 304.9h0M502.6 318.4h0M541.6 307.8h0M494.6 316.7h0M493 304.9h0M521.4 308.9h0M521.5 305.7h0M524.4 309.5h0M472.4 315.6h0M534.8 309.5h0M534.5 295.1h0M541.7 303.6h0M544.9 315.7h0M520.7 304.2h0M501.7 306.5h0M458.7 310.6h0M493 306.4h0M508.7 311.3h0M519.2 312.4h0M510.8 310.8h0M493.9 305.8h0M508.5 313.2h0M503 311.9h0M510.6 295.9h0M485.6 313.9h0M474.7 307.9h0M496.7 305.1h0M545.4 305.3h0M537.3 304.9h0M459.3 316.3h0M502.8 298.4h0M492.2 310.3h0M544.9 306.2h0M519.7 307.7h0M532.1 298.3h0M463.3 291.5h0M523.1 301.5h0M533.8 314.3h0M527.8 298.2h0M472.2 299.9h0M471 305.5h0M535.2 310.4h0M516.4 299.9h0M523.2 304.8h0M476.1 311.4h0M531.7 302.3h0M489.3 307.3h0M530.5 293.7h0M546.3 309.2h0M524.7 307.3h0M504.3 311.7h0M544 312h0M521.8 309.4h0M542.8 300h0M508.2 319h0M522.1 300.8h0M486.5 310.3h0M505.5 305.2h0M462.4 304.3h0M539.6 319.6h0M522.2 314.5h0M527.8 308.7h0M502.8 304.2h0M500.7 307.7h0M522.6 313.9h0M514 313.5h0M473.4 310.6h0M532.2 302.7h0M506.6 313.3h0M493.5 303.1h0M462.1 319.2h0M500.2 304.6h0M545.5 305.7h0M524.9 302.4h0M542.4 312.8h0M511.4 309h0M498.7 308.6h0M537.3 307.7h0M535.1 296h0M503.4 320.7h0M517.3 311.6h0M478.2 312.9h0M518.7 304.1h0M531.7 297.8h0M511.3 312.6h0M539.2 310.8h0M473.4 303.4h0M486.3 312.3h0M463.4 298.8h0M466.5 312.2h0M523 305.1h0M470.9 303.3h0M532.3 314.2h0M522.5 314h0M522.6 311.5h0M514.5 301.8h0M498.5 316.1h0M465.8 314.8h0M513.5 288.1h0M506.5 309h0M513.2 308.6h0M502.4 314.2h0M542.2 305.3h0M516.6 307.1h0M525.3 312.7h0M477.8 308.3h0M507.7 312.1h0M528.5 303.8h0M470.9 313.2h0M538.1 304h0M459.3 308h0M531.2 303.6h0M534.2 307.8h0M497.6 310h0M543.9 305.2h0M524 293.6h0M482.9 312h0M510.8 303h0M534.4 293h0M518.4 305.8h0M489.3 319.7h0M531.4 294.8h0M513.1 311.5h0M475.9 299.5h0M476.9 316.8h0M542.5 304.9h0M486.6 315.8h0M528.1 303.5h0M531.8 299h0M537.7 310.4h0M482.5 306h0M528.4 307.1h0M509.7 313.4h0M521.7 298.2h0M527.7 306.4h0M540.3 302.7h0M487.2 313.1h0M513.7 315.3h0M537.7 309.3h0M536.8 296.5h0M475.2 311.8h0M510.5 316.8h0M525.4 297.1h0M473.9 312.3h0M527.9 312.8h0M534.7 306.1h0M515 309.2h0M504.9 315.7h0M546.7 311.9h0M475.7 313.8h0M538.6 311.3h0M527.9 296h0M518.1 312.6h0M504.1 320.3h0M522.5 307.8h0M529.5 295.8h0M478.1 311.9h0M533.9 303.5h0M531.7 297h0M473.1 307.9h0M460.4 310.5h0M477.4 311.5h0M523.2 305.3h0M476.1 312.7h0M481.5 320h0M528.6 301.6h0M481.9 310.4h0M517 313.3h0M529.1 294.6h0M504.3 313.5h0M529.7 305.8h0M499.9 312.7h0M502.2 311.5h0M490.8 308.1h0M480.5 300h0M499.8 302.5h0M515.5 300.6h0M543 310.4h0M475.8 309.8h0M546.6 314.6h0M484.6 315.7h0M499.2 308.8h0M497.9 313.1h0M539 315.2h0M542.1 302h0M474.6 315.4h0M486.5 313.4h0M491.5 314.9h0M516.5 300.3h0M537.6 300.9h0M518.7 315.2h0M531.9 317.5h0M533.1 306.5h0M542.1 309.7h0M529.1 311.8h0M486 305.3h0M497.1 312.2h0M519.4 301.6h0M540.3 309.1h0M476.9 319.5h0M512.3 309.7h0M540.4 298.9h0M522.3 311.2h0M529.9 307.9h0M501.3 300.7h0M540.1 306.9h0M510.8 317.4h0M482.4 310.9h0M508.2 313.5h0M536.8 319.7h0M515 313.3h0M534.5 298.3h0M522.6 311.8h0M543.5 297.5h0M524.5 298.5h0M526.9 293.1h0M477.8 309.5h0M493.5 304h0M531.4 300h0M511 310.1h0M527.6 312.4h0M538.9 307.1h0M518.6 291.8h0M539.4 300.7h0M495.7 314.7h0M523.3 313.1h0M507 317.8h0M475.7 310.5h0M472.2 310.1h0M523.7 299.1h0M499.2 306.8h0M490.6 310.1h0M516.9 305.4h0M528.8 310.2h0M522.3 304.2h0M505.2 304.3h0M518.1 315.8h0M516.2 309.2h0M496.8 306.1h0M527.5 294.4h0M491.3 311.1h0M524.3 306.2h0M493.3 316h0M527 320.9h0M498.5 305.8h0M536.2 291.4h0M487.2 318.6h0M543 305.8h0M488.2 311.2h0M532 292h0M541.3 301.8h0M476 316.2h0M505.7 312.3h0M510 308.4h0M504.1 299h0M531.5 297h0M539.2 300.6h0M494.7 308.8h0M524 314.7h0M460.9 309.7h0M524.1 299.2h0M542.7 301.1h0M463.8 312.2h0M510.3 304.7h0M544.6 311.4h0M511.6 304.1h0M478 317h0M509.3 311.6h0M519.7 295.4h0M539 296.7h0M520.9 312.5h0M498.5 311h0M543.1 307.5h0M537.8 317h0M520.8 314.8h0M539.1 290.5h0M469.2 300h0M517 305.2h0M506.3 298.6h0M520.6 309.5h0M507.2 309.9h0M539.2 305.4h0M529.4 302.6h0M486.1 308.6h0M495.7 309.3h0M511.4 301.3h0M505.2 315.4h0M476.3 304.9h0M473.4 303.1h0M531.3 307.8h0M542.6 308.3h0M542.6 315.2h0M485.9 312.2h0M538.5 311.5h0M544.4 303.8h0M510.6 308.1h0M525.6 308.1h0M501.7 296.5h0M483.1 309.2h0M490.6 305.3h0M497.4 295h0M518 301.8h0M531.5 300.2h0M518.5 307.8h0M458.1 315.3h0M514.2 312.2h0M539.8 300.3h0M479.5 317.6h0M518.9 310.7h0M536.5 307.2h0M537 297.8h0M503.3 308.2h0M488.2 306.9h0M536.5 305.6h0M490.2 316.9h0M503.4 306.4h0" stroke="#008c00" stroke-width="1.9" stroke-linecap="round" fill="none"/>
</g>
<path d="M343.8 332.25v2.2M354.67 332.25v1.2M361.03 332.25v1.2M365.55 332.25v1.2M369.05 332.25v1.2M371.91 332.25v1.2M374.32 332.25v1.2M376.42 332.25v1.2M378.27 332.25v1.2M379.92 332.25v2.2M390.79 332.25v1.2M397.15 332.25v1.2M401.67 332.25v1.2M405.17 332.25v1.2M408.03 332.25v1.2M410.44 332.25v1.2M412.54 332.25v1.2M414.39 332.25v1.2M416.04 332.25v2.2M426.91 332.25v1.2M433.27 332.25v1.2M437.79 332.25v1.2M441.29 332.25v1.2M444.15 332.25v1.2M446.56 332.25v1.2M448.66 332.25v1.2M450.51 332.25v1.2M452.16 332.25v2.2M463.03 332.25v1.2M469.39 332.25v1.2M473.91 332.25v1.2M477.41 332.25v1.2M480.27 332.25v1.2M482.68 332.25v1.2M484.78 332.25v1.2M486.63 332.25v1.2M488.28 332.25v2.2M499.15 332.25v1.2M505.51 332.25v1.2M510.03 332.25v1.2M513.53 332.25v1.2M516.39 332.25v1.2M518.8 332.25v1.2M520.9 332.25v1.2M522.75 332.25v1.2M524.4 332.25v2.2M535.27 332.25v1.2M541.63 332.25v1.2M546.15 332.25v1.2M549.65 332.25v1.2M552.51 332.25v1.2M554.92 332.25v1.2M557.02 332.25v1.2M558.87 332.25v1.2M560.52 332.25v2.2M571.39 332.25v1.2M342.7 204.3h-1.3M342.7 233.6h-1.3M342.7 283.6h-2.2M342.7 320.5h-1.3M342.7 291.21h-1.2M342.7 299.73h-1.2M342.7 309.38h-1.2" stroke="#5e5e5e" stroke-width="0.7" fill="none"/>
<path d="M342.7 187.7V332.75M342.7 188.2H574.85M342.7 332.25H574.85" fill="none" stroke="#5e5e5e" stroke-width="1.1"/>
<path d="M574.85 187.7V332.75" fill="none" stroke="#5e5e5e" stroke-width="0.78"/>
<text x="343.5" y="341.8" text-anchor="middle" font-size="8.6" fill="#1a1a1a" stroke="#1a1a1a" stroke-width="0.12">10<tspan dy="-3.4" font-size="6.4">−5</tspan></text>
<text x="379.6" y="341.8" text-anchor="middle" font-size="8.6" fill="#1a1a1a" stroke="#1a1a1a" stroke-width="0.12">10<tspan dy="-3.4" font-size="6.4">−4</tspan></text>
<text x="415.7" y="341.8" text-anchor="middle" font-size="8.6" fill="#1a1a1a" stroke="#1a1a1a" stroke-width="0.12">10<tspan dy="-3.4" font-size="6.4">−3</tspan></text>
<text x="451.9" y="341.8" text-anchor="middle" font-size="8.6" fill="#1a1a1a" stroke="#1a1a1a" stroke-width="0.12">10<tspan dy="-3.4" font-size="6.4">−2</tspan></text>
<text x="488" y="341.8" text-anchor="middle" font-size="8.6" fill="#1a1a1a" stroke="#1a1a1a" stroke-width="0.12">10<tspan dy="-3.4" font-size="6.4">−1</tspan></text>
<text x="524.1" y="341.8" text-anchor="middle" font-size="8.6" fill="#1a1a1a" stroke="#1a1a1a" stroke-width="0.12">10<tspan dy="-3.4" font-size="6.4">0</tspan></text>
<text x="560.2" y="341.8" text-anchor="middle" font-size="8.6" fill="#1a1a1a" stroke="#1a1a1a" stroke-width="0.12">10<tspan dy="-3.4" font-size="6.4">1</tspan></text>
<text x="339.2" y="207.6" text-anchor="end" font-size="8.6" fill="#1a1a1a" stroke="#1a1a1a" stroke-width="0.12">3 × 10<tspan dy="-3.4" font-size="6.4">−2</tspan></text>
<text x="339.2" y="236.9" text-anchor="end" font-size="8.6" fill="#1a1a1a" stroke="#1a1a1a" stroke-width="0.12">2 × 10<tspan dy="-3.4" font-size="6.4">−2</tspan></text>
<text x="339.2" y="286.9" text-anchor="end" font-size="8.6" fill="#1a1a1a" stroke="#1a1a1a" stroke-width="0.12">10<tspan dy="-3.4" font-size="6.4">−2</tspan></text>
<text x="339.2" y="323.8" text-anchor="end" font-size="8.6" fill="#1a1a1a" stroke="#1a1a1a" stroke-width="0.12">6 × 10<tspan dy="-3.4" font-size="6.4">−3</tspan></text>
<text x="458.77" y="351" text-anchor="middle" font-size="8.4" textLength="46" lengthAdjust="spacingAndGlyphs" fill="#1a1a1a">Eigenvalues</text>
<text transform="translate(19.9 73.2) rotate(-90)" text-anchor="middle" font-size="8.3" textLength="13.4" lengthAdjust="spacingAndGlyphs" fill="#1a1a1a">IPR</text>
<text transform="translate(9.1 276.1) rotate(-90)" text-anchor="middle" font-size="10.2" font-weight="bold" textLength="15.2" lengthAdjust="spacingAndGlyphs" fill="#000">IPR</text>
<text x="118.3" y="24.6" font-size="11.0" textLength="52.2" lengthAdjust="spacingAndGlyphs" fill="#0a0a0a" stroke="#0a0a0a" stroke-width="0.22">Video 1 ROI</text>
<text x="410" y="15.8" font-size="11.0" textLength="52.2" lengthAdjust="spacingAndGlyphs" fill="#0a0a0a" stroke="#0a0a0a" stroke-width="0.22">Video 2 ROI</text>
<text x="146.2" y="211.7" font-size="10.7" textLength="34.3" lengthAdjust="spacingAndGlyphs" fill="#0a0a0a" stroke="#0a0a0a" stroke-width="0.22">Video 3</text>
<text x="146.2" y="224.8" font-size="10.7" textLength="53.7" lengthAdjust="spacingAndGlyphs" fill="#0a0a0a" stroke="#0a0a0a" stroke-width="0.22">human data</text>
<text x="445.2" y="205.7" font-size="9.7" textLength="30.9" lengthAdjust="spacingAndGlyphs" fill="#0a0a0a" stroke="#0a0a0a" stroke-width="0.22">Video 4</text>
<text x="445.2" y="217.6" font-size="9.7" textLength="102.3" lengthAdjust="spacingAndGlyphs" fill="#0a0a0a" stroke="#0a0a0a" stroke-width="0.22">mice with HCN4-targeted</text>
<text x="445.2" y="229.7" font-size="9.7" textLength="94" lengthAdjust="spacingAndGlyphs" fill="#0a0a0a" stroke="#0a0a0a" stroke-width="0.22">expression of a calcium</text>
<text x="445.2" y="241.6" font-size="9.7" textLength="23" lengthAdjust="spacingAndGlyphs" fill="#0a0a0a" stroke="#0a0a0a" stroke-width="0.22">probe</text>
<rect x="350.4" y="200.4" width="66.1" height="39.2" rx="1.6" fill="#fff" fill-opacity="0.85" stroke="#cfcfcf" stroke-width="0.8"/>
<circle cx="361.9" cy="207.5" r="1.55" fill="none" stroke="#3838fc" stroke-width="0.85"/>
<circle cx="361.9" cy="219.5" r="0.9" fill="#ff1414"/>
<circle cx="361.9" cy="231.5" r="1.0" fill="#008c00"/>
<text x="376.9" y="210.3" font-size="8.8" textLength="35.8" lengthAdjust="spacingAndGlyphs" fill="#1a1a1a">Sampled</text>
<text x="376.9" y="222.3" font-size="8.8" textLength="29.7" lengthAdjust="spacingAndGlyphs" fill="#1a1a1a">Control</text>
<text x="376.9" y="234.4" font-size="8.8" textLength="34.4" lengthAdjust="spacingAndGlyphs" fill="#1a1a1a">Residual</text>
</svg>
</body>
</html>
